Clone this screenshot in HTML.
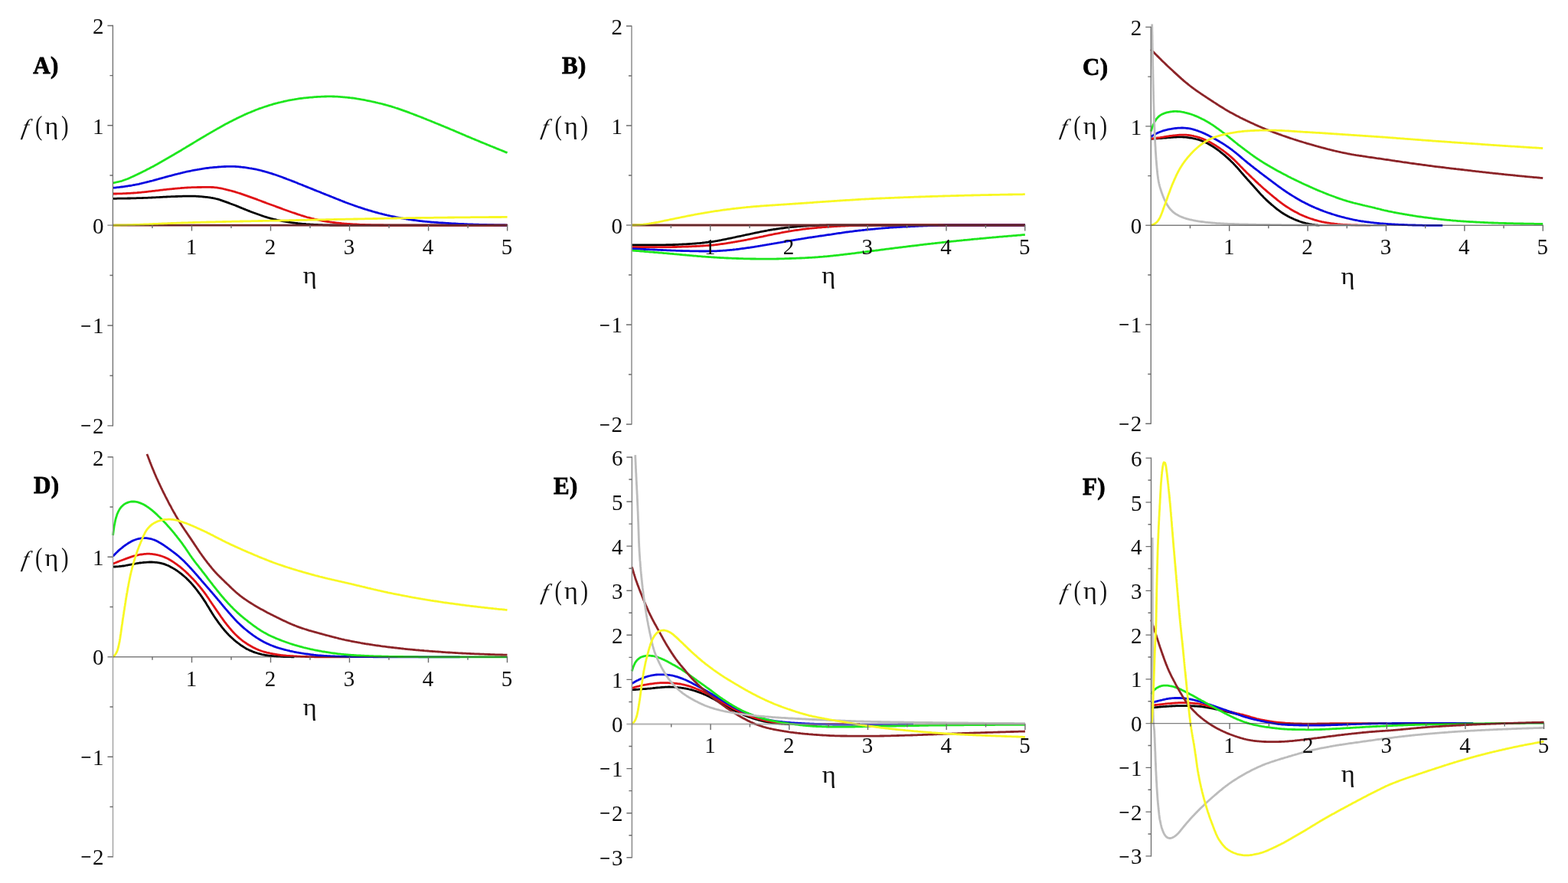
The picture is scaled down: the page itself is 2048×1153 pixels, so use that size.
<!DOCTYPE html>
<html lang="en">
<head>
<meta charset="utf-8">
<title>f(η) plots</title>
<style>
html,body{margin:0;padding:0;background:#fff;}
body{width:2048px;height:1153px;overflow:hidden;}
svg{display:block;font-family:"Liberation Serif","DejaVu Serif",serif;}
.ax{fill:none;stroke-linecap:butt;}
.tick{stroke:#6c6c6c;stroke-width:1.4;}
.cv{fill:none;stroke-width:2.8;stroke-linejoin:round;stroke-linecap:butt;}
.tk{font-size:29px;fill:#0c0c0c;}
.mn{font-size:25px;font-weight:bold;fill:#0c0c0c;}
.lt{font-size:31px;font-weight:bold;fill:#000;stroke:#000;stroke-width:0.8;letter-spacing:0.3px;}
.fl{fill:#111;}
.it{font-size:29.7px;font-style:italic;}
.pr{font-size:36.7px;}
.gk{font-size:32.35px;}
.et{font-size:32.3px;fill:#111;}
</style>
</head>
<body>
<svg xmlns="http://www.w3.org/2000/svg" width="2048" height="1153" viewBox="0 0 2048 1153">
<rect width="2048" height="1153" fill="#ffffff"/>
<g class="panel" id="panel-A">
<path class="cv" stroke="#000000" d="M147.4 259.3 L148.9 259.3 L150.4 259.3 L151.9 259.3 L153.4 259.2 L154.9 259.2 L156.4 259.2 L157.9 259.2 L159.4 259.2 L160.9 259.1 L162.4 259.1 L163.9 259.1 L165.4 259.1 L166.9 259.0 L168.4 259.0 L169.9 259.0 L171.4 258.9 L172.9 258.9 L174.4 258.9 L175.9 258.8 L177.4 258.8 L178.9 258.7 L180.4 258.7 L181.9 258.7 L183.4 258.6 L184.9 258.6 L186.4 258.5 L187.9 258.4 L189.4 258.4 L190.9 258.3 L192.4 258.3 L193.9 258.2 L195.4 258.1 L196.9 258.1 L198.4 258.0 L199.9 257.9 L201.4 257.9 L202.9 257.8 L204.4 257.7 L205.9 257.6 L207.4 257.6 L208.8 257.5 L210.3 257.4 L211.8 257.3 L213.3 257.2 L214.8 257.2 L216.3 257.1 L217.8 257.0 L219.3 256.9 L220.8 256.9 L222.3 256.8 L223.8 256.7 L225.3 256.7 L226.8 256.6 L228.3 256.6 L229.8 256.5 L231.3 256.5 L232.8 256.4 L234.3 256.4 L235.8 256.3 L237.3 256.3 L238.8 256.2 L240.3 256.2 L241.8 256.2 L243.3 256.1 L244.8 256.1 L246.3 256.1 L247.8 256.1 L249.3 256.1 L250.8 256.1 L252.3 256.1 L253.8 256.2 L255.3 256.2 L256.8 256.3 L258.3 256.4 L259.8 256.5 L261.3 256.6 L262.8 256.7 L264.3 256.8 L265.8 257.0 L267.3 257.1 L268.7 257.3 L270.2 257.4 L271.7 257.6 L273.2 257.8 L274.7 258.0 L276.2 258.3 L277.6 258.5 L279.1 258.8 L280.6 259.1 L282.0 259.5 L283.5 259.8 L284.9 260.2 L286.4 260.7 L287.8 261.1 L289.2 261.6 L290.6 262.1 L292.0 262.6 L293.5 263.1 L294.9 263.6 L296.3 264.1 L297.7 264.6 L299.1 265.1 L300.5 265.7 L301.9 266.2 L303.3 266.7 L304.7 267.3 L306.1 267.8 L307.5 268.3 L308.9 268.9 L310.3 269.4 L311.7 270.0 L313.1 270.6 L314.4 271.1 L315.8 271.7 L317.2 272.3 L318.6 272.9 L320.0 273.4 L321.4 274.0 L322.8 274.5 L324.2 275.1 L325.6 275.6 L327.0 276.2 L328.4 276.7 L329.8 277.2 L331.2 277.8 L332.6 278.3 L334.0 278.8 L335.4 279.3 L336.8 279.8 L338.2 280.3 L339.6 280.8 L341.0 281.3 L342.5 281.8 L343.9 282.3 L345.3 282.8 L346.7 283.2 L348.2 283.7 L349.6 284.1 L351.0 284.5 L352.5 284.9 L353.9 285.3 L355.4 285.7 L356.8 286.0 L358.3 286.4 L359.8 286.7 L361.2 287.1 L362.7 287.4 L364.2 287.7 L365.6 288.0 L367.1 288.3 L368.6 288.6 L370.0 288.9 L371.5 289.2 L373.0 289.4 L374.5 289.7 L375.9 289.9 L377.4 290.1 L378.9 290.4 L380.4 290.6 L381.9 290.8 L383.4 291.0 L384.8 291.1 L386.3 291.3 L387.8 291.5 L389.3 291.7 L390.8 291.8 L392.3 292.0 L393.8 292.1 L395.3 292.3 L396.8 292.4 L398.3 292.5 L399.8 292.7 L401.3 292.8 L402.8 292.9 L404.2 293.0 L405.7 293.1 L407.2 293.2 L408.7 293.2 L410.2 293.3 L411.7 293.4 L413.2 293.4 L414.7 293.5 L416.2 293.6 L417.7 293.6 L419.2 293.7 L420.7 293.7 L422.2 293.8 L423.7 293.8 L425.2 293.9 L426.7 293.9 L428.2 293.9 L429.7 293.9 L431.2 294.0 L432.7 294.0 L434.2 294.0 L435.7 294.0 L437.2 294.0 L438.7 294.0 L440.2 294.0 L441.7 294.0 L443.2 294.1 L444.7 294.1 L446.2 294.1 L447.7 294.1 L449.2 294.1 L450.7 294.1 L452.2 294.1 L453.7 294.1 L455.2 294.1 L456.7 294.1 L458.2 294.1 L459.7 294.1 L461.7 294.1 L463.7 294.1 L465.7 294.1 L467.7 294.1 L469.7 294.1 L471.7 294.1 L473.7 294.1 L475.7 294.1 L477.7 294.1 L479.7 294.1 L481.7 294.1 L483.7 294.1 L485.7 294.1 L487.7 294.1 L489.7 294.1 L491.7 294.1 L493.7 294.1 L495.7 294.1 L497.7 294.1 L499.7 294.1 L501.7 294.1 L503.7 294.1 L505.7 294.1 L507.7 294.1 L509.7 294.1 L511.7 294.1 L513.7 294.1 L515.7 294.1 L517.7 294.1 L519.7 294.1 L521.7 294.1 L523.7 294.1 L525.7 294.1 L527.7 294.1 L529.7 294.1 L531.7 294.1 L533.7 294.1 L535.7 294.1 L537.7 294.1 L539.7 294.1 L541.7 294.1 L543.7 294.1 L545.7 294.1 L547.7 294.1 L549.7 294.1 L551.7 294.1 L553.7 294.1 L555.7 294.1 L557.7 294.1 L559.7 294.1 L561.7 294.1 L563.7 294.1 L565.7 294.1 L567.7 294.1 L569.7 294.1 L571.7 294.1 L573.7 294.1 L575.7 294.1 L577.7 294.1 L579.7 294.1 L581.7 294.1 L583.7 294.1 L585.7 294.1 L587.7 294.1 L589.7 294.1 L591.7 294.1 L593.7 294.1 L595.7 294.1 L597.7 294.1 L599.7 294.1 L601.7 294.1 L603.7 294.1 L605.7 294.1 L607.7 294.1 L609.7 294.1 L611.7 294.1 L613.7 294.1 L615.7 294.1 L617.7 294.1 L619.7 294.1 L621.7 294.1 L623.7 294.1 L625.7 294.1 L627.7 294.1 L629.7 294.1 L631.7 294.1 L633.7 294.1 L635.7 294.1 L637.7 294.1 L639.7 294.1 L641.7 294.1 L643.7 294.1 L645.7 294.1 L647.7 294.1 L649.7 294.1 L651.7 294.1 L653.7 294.1 L655.7 294.1 L657.7 294.1 L659.7 294.1 L661.7 294.1 L662.6 294.1"/>
<path class="cv" stroke="#e01216" d="M147.4 253.0 L148.9 253.0 L150.4 253.0 L151.9 253.0 L153.4 252.9 L154.9 252.9 L156.4 252.9 L157.9 252.8 L159.4 252.8 L160.9 252.7 L162.4 252.6 L163.9 252.6 L165.4 252.5 L166.9 252.4 L168.4 252.4 L169.9 252.3 L171.4 252.2 L172.9 252.1 L174.4 252.0 L175.9 251.9 L177.4 251.8 L178.9 251.7 L180.3 251.5 L181.8 251.4 L183.3 251.3 L184.8 251.1 L186.3 250.9 L187.8 250.8 L189.3 250.6 L190.8 250.5 L192.3 250.3 L193.8 250.1 L195.3 249.9 L196.7 249.8 L198.2 249.6 L199.7 249.4 L201.2 249.3 L202.7 249.1 L204.2 248.9 L205.7 248.8 L207.2 248.6 L208.7 248.4 L210.2 248.2 L211.6 248.1 L213.1 247.9 L214.6 247.7 L216.1 247.6 L217.6 247.4 L219.1 247.2 L220.6 247.1 L222.1 246.9 L223.6 246.8 L225.1 246.6 L226.6 246.5 L228.1 246.4 L229.5 246.2 L231.0 246.1 L232.5 245.9 L234.0 245.8 L235.5 245.7 L237.0 245.5 L238.5 245.4 L240.0 245.3 L241.5 245.2 L243.0 245.1 L244.5 245.0 L246.0 244.9 L247.5 244.9 L249.0 244.8 L250.5 244.7 L252.0 244.7 L253.5 244.6 L255.0 244.6 L256.5 244.6 L258.0 244.5 L259.5 244.5 L261.0 244.5 L262.5 244.5 L264.0 244.4 L265.5 244.4 L267.0 244.4 L268.5 244.4 L270.0 244.4 L272.0 244.4 L273.5 244.4 L275.0 244.4 L276.5 244.5 L278.0 244.5 L279.5 244.6 L280.9 244.8 L282.4 244.9 L283.9 245.1 L285.4 245.4 L286.9 245.6 L288.3 245.9 L289.8 246.2 L291.3 246.5 L292.7 246.9 L294.2 247.2 L295.6 247.6 L297.1 247.9 L298.6 248.3 L300.0 248.7 L301.5 249.0 L302.9 249.4 L304.4 249.8 L305.8 250.2 L307.2 250.6 L308.7 251.1 L310.1 251.5 L311.5 252.0 L313.0 252.4 L314.4 252.9 L315.8 253.4 L317.2 253.9 L318.6 254.4 L320.0 254.9 L321.5 255.4 L322.9 255.9 L324.3 256.4 L325.7 256.9 L327.1 257.4 L328.5 257.9 L329.9 258.4 L331.3 258.9 L332.8 259.4 L334.2 259.9 L335.6 260.4 L337.0 261.0 L338.4 261.5 L339.8 262.0 L341.2 262.5 L342.6 263.1 L344.0 263.6 L345.4 264.1 L346.8 264.6 L348.2 265.2 L349.6 265.7 L351.0 266.2 L352.4 266.7 L353.8 267.2 L355.3 267.8 L356.7 268.3 L358.1 268.8 L359.5 269.3 L360.9 269.9 L362.3 270.4 L363.7 270.9 L365.1 271.4 L366.5 271.9 L367.9 272.4 L369.3 273.0 L370.7 273.5 L372.1 274.0 L373.6 274.5 L375.0 275.0 L376.4 275.5 L377.8 276.0 L379.2 276.5 L380.6 277.0 L382.0 277.5 L383.5 277.9 L384.9 278.4 L386.3 278.9 L387.7 279.4 L389.1 279.9 L390.6 280.3 L392.0 280.8 L393.4 281.3 L394.8 281.7 L396.3 282.2 L397.7 282.6 L399.1 283.0 L400.6 283.5 L402.0 283.9 L403.5 284.2 L404.9 284.6 L406.4 285.0 L407.8 285.4 L409.3 285.7 L410.8 286.1 L412.2 286.4 L413.7 286.7 L415.1 287.0 L416.6 287.4 L418.1 287.7 L419.5 288.0 L421.0 288.3 L422.5 288.5 L424.0 288.8 L425.4 289.0 L426.9 289.3 L428.4 289.5 L429.9 289.7 L431.4 290.0 L432.9 290.2 L434.3 290.4 L435.8 290.5 L437.3 290.7 L438.8 290.9 L440.3 291.1 L441.8 291.2 L443.3 291.4 L444.8 291.5 L446.3 291.7 L447.8 291.8 L449.3 292.0 L450.7 292.1 L452.2 292.2 L453.7 292.3 L455.2 292.4 L456.7 292.5 L458.2 292.6 L459.7 292.7 L461.2 292.8 L462.7 292.9 L464.2 293.0 L465.7 293.0 L467.2 293.1 L468.7 293.2 L470.2 293.3 L471.7 293.3 L473.2 293.4 L474.7 293.5 L476.2 293.5 L477.7 293.6 L479.2 293.6 L480.7 293.7 L482.2 293.7 L483.7 293.7 L485.2 293.8 L486.7 293.8 L488.2 293.8 L489.7 293.9 L491.2 293.9 L492.7 293.9 L494.2 293.9 L495.7 294.0 L497.2 294.0 L498.7 294.0 L500.2 294.0 L501.7 294.1 L503.2 294.1 L504.7 294.1 L506.2 294.1 L507.7 294.1 L509.2 294.1 L510.7 294.1 L512.2 294.1 L513.7 294.1 L515.2 294.1 L517.2 294.1 L519.2 294.1 L521.2 294.1 L523.2 294.1 L525.2 294.1 L527.2 294.1 L529.2 294.1 L531.2 294.1 L533.2 294.1 L535.2 294.1 L537.2 294.1 L539.2 294.1 L541.2 294.1 L543.2 294.1 L545.2 294.1 L547.2 294.1 L549.2 294.1 L551.2 294.1 L553.2 294.1 L555.2 294.1 L557.2 294.1 L559.2 294.1 L561.2 294.1 L563.2 294.1 L565.2 294.1 L567.2 294.1 L569.2 294.1 L571.2 294.1 L573.2 294.1 L575.2 294.1 L577.2 294.1 L579.2 294.1 L581.2 294.1 L583.2 294.1 L585.2 294.1 L587.2 294.1 L589.2 294.1 L591.2 294.1 L593.2 294.1 L595.2 294.1 L597.2 294.1 L599.2 294.1 L601.2 294.1 L603.2 294.1 L605.2 294.1 L607.2 294.1 L609.2 294.1 L611.2 294.1 L613.2 294.1 L615.2 294.1 L617.2 294.1 L619.2 294.1 L621.2 294.1 L623.2 294.1 L625.2 294.1 L627.2 294.1 L629.2 294.1 L631.2 294.1 L633.2 294.1 L635.2 294.1 L637.2 294.1 L639.2 294.1 L641.2 294.1 L643.2 294.1 L645.2 294.1 L647.2 294.1 L649.2 294.1 L651.2 294.1 L653.2 294.1 L655.2 294.1 L657.2 294.1 L659.2 294.1 L661.2 294.1 L662.6 294.1"/>
<path class="cv" stroke="#0808e0" d="M147.4 245.4 L148.9 245.2 L150.4 245.1 L151.9 244.9 L153.4 244.7 L154.9 244.6 L156.3 244.4 L157.8 244.2 L159.3 244.0 L160.8 243.8 L162.3 243.6 L163.8 243.4 L165.3 243.2 L166.7 243.0 L168.2 242.7 L169.7 242.5 L171.2 242.3 L172.7 242.0 L174.1 241.7 L175.6 241.5 L177.1 241.2 L178.5 240.9 L180.0 240.6 L181.5 240.3 L182.9 239.9 L184.4 239.6 L185.9 239.2 L187.3 238.9 L188.8 238.5 L190.2 238.2 L191.7 237.8 L193.1 237.4 L194.6 237.1 L196.0 236.7 L197.5 236.3 L198.9 236.0 L200.4 235.6 L201.8 235.2 L203.3 234.8 L204.7 234.4 L206.2 234.0 L207.6 233.6 L209.1 233.2 L210.5 232.8 L212.0 232.4 L213.4 232.0 L214.9 231.6 L216.3 231.2 L217.7 230.8 L219.2 230.4 L220.6 230.0 L222.1 229.6 L223.5 229.3 L225.0 228.9 L226.4 228.5 L227.9 228.1 L229.3 227.7 L230.8 227.4 L232.3 227.0 L233.7 226.6 L235.2 226.3 L236.6 225.9 L238.1 225.6 L239.5 225.2 L241.0 224.9 L242.5 224.5 L243.9 224.2 L245.4 223.9 L246.8 223.6 L248.3 223.3 L249.8 223.0 L251.3 222.7 L252.7 222.4 L254.2 222.1 L255.7 221.8 L257.1 221.6 L258.6 221.3 L260.1 221.1 L261.6 220.8 L263.1 220.6 L264.5 220.3 L266.0 220.1 L267.5 219.9 L269.0 219.7 L270.5 219.5 L272.0 219.3 L273.4 219.1 L274.9 218.9 L276.4 218.8 L277.9 218.6 L279.4 218.5 L280.9 218.4 L282.4 218.3 L283.9 218.1 L285.4 218.0 L286.9 217.9 L288.4 217.8 L289.9 217.7 L291.4 217.6 L292.9 217.5 L294.4 217.5 L295.9 217.4 L297.4 217.4 L298.9 217.3 L300.4 217.3 L301.9 217.3 L303.4 217.3 L304.8 217.4 L306.3 217.4 L307.8 217.5 L309.3 217.6 L310.8 217.7 L312.3 217.9 L313.8 218.0 L315.3 218.2 L316.8 218.3 L318.3 218.5 L319.8 218.7 L321.3 218.9 L322.7 219.1 L324.2 219.3 L325.7 219.6 L327.2 219.8 L328.7 220.0 L330.1 220.3 L331.6 220.6 L333.1 220.9 L334.6 221.2 L336.0 221.5 L337.5 221.8 L338.9 222.2 L340.4 222.5 L341.8 222.9 L343.3 223.3 L344.7 223.7 L346.2 224.1 L347.6 224.5 L349.1 224.9 L350.5 225.3 L351.9 225.8 L353.4 226.2 L354.8 226.6 L356.2 227.1 L357.7 227.6 L359.1 228.0 L360.5 228.5 L361.9 229.0 L363.3 229.5 L364.7 230.0 L366.2 230.5 L367.6 231.0 L369.0 231.5 L370.4 232.1 L371.8 232.6 L373.2 233.1 L374.6 233.7 L376.0 234.2 L377.4 234.7 L378.8 235.3 L380.2 235.8 L381.6 236.4 L383.0 236.9 L384.4 237.4 L385.8 238.0 L387.2 238.5 L388.5 239.1 L389.9 239.7 L391.3 240.2 L392.7 240.8 L394.1 241.3 L395.5 241.9 L396.9 242.5 L398.3 243.0 L399.7 243.6 L401.1 244.1 L402.5 244.7 L403.8 245.3 L405.2 245.8 L406.6 246.4 L408.0 246.9 L409.4 247.5 L410.8 248.1 L412.2 248.6 L413.6 249.2 L415.0 249.7 L416.4 250.3 L417.8 250.8 L419.2 251.4 L420.5 252.0 L421.9 252.5 L423.3 253.1 L424.7 253.6 L426.1 254.2 L427.5 254.7 L428.9 255.3 L430.3 255.9 L431.7 256.4 L433.1 257.0 L434.5 257.5 L435.9 258.1 L437.2 258.6 L438.6 259.2 L440.0 259.8 L441.4 260.3 L442.8 260.9 L444.2 261.4 L445.6 262.0 L447.0 262.5 L448.4 263.1 L449.8 263.6 L451.2 264.2 L452.6 264.7 L454.0 265.2 L455.4 265.8 L456.8 266.3 L458.2 266.8 L459.6 267.3 L461.0 267.8 L462.4 268.3 L463.9 268.8 L465.3 269.3 L466.7 269.8 L468.1 270.3 L469.5 270.7 L471.0 271.2 L472.4 271.7 L473.8 272.1 L475.2 272.6 L476.7 273.1 L478.1 273.5 L479.5 273.9 L481.0 274.4 L482.4 274.8 L483.8 275.2 L485.3 275.6 L486.7 276.1 L488.2 276.5 L489.6 276.9 L491.0 277.3 L492.5 277.7 L493.9 278.1 L495.4 278.5 L496.8 278.8 L498.3 279.2 L499.7 279.6 L501.2 279.9 L502.7 280.3 L504.1 280.6 L505.6 281.0 L507.0 281.3 L508.5 281.7 L510.0 282.0 L511.4 282.3 L512.9 282.6 L514.4 282.9 L515.8 283.2 L517.3 283.5 L518.8 283.8 L520.2 284.1 L521.7 284.4 L523.2 284.7 L524.7 285.0 L526.1 285.2 L527.6 285.5 L529.1 285.7 L530.6 286.0 L532.0 286.2 L533.5 286.5 L535.0 286.7 L536.5 286.9 L538.0 287.1 L539.5 287.3 L540.9 287.5 L542.4 287.7 L543.9 287.9 L545.4 288.1 L546.9 288.3 L548.4 288.5 L549.9 288.6 L551.4 288.8 L552.8 289.0 L554.3 289.1 L555.8 289.3 L557.3 289.4 L558.8 289.6 L560.3 289.7 L561.8 289.8 L563.3 290.0 L564.8 290.1 L566.3 290.2 L567.8 290.3 L569.3 290.4 L570.8 290.5 L572.3 290.6 L573.8 290.8 L575.3 290.9 L576.8 291.0 L578.3 291.0 L579.7 291.1 L581.2 291.2 L582.7 291.3 L584.2 291.4 L585.7 291.5 L587.2 291.6 L588.7 291.7 L590.2 291.8 L591.7 291.9 L593.2 291.9 L594.7 292.0 L596.2 292.1 L597.7 292.2 L599.2 292.3 L600.7 292.3 L602.2 292.4 L603.7 292.5 L605.2 292.5 L606.7 292.6 L608.2 292.7 L609.7 292.7 L611.2 292.8 L612.7 292.8 L614.2 292.9 L615.7 293.0 L617.2 293.0 L618.7 293.1 L620.2 293.1 L621.7 293.2 L623.2 293.2 L624.7 293.2 L626.2 293.3 L627.7 293.3 L629.2 293.4 L630.7 293.4 L632.2 293.5 L633.7 293.5 L635.2 293.5 L636.7 293.6 L638.2 293.6 L639.7 293.6 L641.2 293.7 L642.7 293.7 L644.2 293.7 L645.7 293.8 L647.2 293.8 L648.7 293.8 L650.2 293.9 L651.7 293.9 L653.2 293.9 L654.7 294.0 L656.2 294.0 L657.7 294.0 L659.2 294.0 L660.7 294.1 L662.2 294.1 L662.6 294.1"/>
<path class="cv" stroke="#1ee61e" d="M147.4 238.8 L148.9 238.6 L150.3 238.3 L151.8 238.0 L153.3 237.7 L154.7 237.4 L156.2 237.0 L157.6 236.7 L159.1 236.3 L160.5 235.8 L161.9 235.3 L163.3 234.8 L164.7 234.3 L166.1 233.8 L167.5 233.2 L168.9 232.6 L170.2 232.0 L171.6 231.3 L173.0 230.7 L174.3 230.1 L175.7 229.5 L177.0 228.8 L178.4 228.2 L179.7 227.5 L181.1 226.9 L182.4 226.2 L183.8 225.6 L185.1 224.9 L186.5 224.2 L187.8 223.6 L189.2 222.9 L190.5 222.2 L191.8 221.5 L193.2 220.8 L194.5 220.2 L195.8 219.5 L197.1 218.8 L198.5 218.1 L199.8 217.4 L201.1 216.7 L202.4 215.9 L203.7 215.2 L205.1 214.5 L206.4 213.8 L207.7 213.0 L209.0 212.3 L210.3 211.6 L211.6 210.8 L212.9 210.1 L214.2 209.3 L215.5 208.6 L216.8 207.8 L218.1 207.1 L219.4 206.3 L220.7 205.6 L222.0 204.8 L223.3 204.1 L224.6 203.3 L225.9 202.6 L227.2 201.8 L228.4 201.0 L229.7 200.3 L231.0 199.5 L232.3 198.8 L233.6 198.0 L234.9 197.2 L236.2 196.5 L237.5 195.7 L238.7 194.9 L240.0 194.1 L241.3 193.4 L242.6 192.6 L243.9 191.8 L245.2 191.1 L246.5 190.3 L247.7 189.5 L249.0 188.7 L250.3 188.0 L251.6 187.2 L252.9 186.4 L254.2 185.6 L255.4 184.9 L256.7 184.1 L258.0 183.3 L259.3 182.6 L260.6 181.8 L261.9 181.0 L263.1 180.2 L264.4 179.5 L265.7 178.7 L267.0 177.9 L268.3 177.2 L269.6 176.4 L270.9 175.6 L272.2 174.9 L273.5 174.1 L274.8 173.4 L276.1 172.6 L277.4 171.9 L278.7 171.1 L280.0 170.4 L281.3 169.6 L282.6 168.9 L283.9 168.1 L285.2 167.4 L286.5 166.7 L287.8 165.9 L289.1 165.2 L290.4 164.5 L291.7 163.8 L293.0 163.0 L294.3 162.3 L295.7 161.6 L297.0 160.9 L298.3 160.2 L299.6 159.5 L301.0 158.8 L302.3 158.2 L303.6 157.5 L305.0 156.8 L306.3 156.1 L307.7 155.5 L309.0 154.8 L310.3 154.1 L311.7 153.5 L313.0 152.8 L314.4 152.2 L315.8 151.5 L317.1 150.9 L318.5 150.3 L319.8 149.6 L321.2 149.0 L322.6 148.4 L323.9 147.8 L325.3 147.2 L326.7 146.7 L328.1 146.1 L329.5 145.5 L330.9 145.0 L332.3 144.4 L333.6 143.8 L335.0 143.3 L336.4 142.8 L337.8 142.2 L339.3 141.7 L340.7 141.2 L342.1 140.7 L343.5 140.2 L344.9 139.7 L346.3 139.2 L347.7 138.8 L349.2 138.3 L350.6 137.9 L352.0 137.4 L353.5 137.0 L354.9 136.6 L356.3 136.1 L357.8 135.7 L359.2 135.3 L360.7 134.9 L362.1 134.6 L363.6 134.2 L365.0 133.8 L366.5 133.5 L367.9 133.1 L369.4 132.8 L370.9 132.4 L372.3 132.1 L373.8 131.8 L375.3 131.5 L376.7 131.2 L378.2 130.9 L379.7 130.6 L381.1 130.4 L382.6 130.1 L384.1 129.9 L385.6 129.6 L387.1 129.4 L388.5 129.2 L390.0 128.9 L391.5 128.7 L393.0 128.5 L394.5 128.3 L396.0 128.1 L397.4 127.9 L398.9 127.8 L400.4 127.6 L401.9 127.5 L403.4 127.3 L404.9 127.2 L406.4 127.1 L407.9 127.0 L409.4 126.8 L410.9 126.7 L412.4 126.6 L413.9 126.5 L415.4 126.4 L416.9 126.4 L418.4 126.3 L419.9 126.2 L421.3 126.1 L422.8 126.1 L424.3 126.0 L425.8 126.0 L427.3 125.9 L428.8 125.9 L430.3 125.9 L431.8 125.9 L433.3 125.9 L434.8 126.0 L436.3 126.0 L437.8 126.1 L439.3 126.2 L440.8 126.2 L442.3 126.3 L443.8 126.4 L445.3 126.6 L446.8 126.7 L448.3 126.8 L449.8 126.9 L451.3 127.1 L452.8 127.2 L454.3 127.3 L455.7 127.5 L457.2 127.7 L458.7 127.8 L460.2 128.0 L461.7 128.2 L463.2 128.4 L464.7 128.6 L466.1 128.9 L467.6 129.1 L469.1 129.3 L470.6 129.6 L472.1 129.9 L473.5 130.1 L475.0 130.4 L476.5 130.7 L477.9 131.0 L479.4 131.3 L480.9 131.6 L482.4 131.9 L483.8 132.2 L485.3 132.5 L486.8 132.8 L488.2 133.1 L489.7 133.4 L491.1 133.8 L492.6 134.1 L494.1 134.5 L495.5 134.8 L497.0 135.2 L498.4 135.5 L499.9 135.9 L501.3 136.3 L502.8 136.7 L504.2 137.1 L505.7 137.5 L507.1 137.9 L508.5 138.3 L510.0 138.7 L511.4 139.1 L512.9 139.6 L514.3 140.0 L515.7 140.5 L517.1 141.0 L518.6 141.4 L520.0 141.9 L521.4 142.4 L522.8 142.9 L524.2 143.4 L525.6 143.9 L527.0 144.4 L528.5 144.9 L529.9 145.4 L531.3 145.9 L532.7 146.4 L534.1 146.9 L535.5 147.5 L536.9 148.0 L538.3 148.5 L539.7 149.0 L541.1 149.6 L542.5 150.1 L543.9 150.6 L545.3 151.2 L546.7 151.7 L548.1 152.3 L549.5 152.8 L550.9 153.4 L552.3 153.9 L553.7 154.5 L555.1 155.0 L556.5 155.6 L557.8 156.2 L559.2 156.7 L560.6 157.3 L562.0 157.8 L563.4 158.4 L564.8 159.0 L566.2 159.5 L567.6 160.1 L569.0 160.7 L570.3 161.2 L571.7 161.8 L573.1 162.4 L574.5 162.9 L575.9 163.5 L577.3 164.1 L578.7 164.6 L580.0 165.2 L581.4 165.8 L582.8 166.4 L584.2 166.9 L585.6 167.5 L587.0 168.1 L588.3 168.7 L589.7 169.3 L591.1 169.8 L592.5 170.4 L593.9 171.0 L595.2 171.6 L596.6 172.2 L598.0 172.8 L599.4 173.4 L600.8 174.0 L602.1 174.5 L603.5 175.1 L604.9 175.7 L606.3 176.3 L607.7 176.9 L609.0 177.5 L610.4 178.1 L611.8 178.6 L613.2 179.2 L614.6 179.8 L615.9 180.4 L617.3 181.0 L618.7 181.5 L620.1 182.1 L621.5 182.7 L622.9 183.3 L624.2 183.8 L625.6 184.4 L627.0 185.0 L628.4 185.6 L629.8 186.1 L631.2 186.7 L632.6 187.3 L633.9 187.8 L635.3 188.4 L636.7 189.0 L638.1 189.5 L639.5 190.1 L640.9 190.7 L642.3 191.2 L643.7 191.8 L645.0 192.4 L646.4 192.9 L647.8 193.5 L649.2 194.1 L650.6 194.6 L652.0 195.2 L653.4 195.8 L654.8 196.3 L656.2 196.9 L657.5 197.4 L658.9 198.0 L660.3 198.6 L661.7 199.1 L662.6 199.5"/>
<path class="cv" stroke="#8c2428" stroke-width="2.6" d="M147.4 294.1 L662.6 294.1"/>
<path class="cv" stroke="#f8f824" d="M147.4 294.1 L148.9 294.1 L150.4 294.1 L151.9 294.0 L153.4 294.0 L154.9 294.0 L156.4 294.0 L157.9 293.9 L159.4 293.9 L160.9 293.9 L162.4 293.8 L163.9 293.8 L165.4 293.8 L166.9 293.7 L168.4 293.7 L169.9 293.7 L171.4 293.6 L172.9 293.6 L174.4 293.5 L175.9 293.5 L177.4 293.4 L178.9 293.4 L180.4 293.3 L181.9 293.3 L183.4 293.2 L184.9 293.1 L186.4 293.1 L187.9 293.0 L189.4 292.9 L190.9 292.9 L192.4 292.8 L193.9 292.8 L195.4 292.7 L196.9 292.6 L198.4 292.6 L199.9 292.5 L201.4 292.4 L202.9 292.4 L204.4 292.3 L205.9 292.3 L207.4 292.2 L208.9 292.1 L210.3 292.1 L211.8 292.0 L213.3 292.0 L214.8 291.9 L216.3 291.8 L217.8 291.8 L219.3 291.7 L220.8 291.7 L222.3 291.6 L223.8 291.5 L225.3 291.5 L226.8 291.4 L228.3 291.4 L229.8 291.3 L231.3 291.2 L232.8 291.2 L234.3 291.1 L235.8 291.1 L237.3 291.0 L238.8 291.0 L240.3 290.9 L241.8 290.9 L243.3 290.8 L244.8 290.8 L246.3 290.7 L247.8 290.7 L249.3 290.6 L250.8 290.6 L252.3 290.5 L253.8 290.5 L255.3 290.4 L256.8 290.4 L258.3 290.4 L259.8 290.3 L261.3 290.3 L262.8 290.2 L264.3 290.2 L265.8 290.1 L267.3 290.1 L268.8 290.1 L270.3 290.0 L271.8 290.0 L273.3 290.0 L274.8 289.9 L276.3 289.9 L277.8 289.8 L279.3 289.8 L280.8 289.8 L282.3 289.7 L283.8 289.7 L285.3 289.7 L286.8 289.6 L288.3 289.6 L289.8 289.6 L291.3 289.5 L292.8 289.5 L294.3 289.5 L295.8 289.4 L297.3 289.4 L298.8 289.4 L300.3 289.3 L301.8 289.3 L303.3 289.2 L304.8 289.2 L306.3 289.2 L307.8 289.2 L309.3 289.1 L310.8 289.1 L312.3 289.1 L313.8 289.0 L315.3 289.0 L316.8 289.0 L318.3 288.9 L319.8 288.9 L321.3 288.9 L322.8 288.8 L324.3 288.8 L325.8 288.8 L327.3 288.8 L328.8 288.7 L330.3 288.7 L331.8 288.7 L333.3 288.6 L334.8 288.6 L336.3 288.6 L337.8 288.5 L339.3 288.5 L340.8 288.5 L342.3 288.5 L343.8 288.4 L345.3 288.4 L346.8 288.4 L348.3 288.3 L349.8 288.3 L351.3 288.3 L352.8 288.2 L354.3 288.2 L355.8 288.2 L357.3 288.2 L358.8 288.1 L360.3 288.1 L361.8 288.1 L363.3 288.0 L364.8 288.0 L366.3 288.0 L367.8 287.9 L369.3 287.9 L370.8 287.9 L372.3 287.9 L373.8 287.8 L375.3 287.8 L376.8 287.8 L378.3 287.7 L379.8 287.7 L381.2 287.7 L382.7 287.6 L384.2 287.6 L385.7 287.6 L387.2 287.5 L388.7 287.5 L390.2 287.5 L391.7 287.4 L393.2 287.4 L394.7 287.4 L396.2 287.4 L397.7 287.3 L399.2 287.3 L400.7 287.3 L402.2 287.2 L403.7 287.2 L405.2 287.2 L406.7 287.1 L408.2 287.1 L409.7 287.1 L411.2 287.0 L412.7 287.0 L414.2 287.0 L415.7 287.0 L417.2 286.9 L418.7 286.9 L420.2 286.9 L421.7 286.8 L423.2 286.8 L424.7 286.8 L426.2 286.7 L427.7 286.7 L429.2 286.7 L430.7 286.7 L432.2 286.6 L433.7 286.6 L435.2 286.6 L436.7 286.5 L438.2 286.5 L439.7 286.5 L441.2 286.4 L442.7 286.4 L444.2 286.4 L445.7 286.4 L447.2 286.3 L448.7 286.3 L450.2 286.3 L451.7 286.2 L453.2 286.2 L454.7 286.2 L456.2 286.2 L457.7 286.1 L459.2 286.1 L460.7 286.1 L462.2 286.0 L463.7 286.0 L465.2 286.0 L466.7 286.0 L468.2 285.9 L469.7 285.9 L471.2 285.9 L472.7 285.8 L474.2 285.8 L475.7 285.8 L477.2 285.7 L478.7 285.7 L480.2 285.7 L481.7 285.7 L483.2 285.6 L484.7 285.6 L486.2 285.6 L487.7 285.5 L489.2 285.5 L490.7 285.5 L492.2 285.5 L493.7 285.4 L495.2 285.4 L496.7 285.4 L498.2 285.3 L499.7 285.3 L501.2 285.3 L502.7 285.2 L504.2 285.2 L505.7 285.2 L507.2 285.2 L508.7 285.1 L510.2 285.1 L511.7 285.1 L513.2 285.1 L514.7 285.0 L516.2 285.0 L517.7 285.0 L519.2 284.9 L520.7 284.9 L522.2 284.9 L523.7 284.9 L525.2 284.8 L526.7 284.8 L528.2 284.8 L529.7 284.8 L531.2 284.7 L532.7 284.7 L534.2 284.7 L535.7 284.7 L537.2 284.6 L538.7 284.6 L540.2 284.6 L541.7 284.6 L543.2 284.5 L544.7 284.5 L546.2 284.5 L547.7 284.5 L549.2 284.5 L550.7 284.4 L552.2 284.4 L553.7 284.4 L555.2 284.4 L556.7 284.4 L558.2 284.3 L559.7 284.3 L561.2 284.3 L562.7 284.3 L564.2 284.3 L565.7 284.3 L567.2 284.2 L568.7 284.2 L570.2 284.2 L571.7 284.2 L573.2 284.2 L574.7 284.2 L576.2 284.1 L577.7 284.1 L579.2 284.1 L580.7 284.1 L582.2 284.1 L583.7 284.1 L585.2 284.0 L586.7 284.0 L588.2 284.0 L589.7 284.0 L591.2 284.0 L592.7 284.0 L594.2 283.9 L595.7 283.9 L597.2 283.9 L598.7 283.9 L600.2 283.9 L601.7 283.9 L603.2 283.9 L604.7 283.8 L606.2 283.8 L607.7 283.8 L609.2 283.8 L610.7 283.8 L612.2 283.8 L613.7 283.8 L615.2 283.7 L616.7 283.7 L618.2 283.7 L619.7 283.7 L621.2 283.7 L622.7 283.7 L624.2 283.7 L625.7 283.6 L627.2 283.6 L628.7 283.6 L630.2 283.6 L631.7 283.6 L633.2 283.6 L634.7 283.6 L636.2 283.6 L637.7 283.6 L639.2 283.5 L640.7 283.5 L642.2 283.5 L643.7 283.5 L645.2 283.5 L646.7 283.5 L648.2 283.5 L649.7 283.5 L651.2 283.5 L652.7 283.5 L654.2 283.5 L655.7 283.4 L657.2 283.4 L658.7 283.4 L660.2 283.4 L661.7 283.4 L662.6 283.4"/>
<path class="ax" stroke="#303030" stroke-width="1.4" stroke-opacity="0.62" d="M140.40 294.10 H663.25"/>
<path class="ax" stroke="#6c6c6c" stroke-width="1.3" d="M147.40 32.84 V556.50"/>
<path class="ax tick" d="M147.40 555.90 h-7.0 M147.40 490.45 h-4.0 M147.40 425.00 h-7.0 M147.40 359.55 h-4.0 M147.40 228.94 h-4.0 M147.40 163.77 h-7.0 M147.40 98.61 h-4.0 M147.40 33.44 h-7.0 M198.93 294.10 v4.0 M250.45 294.10 v7.5 M301.98 294.10 v4.0 M353.50 294.10 v7.5 M405.02 294.10 v4.0 M456.55 294.10 v7.5 M508.08 294.10 v4.0 M559.60 294.10 v7.5 M611.12 294.10 v4.0 M662.65 294.10 v7.5"/>
<text class="tk" text-anchor="end" x="135.5" y="566.0">2</text>
<text class="mn" x="105.1" y="564.4">−</text>
<text class="tk" text-anchor="end" x="135.5" y="435.3">1</text>
<text class="mn" x="105.1" y="433.7">−</text>
<text class="tk" text-anchor="end" x="135.5" y="304.6">0</text>
<text class="tk" text-anchor="end" x="135.5" y="174.5">1</text>
<text class="tk" text-anchor="end" x="135.5" y="44.3">2</text>
<text class="tk" text-anchor="middle" x="249.9" y="332.1">1</text>
<text class="tk" text-anchor="middle" x="353.0" y="332.1">2</text>
<text class="tk" text-anchor="middle" x="456.0" y="332.1">3</text>
<text class="tk" text-anchor="middle" x="559.1" y="332.1">4</text>
<text class="tk" text-anchor="middle" x="662.1" y="332.1">5</text>
<text class="lt" x="43.3" y="96">A)</text>
<text class="fl it" transform="translate(27.40 175.80) skewX(-10.4)">f</text>
<text class="fl pr" transform="translate(46.00 175.80) scale(0.765 1)">(</text>
<text class="fl gk" transform="translate(58.50 175.20) scale(1.055 1)">η</text>
<text class="fl pr" transform="translate(80.10 175.80) scale(0.78 1)">)</text>
<text class="et" transform="translate(395.70 370.40) scale(1.07 1)">η</text>
</g>
<g class="panel" id="panel-B">
<path class="cv" stroke="#000000" d="M825.0 320.0 L827.0 320.0 L829.0 320.0 L831.0 320.0 L833.0 320.0 L835.0 320.0 L837.0 320.0 L839.0 320.0 L841.0 320.0 L843.0 320.0 L845.0 320.0 L846.5 320.0 L848.0 320.0 L849.5 320.0 L851.0 320.0 L852.5 320.0 L854.0 320.0 L855.5 320.0 L857.0 320.0 L858.5 319.9 L860.0 319.9 L861.5 319.9 L863.0 319.9 L864.5 319.9 L866.0 319.8 L867.5 319.8 L869.0 319.8 L870.5 319.7 L872.0 319.7 L873.5 319.7 L875.0 319.6 L876.5 319.6 L878.0 319.6 L879.5 319.5 L881.0 319.5 L882.5 319.4 L884.0 319.4 L885.5 319.3 L887.0 319.2 L888.5 319.2 L890.0 319.1 L891.5 319.0 L893.0 318.9 L894.5 318.9 L896.0 318.8 L897.5 318.7 L898.9 318.6 L900.4 318.5 L901.9 318.4 L903.4 318.3 L904.9 318.2 L906.4 318.1 L907.9 318.0 L909.4 317.9 L910.9 317.7 L912.4 317.6 L913.9 317.5 L915.4 317.3 L916.9 317.2 L918.4 317.0 L919.9 316.9 L921.4 316.7 L922.8 316.5 L924.3 316.4 L925.8 316.2 L927.3 316.0 L928.8 315.8 L930.3 315.6 L931.8 315.3 L933.2 315.1 L934.7 314.8 L936.2 314.6 L937.7 314.3 L939.1 314.0 L940.6 313.8 L942.1 313.5 L943.6 313.2 L945.0 312.9 L946.5 312.6 L948.0 312.3 L949.4 312.0 L950.9 311.7 L952.4 311.4 L953.8 311.1 L955.3 310.8 L956.8 310.5 L958.2 310.2 L959.7 309.9 L961.2 309.5 L962.6 309.2 L964.1 308.9 L965.6 308.6 L967.0 308.3 L968.5 308.0 L970.0 307.7 L971.4 307.3 L972.9 307.0 L974.4 306.7 L975.8 306.4 L977.3 306.1 L978.8 305.8 L980.2 305.5 L981.7 305.2 L983.2 304.8 L984.6 304.5 L986.1 304.2 L987.6 303.9 L989.0 303.6 L990.5 303.3 L992.0 303.0 L993.4 302.7 L994.9 302.4 L996.4 302.1 L997.9 301.8 L999.3 301.5 L1000.8 301.3 L1002.3 301.0 L1003.8 300.7 L1005.2 300.5 L1006.7 300.2 L1008.2 300.0 L1009.7 299.7 L1011.1 299.5 L1012.6 299.3 L1014.1 299.0 L1015.6 298.8 L1017.1 298.6 L1018.6 298.4 L1020.0 298.2 L1021.5 298.0 L1023.0 297.8 L1024.5 297.6 L1026.0 297.4 L1027.5 297.2 L1029.0 297.1 L1030.5 296.9 L1032.0 296.7 L1033.4 296.6 L1034.9 296.4 L1036.4 296.3 L1037.9 296.1 L1039.4 296.0 L1040.9 295.9 L1042.4 295.7 L1043.9 295.6 L1045.4 295.5 L1046.9 295.4 L1048.4 295.3 L1049.9 295.2 L1051.4 295.1 L1052.9 295.0 L1054.4 294.9 L1055.9 294.8 L1057.4 294.7 L1058.9 294.7 L1060.4 294.6 L1061.9 294.5 L1063.4 294.5 L1064.9 294.4 L1066.4 294.4 L1067.8 294.3 L1069.3 294.3 L1070.8 294.2 L1072.3 294.2 L1073.8 294.1 L1075.3 294.1 L1076.8 294.1 L1078.3 294.1 L1079.8 294.0 L1081.3 294.0 L1082.8 294.0 L1084.3 294.0 L1085.8 294.0 L1087.3 294.0 L1088.8 294.0 L1090.3 294.0 L1092.3 294.0 L1094.3 294.0 L1096.3 294.0 L1098.3 294.0 L1100.3 294.0 L1102.3 294.0 L1104.3 294.0 L1106.3 294.0 L1108.3 294.0 L1110.3 294.0 L1112.3 294.0 L1114.3 294.0 L1116.3 294.0 L1118.3 294.0 L1120.3 294.0 L1122.3 294.0 L1124.3 294.0 L1126.3 294.0 L1128.3 294.0 L1130.3 294.0 L1132.3 294.0 L1134.3 294.0 L1136.3 294.0 L1138.3 294.0 L1140.3 294.0 L1142.3 294.0 L1144.3 294.0 L1146.3 294.0 L1148.3 294.0 L1150.3 294.0 L1152.3 294.0 L1154.3 294.0 L1156.3 294.0 L1158.3 294.0 L1160.3 294.0 L1162.3 294.0 L1164.3 294.0 L1166.3 294.0 L1168.3 294.0 L1170.3 294.0 L1172.3 294.0 L1174.3 294.0 L1176.3 294.0 L1178.3 294.0 L1180.3 294.0 L1182.3 294.0 L1184.3 294.0 L1186.3 294.0 L1188.3 294.0 L1190.3 294.0 L1192.3 294.0 L1194.3 294.0 L1196.3 294.0 L1198.3 294.0 L1200.3 294.0 L1202.3 294.0 L1204.3 294.0 L1206.3 294.0 L1208.3 294.0 L1210.3 294.0 L1212.3 294.0 L1214.3 294.0 L1216.3 294.0 L1218.3 294.0 L1220.3 294.0 L1222.3 294.0 L1224.3 294.0 L1226.3 294.0 L1228.3 294.0 L1230.3 294.0 L1232.3 294.0 L1234.3 294.0 L1236.3 294.0 L1238.3 294.0 L1240.3 294.0 L1242.3 294.0 L1244.3 294.0 L1246.3 294.0 L1248.3 294.0 L1250.3 294.0 L1252.3 294.0 L1254.3 294.0 L1256.3 294.0 L1258.3 294.0 L1260.3 294.0 L1262.3 294.0 L1264.3 294.0 L1266.3 294.0 L1268.3 294.0 L1270.3 294.0 L1272.3 294.0 L1274.3 294.0 L1276.3 294.0 L1278.3 294.0 L1280.3 294.0 L1282.3 294.0 L1284.3 294.0 L1286.3 294.0 L1288.3 294.0 L1290.3 294.0 L1292.3 294.0 L1294.3 294.0 L1296.3 294.0 L1298.3 294.0 L1300.3 294.0 L1302.3 294.0 L1304.3 294.0 L1306.3 294.0 L1308.3 294.0 L1310.3 294.0 L1312.3 294.0 L1314.3 294.0 L1316.3 294.0 L1318.3 294.0 L1320.3 294.0 L1322.3 294.0 L1324.3 294.0 L1326.3 294.0 L1328.3 294.0 L1330.3 294.0 L1332.3 294.0 L1334.3 294.0 L1336.3 294.0 L1338.3 294.0 L1338.8 294.0"/>
<path class="cv" stroke="#e01216" d="M825.0 322.6 L826.5 322.6 L828.0 322.6 L829.5 322.6 L831.0 322.6 L832.5 322.7 L834.0 322.7 L835.5 322.7 L837.0 322.7 L838.5 322.7 L840.0 322.7 L841.5 322.7 L843.0 322.7 L844.5 322.7 L846.0 322.7 L847.5 322.7 L849.0 322.7 L850.5 322.7 L852.0 322.7 L853.5 322.7 L855.0 322.7 L856.5 322.7 L858.0 322.7 L859.5 322.7 L861.0 322.7 L862.5 322.7 L864.0 322.7 L865.5 322.7 L867.0 322.7 L868.5 322.7 L870.0 322.6 L871.5 322.6 L873.0 322.6 L874.5 322.6 L876.0 322.6 L877.5 322.6 L879.0 322.5 L880.5 322.5 L882.0 322.5 L883.5 322.5 L885.0 322.4 L886.5 322.4 L888.0 322.3 L889.5 322.3 L891.0 322.2 L892.5 322.2 L894.0 322.1 L895.5 322.1 L897.0 322.0 L898.5 322.0 L900.0 321.9 L901.5 321.8 L903.0 321.8 L904.5 321.7 L906.0 321.6 L907.5 321.6 L909.0 321.5 L910.5 321.4 L912.0 321.4 L913.5 321.3 L915.0 321.2 L916.4 321.1 L917.9 321.0 L919.4 320.9 L920.9 320.8 L922.4 320.7 L923.9 320.6 L925.4 320.5 L926.9 320.4 L928.4 320.3 L929.9 320.1 L931.4 320.0 L932.9 319.8 L934.4 319.7 L935.9 319.5 L937.4 319.3 L938.8 319.1 L940.3 318.9 L941.8 318.7 L943.3 318.5 L944.8 318.3 L946.3 318.1 L947.8 317.9 L949.2 317.6 L950.7 317.4 L952.2 317.2 L953.7 317.0 L955.2 316.7 L956.6 316.5 L958.1 316.2 L959.6 316.0 L961.1 315.7 L962.6 315.5 L964.0 315.2 L965.5 314.9 L967.0 314.7 L968.5 314.4 L969.9 314.1 L971.4 313.8 L972.9 313.5 L974.3 313.3 L975.8 313.0 L977.3 312.7 L978.8 312.4 L980.2 312.1 L981.7 311.8 L983.2 311.5 L984.6 311.2 L986.1 310.9 L987.6 310.6 L989.0 310.3 L990.5 310.0 L992.0 309.7 L993.5 309.4 L994.9 309.1 L996.4 308.8 L997.9 308.4 L999.3 308.1 L1000.8 307.8 L1002.3 307.5 L1003.7 307.2 L1005.2 306.9 L1006.7 306.6 L1008.1 306.3 L1009.6 306.0 L1011.1 305.7 L1012.5 305.4 L1014.0 305.1 L1015.5 304.9 L1017.0 304.6 L1018.4 304.3 L1019.9 304.0 L1021.4 303.7 L1022.9 303.4 L1024.3 303.2 L1025.8 302.9 L1027.3 302.6 L1028.8 302.4 L1030.2 302.1 L1031.7 301.9 L1033.2 301.6 L1034.7 301.4 L1036.2 301.2 L1037.6 300.9 L1039.1 300.7 L1040.6 300.5 L1042.1 300.3 L1043.6 300.1 L1045.1 299.8 L1046.5 299.6 L1048.0 299.4 L1049.5 299.2 L1051.0 299.1 L1052.5 298.9 L1054.0 298.7 L1055.5 298.5 L1057.0 298.4 L1058.5 298.2 L1059.9 298.1 L1061.4 297.9 L1062.9 297.8 L1064.4 297.6 L1065.9 297.5 L1067.4 297.3 L1068.9 297.2 L1070.4 297.1 L1071.9 297.0 L1073.4 296.8 L1074.9 296.7 L1076.4 296.6 L1077.9 296.5 L1079.4 296.4 L1080.9 296.3 L1082.4 296.2 L1083.9 296.1 L1085.4 296.0 L1086.8 295.9 L1088.3 295.8 L1089.8 295.7 L1091.3 295.6 L1092.8 295.5 L1094.3 295.4 L1095.8 295.4 L1097.3 295.3 L1098.8 295.2 L1100.3 295.1 L1101.8 295.0 L1103.3 295.0 L1104.8 294.9 L1106.3 294.8 L1107.8 294.8 L1109.3 294.7 L1110.8 294.6 L1112.3 294.6 L1113.8 294.5 L1115.3 294.5 L1116.8 294.4 L1118.3 294.4 L1119.8 294.3 L1121.3 294.3 L1122.8 294.2 L1124.3 294.2 L1125.8 294.1 L1127.3 294.1 L1128.8 294.1 L1130.3 294.1 L1131.8 294.0 L1133.3 294.0 L1134.8 294.0 L1136.3 294.0 L1137.8 294.0 L1139.3 294.0 L1140.8 294.0 L1142.3 294.0 L1144.3 294.0 L1146.3 294.0 L1148.3 294.0 L1150.3 294.0 L1152.3 294.0 L1154.3 294.0 L1156.3 294.0 L1158.3 294.0 L1160.3 294.0 L1162.3 294.0 L1164.3 294.0 L1166.3 294.0 L1168.3 294.0 L1170.3 294.0 L1172.3 294.0 L1174.3 294.0 L1176.3 294.0 L1178.3 294.0 L1180.3 294.0 L1182.3 294.0 L1184.3 294.0 L1186.3 294.0 L1188.3 294.0 L1190.3 294.0 L1192.3 294.0 L1194.3 294.0 L1196.3 294.0 L1198.3 294.0 L1200.3 294.0 L1202.3 294.0 L1204.3 294.0 L1206.3 294.0 L1208.3 294.0 L1210.3 294.0 L1212.3 294.0 L1214.3 294.0 L1216.3 294.0 L1218.3 294.0 L1220.3 294.0 L1222.3 294.0 L1224.3 294.0 L1226.3 294.0 L1228.3 294.0 L1230.3 294.0 L1232.3 294.0 L1234.3 294.0 L1236.3 294.0 L1238.3 294.0 L1240.3 294.0 L1242.3 294.0 L1244.3 294.0 L1246.3 294.0 L1248.3 294.0 L1250.3 294.0 L1252.3 294.0 L1254.3 294.0 L1256.3 294.0 L1258.3 294.0 L1260.3 294.0 L1262.3 294.0 L1264.3 294.0 L1266.3 294.0 L1268.3 294.0 L1270.3 294.0 L1272.3 294.0 L1274.3 294.0 L1276.3 294.0 L1278.3 294.0 L1280.3 294.0 L1282.3 294.0 L1284.3 294.0 L1286.3 294.0 L1288.3 294.0 L1290.3 294.0 L1292.3 294.0 L1294.3 294.0 L1296.3 294.0 L1298.3 294.0 L1300.3 294.0 L1302.3 294.0 L1304.3 294.0 L1306.3 294.0 L1308.3 294.0 L1310.3 294.0 L1312.3 294.0 L1314.3 294.0 L1316.3 294.0 L1318.3 294.0 L1320.3 294.0 L1322.3 294.0 L1324.3 294.0 L1326.3 294.0 L1328.3 294.0 L1330.3 294.0 L1332.3 294.0 L1334.3 294.0 L1336.3 294.0 L1338.3 294.0 L1338.8 294.0"/>
<path class="cv" stroke="#0808e0" d="M825.0 324.8 L826.5 324.9 L828.0 324.9 L829.5 325.0 L831.0 325.0 L832.5 325.1 L834.0 325.2 L835.5 325.2 L837.0 325.3 L838.5 325.3 L840.0 325.4 L841.5 325.5 L843.0 325.5 L844.5 325.6 L846.0 325.7 L847.5 325.7 L849.0 325.8 L850.5 325.8 L852.0 325.9 L853.5 326.0 L854.9 326.0 L856.4 326.1 L857.9 326.2 L859.4 326.3 L860.9 326.3 L862.4 326.4 L863.9 326.5 L865.4 326.5 L866.9 326.6 L868.4 326.7 L869.9 326.7 L871.4 326.8 L872.9 326.9 L874.4 326.9 L875.9 327.0 L877.4 327.1 L878.9 327.1 L880.4 327.2 L881.9 327.2 L883.4 327.3 L884.9 327.3 L886.4 327.4 L887.9 327.4 L889.4 327.5 L890.9 327.5 L892.4 327.6 L893.9 327.6 L895.4 327.6 L896.9 327.7 L898.4 327.7 L899.9 327.7 L901.4 327.8 L902.9 327.8 L904.4 327.8 L905.9 327.9 L907.4 327.9 L908.9 327.9 L910.4 327.9 L911.9 327.9 L913.4 328.0 L914.9 328.0 L916.4 328.0 L917.9 328.0 L919.4 328.0 L920.9 328.0 L922.4 328.0 L923.9 328.0 L925.4 328.0 L926.9 328.0 L928.4 328.0 L929.8 328.0 L931.3 327.9 L932.8 327.9 L934.3 327.8 L935.8 327.8 L937.3 327.7 L938.8 327.6 L940.3 327.5 L941.8 327.4 L943.3 327.3 L944.8 327.2 L946.3 327.1 L947.8 327.0 L949.3 326.8 L950.8 326.7 L952.3 326.6 L953.8 326.4 L955.3 326.3 L956.8 326.2 L958.2 326.0 L959.7 325.8 L961.2 325.7 L962.7 325.5 L964.2 325.3 L965.7 325.1 L967.2 324.9 L968.7 324.7 L970.1 324.5 L971.6 324.3 L973.1 324.1 L974.6 323.9 L976.1 323.7 L977.6 323.5 L979.0 323.3 L980.5 323.0 L982.0 322.8 L983.5 322.6 L985.0 322.4 L986.5 322.1 L987.9 321.9 L989.4 321.7 L990.9 321.4 L992.4 321.2 L993.9 320.9 L995.3 320.7 L996.8 320.4 L998.3 320.2 L999.8 319.9 L1001.2 319.7 L1002.7 319.4 L1004.2 319.2 L1005.7 318.9 L1007.1 318.7 L1008.6 318.4 L1010.1 318.2 L1011.6 317.9 L1013.1 317.6 L1014.5 317.4 L1016.0 317.1 L1017.5 316.8 L1019.0 316.6 L1020.4 316.3 L1021.9 316.1 L1023.4 315.8 L1024.9 315.5 L1026.3 315.3 L1027.8 315.0 L1029.3 314.8 L1030.8 314.5 L1032.2 314.3 L1033.7 314.0 L1035.2 313.8 L1036.7 313.5 L1038.2 313.3 L1039.6 313.0 L1041.1 312.8 L1042.6 312.5 L1044.1 312.3 L1045.5 312.1 L1047.0 311.8 L1048.5 311.6 L1050.0 311.4 L1051.5 311.1 L1053.0 310.9 L1054.4 310.7 L1055.9 310.4 L1057.4 310.2 L1058.9 310.0 L1060.4 309.8 L1061.8 309.5 L1063.3 309.3 L1064.8 309.1 L1066.3 308.9 L1067.8 308.7 L1069.3 308.4 L1070.7 308.2 L1072.2 308.0 L1073.7 307.8 L1075.2 307.6 L1076.7 307.4 L1078.2 307.1 L1079.6 306.9 L1081.1 306.7 L1082.6 306.5 L1084.1 306.3 L1085.6 306.1 L1087.0 305.8 L1088.5 305.6 L1090.0 305.4 L1091.5 305.2 L1093.0 304.9 L1094.5 304.7 L1095.9 304.5 L1097.4 304.3 L1098.9 304.1 L1100.4 303.8 L1101.9 303.6 L1103.4 303.4 L1104.8 303.2 L1106.3 303.0 L1107.8 302.8 L1109.3 302.6 L1110.8 302.4 L1112.3 302.3 L1113.8 302.1 L1115.2 301.9 L1116.7 301.7 L1118.2 301.5 L1119.7 301.4 L1121.2 301.2 L1122.7 301.0 L1124.2 300.8 L1125.7 300.7 L1127.2 300.5 L1128.6 300.3 L1130.1 300.2 L1131.6 300.0 L1133.1 299.9 L1134.6 299.7 L1136.1 299.6 L1137.6 299.4 L1139.1 299.3 L1140.6 299.1 L1142.1 299.0 L1143.6 298.8 L1145.1 298.7 L1146.5 298.6 L1148.0 298.4 L1149.5 298.3 L1151.0 298.2 L1152.5 298.0 L1154.0 297.9 L1155.5 297.8 L1157.0 297.7 L1158.5 297.6 L1160.0 297.5 L1161.5 297.3 L1163.0 297.2 L1164.5 297.1 L1166.0 297.0 L1167.5 296.9 L1169.0 296.8 L1170.5 296.8 L1172.0 296.7 L1173.4 296.6 L1174.9 296.5 L1176.4 296.4 L1177.9 296.3 L1179.4 296.2 L1180.9 296.2 L1182.4 296.1 L1183.9 296.0 L1185.4 295.9 L1186.9 295.8 L1188.4 295.8 L1189.9 295.7 L1191.4 295.6 L1192.9 295.5 L1194.4 295.5 L1195.9 295.4 L1197.4 295.3 L1198.9 295.3 L1200.4 295.2 L1201.9 295.1 L1203.4 295.1 L1204.9 295.0 L1206.4 294.9 L1207.9 294.9 L1209.4 294.8 L1210.9 294.8 L1212.4 294.7 L1213.9 294.6 L1215.4 294.6 L1216.9 294.5 L1218.4 294.5 L1219.9 294.4 L1221.4 294.4 L1222.9 294.3 L1224.3 294.3 L1225.8 294.2 L1227.3 294.2 L1228.8 294.1 L1230.3 294.1 L1231.8 294.1 L1233.3 294.0 L1234.8 294.0 L1236.3 294.0 L1237.8 294.0 L1239.3 294.0 L1240.8 294.0 L1242.3 294.0 L1244.3 294.0 L1246.3 294.0 L1248.3 294.0 L1250.3 294.0 L1252.3 294.0 L1254.3 294.0 L1256.3 294.0 L1258.3 294.0 L1260.3 294.0 L1262.3 294.0 L1264.3 294.0 L1266.3 294.0 L1268.3 294.0 L1270.3 294.0 L1272.3 294.0 L1274.3 294.0 L1276.3 294.0 L1278.3 294.0 L1280.3 294.0 L1282.3 294.0 L1284.3 294.0 L1286.3 294.0 L1288.3 294.0 L1290.3 294.0 L1292.3 294.0 L1294.3 294.0 L1296.3 294.0 L1298.3 294.0 L1300.3 294.0 L1302.3 294.0 L1304.3 294.0 L1306.3 294.0 L1308.3 294.0 L1310.3 294.0 L1312.3 294.0 L1314.3 294.0 L1316.3 294.0 L1318.3 294.0 L1320.3 294.0 L1322.3 294.0 L1324.3 294.0 L1326.3 294.0 L1328.3 294.0 L1330.3 294.0 L1332.3 294.0 L1334.3 294.0 L1336.3 294.0 L1338.3 294.0 L1338.8 294.0"/>
<path class="cv" stroke="#1ee61e" d="M825.0 327.0 L826.5 327.1 L828.0 327.3 L829.5 327.4 L831.0 327.5 L832.5 327.6 L834.0 327.7 L835.5 327.9 L837.0 328.0 L838.5 328.1 L839.9 328.2 L841.4 328.3 L842.9 328.5 L844.4 328.6 L845.9 328.7 L847.4 328.8 L848.9 329.0 L850.4 329.1 L851.9 329.2 L853.4 329.3 L854.9 329.5 L856.4 329.6 L857.9 329.7 L859.4 329.8 L860.9 330.0 L862.4 330.1 L863.9 330.2 L865.4 330.3 L866.8 330.5 L868.3 330.6 L869.8 330.7 L871.3 330.9 L872.8 331.0 L874.3 331.1 L875.8 331.3 L877.3 331.4 L878.8 331.5 L880.3 331.7 L881.8 331.8 L883.3 331.9 L884.8 332.1 L886.3 332.2 L887.8 332.4 L889.2 332.5 L890.7 332.6 L892.2 332.8 L893.7 332.9 L895.2 333.0 L896.7 333.2 L898.2 333.3 L899.7 333.4 L901.2 333.6 L902.7 333.7 L904.2 333.8 L905.7 334.0 L907.2 334.1 L908.7 334.2 L910.2 334.3 L911.7 334.5 L913.1 334.6 L914.6 334.7 L916.1 334.8 L917.6 335.0 L919.1 335.1 L920.6 335.2 L922.1 335.3 L923.6 335.4 L925.1 335.5 L926.6 335.6 L928.1 335.7 L929.6 335.8 L931.1 335.9 L932.6 336.0 L934.1 336.1 L935.6 336.2 L937.1 336.3 L938.6 336.4 L940.1 336.5 L941.6 336.6 L943.1 336.7 L944.6 336.7 L946.1 336.8 L947.6 336.9 L949.1 337.0 L950.6 337.0 L952.1 337.1 L953.6 337.2 L955.0 337.2 L956.5 337.3 L958.0 337.3 L959.5 337.4 L961.0 337.4 L962.5 337.5 L964.0 337.5 L965.5 337.6 L967.0 337.6 L968.5 337.7 L970.0 337.7 L971.5 337.8 L973.0 337.8 L974.5 337.8 L976.0 337.9 L977.5 337.9 L979.0 337.9 L980.5 338.0 L982.0 338.0 L983.5 338.0 L985.0 338.0 L986.5 338.0 L988.0 338.1 L989.5 338.1 L991.0 338.1 L992.5 338.1 L994.0 338.1 L995.5 338.1 L997.0 338.2 L998.5 338.2 L1000.0 338.2 L1001.5 338.2 L1003.0 338.2 L1004.5 338.2 L1006.0 338.2 L1007.5 338.2 L1009.0 338.1 L1010.5 338.1 L1012.0 338.1 L1013.5 338.1 L1015.0 338.0 L1016.5 338.0 L1018.0 337.9 L1019.5 337.9 L1021.0 337.9 L1022.5 337.8 L1024.0 337.8 L1025.5 337.7 L1027.0 337.7 L1028.5 337.6 L1030.0 337.6 L1031.5 337.5 L1033.0 337.5 L1034.5 337.4 L1036.0 337.4 L1037.5 337.3 L1039.0 337.3 L1040.5 337.2 L1042.0 337.1 L1043.5 337.1 L1045.0 337.0 L1046.5 337.0 L1048.0 336.9 L1049.5 336.8 L1051.0 336.8 L1052.5 336.7 L1054.0 336.6 L1055.5 336.5 L1057.0 336.4 L1058.5 336.4 L1060.0 336.3 L1061.5 336.2 L1063.0 336.1 L1064.5 336.0 L1065.9 335.9 L1067.4 335.8 L1068.9 335.6 L1070.4 335.5 L1071.9 335.4 L1073.4 335.3 L1074.9 335.2 L1076.4 335.0 L1077.9 334.9 L1079.4 334.8 L1080.9 334.6 L1082.4 334.5 L1083.9 334.4 L1085.4 334.2 L1086.9 334.1 L1088.4 333.9 L1089.8 333.7 L1091.3 333.6 L1092.8 333.4 L1094.3 333.3 L1095.8 333.1 L1097.3 332.9 L1098.8 332.7 L1100.3 332.6 L1101.8 332.4 L1103.3 332.2 L1104.7 332.0 L1106.2 331.9 L1107.7 331.7 L1109.2 331.5 L1110.7 331.3 L1112.2 331.1 L1113.7 330.9 L1115.2 330.8 L1116.7 330.6 L1118.1 330.4 L1119.6 330.2 L1121.1 330.0 L1122.6 329.8 L1124.1 329.6 L1125.6 329.4 L1127.1 329.2 L1128.6 329.1 L1130.0 328.9 L1131.5 328.7 L1133.0 328.5 L1134.5 328.3 L1136.0 328.1 L1137.5 327.9 L1139.0 327.7 L1140.4 327.5 L1141.9 327.3 L1143.4 327.2 L1144.9 327.0 L1146.4 326.8 L1147.9 326.6 L1149.4 326.4 L1150.9 326.2 L1152.3 326.0 L1153.8 325.8 L1155.3 325.6 L1156.8 325.4 L1158.3 325.2 L1159.8 325.1 L1161.3 324.9 L1162.8 324.7 L1164.2 324.5 L1165.7 324.3 L1167.2 324.1 L1168.7 323.9 L1170.2 323.7 L1171.7 323.6 L1173.2 323.4 L1174.7 323.2 L1176.2 323.0 L1177.6 322.8 L1179.1 322.6 L1180.6 322.4 L1182.1 322.3 L1183.6 322.1 L1185.1 321.9 L1186.6 321.7 L1188.1 321.5 L1189.5 321.4 L1191.0 321.2 L1192.5 321.0 L1194.0 320.8 L1195.5 320.6 L1197.0 320.5 L1198.5 320.3 L1200.0 320.1 L1201.5 319.9 L1202.9 319.7 L1204.4 319.6 L1205.9 319.4 L1207.4 319.2 L1208.9 319.0 L1210.4 318.9 L1211.9 318.7 L1213.4 318.5 L1214.9 318.3 L1216.4 318.2 L1217.8 318.0 L1219.3 317.8 L1220.8 317.7 L1222.3 317.5 L1223.8 317.3 L1225.3 317.1 L1226.8 317.0 L1228.3 316.8 L1229.8 316.7 L1231.3 316.5 L1232.7 316.3 L1234.2 316.2 L1235.7 316.0 L1237.2 315.8 L1238.7 315.7 L1240.2 315.5 L1241.7 315.4 L1243.2 315.2 L1244.7 315.1 L1246.2 314.9 L1247.7 314.8 L1249.1 314.6 L1250.6 314.4 L1252.1 314.3 L1253.6 314.1 L1255.1 314.0 L1256.6 313.8 L1258.1 313.7 L1259.6 313.5 L1261.1 313.4 L1262.6 313.3 L1264.1 313.1 L1265.6 313.0 L1267.1 312.8 L1268.5 312.7 L1270.0 312.5 L1271.5 312.4 L1273.0 312.2 L1274.5 312.1 L1276.0 312.0 L1277.5 311.8 L1279.0 311.7 L1280.5 311.5 L1282.0 311.4 L1283.5 311.3 L1285.0 311.1 L1286.5 311.0 L1288.0 310.8 L1289.4 310.7 L1290.9 310.6 L1292.4 310.4 L1293.9 310.3 L1295.4 310.2 L1296.9 310.0 L1298.4 309.9 L1299.9 309.8 L1301.4 309.6 L1302.9 309.5 L1304.4 309.4 L1305.9 309.2 L1307.4 309.1 L1308.9 309.0 L1310.4 308.8 L1311.9 308.7 L1313.3 308.6 L1314.8 308.5 L1316.3 308.3 L1317.8 308.2 L1319.3 308.1 L1320.8 308.0 L1322.3 307.8 L1323.8 307.7 L1325.3 307.6 L1326.8 307.5 L1328.3 307.3 L1329.8 307.2 L1331.3 307.1 L1332.8 307.0 L1334.3 306.8 L1335.8 306.7 L1337.3 306.6 L1338.8 306.5"/>
<path class="cv" stroke="#8c2428" stroke-width="2.6" d="M825.0 294.0 L1338.8 294.0"/>
<path class="cv" stroke="#f8f824" d="M825.0 294.0 L826.5 294.0 L828.0 293.9 L829.5 293.9 L831.0 293.8 L832.5 293.7 L834.0 293.6 L835.5 293.6 L837.0 293.4 L838.5 293.3 L840.0 293.2 L841.4 293.0 L842.9 292.8 L844.4 292.6 L845.9 292.4 L847.4 292.2 L848.9 291.9 L850.3 291.7 L851.8 291.4 L853.3 291.2 L854.8 290.9 L856.2 290.6 L857.7 290.3 L859.2 290.1 L860.7 289.8 L862.1 289.5 L863.6 289.2 L865.1 288.8 L866.5 288.5 L868.0 288.2 L869.5 287.9 L870.9 287.6 L872.4 287.3 L873.9 287.0 L875.3 286.7 L876.8 286.4 L878.3 286.1 L879.7 285.8 L881.2 285.5 L882.7 285.2 L884.1 284.9 L885.6 284.6 L887.1 284.3 L888.5 284.0 L890.0 283.7 L891.5 283.4 L892.9 283.1 L894.4 282.8 L895.9 282.5 L897.4 282.2 L898.8 281.9 L900.3 281.6 L901.8 281.3 L903.2 281.0 L904.7 280.8 L906.2 280.5 L907.7 280.2 L909.1 279.9 L910.6 279.7 L912.1 279.4 L913.6 279.1 L915.0 278.9 L916.5 278.6 L918.0 278.4 L919.5 278.1 L920.9 277.8 L922.4 277.6 L923.9 277.4 L925.4 277.1 L926.9 276.9 L928.3 276.6 L929.8 276.4 L931.3 276.2 L932.8 275.9 L934.3 275.7 L935.8 275.5 L937.2 275.3 L938.7 275.1 L940.2 274.9 L941.7 274.6 L943.2 274.4 L944.7 274.2 L946.1 274.0 L947.6 273.8 L949.1 273.6 L950.6 273.4 L952.1 273.3 L953.6 273.1 L955.1 272.9 L956.6 272.7 L958.0 272.5 L959.5 272.3 L961.0 272.2 L962.5 272.0 L964.0 271.8 L965.5 271.6 L967.0 271.5 L968.5 271.3 L970.0 271.1 L971.4 271.0 L972.9 270.8 L974.4 270.7 L975.9 270.5 L977.4 270.4 L978.9 270.3 L980.4 270.1 L981.9 270.0 L983.4 269.9 L984.9 269.7 L986.4 269.6 L987.9 269.5 L989.4 269.4 L990.9 269.3 L992.4 269.1 L993.8 269.0 L995.3 268.9 L996.8 268.8 L998.3 268.7 L999.8 268.6 L1001.3 268.5 L1002.8 268.4 L1004.3 268.3 L1005.8 268.2 L1007.3 268.1 L1008.8 268.0 L1010.3 267.9 L1011.8 267.8 L1013.3 267.7 L1014.8 267.6 L1016.3 267.5 L1017.8 267.4 L1019.3 267.3 L1020.8 267.2 L1022.3 267.1 L1023.8 267.0 L1025.3 266.9 L1026.8 266.8 L1028.3 266.7 L1029.7 266.6 L1031.2 266.5 L1032.7 266.4 L1034.2 266.3 L1035.7 266.2 L1037.2 266.1 L1038.7 266.0 L1040.2 265.9 L1041.7 265.8 L1043.2 265.7 L1044.7 265.6 L1046.2 265.5 L1047.7 265.4 L1049.2 265.3 L1050.7 265.2 L1052.2 265.1 L1053.7 265.0 L1055.2 264.9 L1056.7 264.8 L1058.2 264.7 L1059.7 264.6 L1061.2 264.5 L1062.6 264.3 L1064.1 264.2 L1065.6 264.1 L1067.1 264.0 L1068.6 263.9 L1070.1 263.8 L1071.6 263.7 L1073.1 263.6 L1074.6 263.5 L1076.1 263.4 L1077.6 263.3 L1079.1 263.2 L1080.6 263.1 L1082.1 263.0 L1083.6 262.9 L1085.1 262.8 L1086.6 262.7 L1088.1 262.6 L1089.6 262.5 L1091.1 262.4 L1092.6 262.3 L1094.1 262.2 L1095.6 262.1 L1097.1 262.0 L1098.5 261.9 L1100.0 261.8 L1101.5 261.7 L1103.0 261.6 L1104.5 261.5 L1106.0 261.4 L1107.5 261.3 L1109.0 261.3 L1110.5 261.2 L1112.0 261.1 L1113.5 261.0 L1115.0 260.9 L1116.5 260.8 L1118.0 260.7 L1119.5 260.6 L1121.0 260.5 L1122.5 260.4 L1124.0 260.3 L1125.5 260.2 L1127.0 260.2 L1128.5 260.1 L1130.0 260.0 L1131.5 259.9 L1133.0 259.8 L1134.5 259.8 L1136.0 259.7 L1137.5 259.6 L1139.0 259.5 L1140.5 259.5 L1141.9 259.4 L1143.4 259.3 L1144.9 259.2 L1146.4 259.2 L1147.9 259.1 L1149.4 259.0 L1150.9 259.0 L1152.4 258.9 L1153.9 258.8 L1155.4 258.8 L1156.9 258.7 L1158.4 258.6 L1159.9 258.6 L1161.4 258.5 L1162.9 258.5 L1164.4 258.4 L1165.9 258.3 L1167.4 258.3 L1168.9 258.2 L1170.4 258.1 L1171.9 258.1 L1173.4 258.0 L1174.9 258.0 L1176.4 257.9 L1177.9 257.9 L1179.4 257.8 L1180.9 257.7 L1182.4 257.7 L1183.9 257.6 L1185.4 257.6 L1186.9 257.5 L1188.4 257.5 L1189.9 257.4 L1191.4 257.4 L1192.9 257.3 L1194.4 257.2 L1195.9 257.2 L1197.4 257.1 L1198.9 257.1 L1200.4 257.0 L1201.9 257.0 L1203.4 256.9 L1204.9 256.9 L1206.4 256.8 L1207.9 256.8 L1209.4 256.7 L1210.9 256.7 L1212.4 256.6 L1213.9 256.6 L1215.4 256.5 L1216.9 256.5 L1218.3 256.4 L1219.8 256.4 L1221.3 256.3 L1222.8 256.3 L1224.3 256.3 L1225.8 256.2 L1227.3 256.2 L1228.8 256.1 L1230.3 256.1 L1231.8 256.0 L1233.3 256.0 L1234.8 255.9 L1236.3 255.9 L1237.8 255.9 L1239.3 255.8 L1240.8 255.8 L1242.3 255.7 L1243.8 255.7 L1245.3 255.6 L1246.8 255.6 L1248.3 255.6 L1249.8 255.5 L1251.3 255.5 L1252.8 255.4 L1254.3 255.4 L1255.8 255.4 L1257.3 255.3 L1258.8 255.3 L1260.3 255.2 L1261.8 255.2 L1263.3 255.2 L1264.8 255.1 L1266.3 255.1 L1267.8 255.1 L1269.3 255.0 L1270.8 255.0 L1272.3 254.9 L1273.8 254.9 L1275.3 254.9 L1276.8 254.8 L1278.3 254.8 L1279.8 254.8 L1281.3 254.7 L1282.8 254.7 L1284.3 254.7 L1285.8 254.6 L1287.3 254.6 L1288.8 254.6 L1290.3 254.6 L1291.8 254.5 L1293.3 254.5 L1294.8 254.5 L1296.3 254.4 L1297.8 254.4 L1299.3 254.4 L1300.8 254.3 L1302.3 254.3 L1303.8 254.3 L1305.3 254.3 L1306.8 254.2 L1308.3 254.2 L1309.8 254.2 L1311.3 254.1 L1312.8 254.1 L1314.3 254.1 L1315.8 254.1 L1317.3 254.0 L1318.8 254.0 L1320.3 254.0 L1321.8 254.0 L1323.3 253.9 L1324.8 253.9 L1326.3 253.9 L1327.8 253.9 L1329.3 253.8 L1330.8 253.8 L1332.3 253.8 L1333.8 253.8 L1335.3 253.8 L1336.8 253.7 L1338.3 253.7 L1338.8 253.7"/>
<path class="ax" stroke="#303030" stroke-width="1.4" stroke-opacity="0.62" d="M818.00 294.00 H1339.35"/>
<path class="ax" stroke="#9a9a9a" stroke-width="1.7" d="M825.00 33.40 V554.60"/>
<path class="ax tick" d="M825.00 554.00 h-7.0 M825.00 489.00 h-4.0 M825.00 424.00 h-7.0 M825.00 359.00 h-4.0 M825.00 229.00 h-4.0 M825.00 164.00 h-7.0 M825.00 99.00 h-4.0 M825.00 34.00 h-7.0 M876.38 294.00 v4.0 M927.75 294.00 v7.5 M979.12 294.00 v4.0 M1030.50 294.00 v7.5 M1081.88 294.00 v4.0 M1133.25 294.00 v7.5 M1184.62 294.00 v4.0 M1236.00 294.00 v7.5 M1287.38 294.00 v4.0 M1338.75 294.00 v7.5"/>
<text class="tk" text-anchor="end" x="813.1" y="564.1">2</text>
<text class="mn" x="782.7" y="562.5">−</text>
<text class="tk" text-anchor="end" x="813.1" y="434.3">1</text>
<text class="mn" x="782.7" y="432.7">−</text>
<text class="tk" text-anchor="end" x="813.1" y="304.5">0</text>
<text class="tk" text-anchor="end" x="813.1" y="174.7">1</text>
<text class="tk" text-anchor="end" x="813.1" y="44.9">2</text>
<text class="tk" text-anchor="middle" x="927.2" y="332.0">1</text>
<text class="tk" text-anchor="middle" x="1030.0" y="332.0">2</text>
<text class="tk" text-anchor="middle" x="1132.8" y="332.0">3</text>
<text class="tk" text-anchor="middle" x="1235.5" y="332.0">4</text>
<text class="tk" text-anchor="middle" x="1338.2" y="332.0">5</text>
<text class="lt" x="734" y="96">B)</text>
<text class="fl it" transform="translate(705.90 175.80) skewX(-10.4)">f</text>
<text class="fl pr" transform="translate(724.50 175.80) scale(0.765 1)">(</text>
<text class="fl gk" transform="translate(737.00 175.20) scale(1.055 1)">η</text>
<text class="fl pr" transform="translate(758.60 175.80) scale(0.78 1)">)</text>
<text class="et" transform="translate(1073.30 370.30) scale(1.07 1)">η</text>
</g>
<g class="panel" id="panel-C">
<path class="cv" stroke="#000000" d="M1503.2 181.4 L1504.7 181.3 L1506.2 181.2 L1507.7 181.1 L1509.2 181.0 L1510.7 180.9 L1512.2 180.8 L1513.7 180.7 L1515.2 180.6 L1516.7 180.5 L1518.2 180.4 L1519.7 180.2 L1521.2 180.1 L1522.7 180.0 L1524.2 179.8 L1525.7 179.7 L1527.2 179.6 L1528.7 179.5 L1530.2 179.4 L1531.6 179.3 L1533.1 179.2 L1534.6 179.1 L1536.1 179.0 L1537.6 178.9 L1539.1 178.9 L1540.6 178.9 L1542.6 178.9 L1544.1 178.9 L1545.6 179.0 L1547.1 179.1 L1548.6 179.2 L1550.1 179.4 L1551.6 179.6 L1553.0 179.8 L1554.5 180.0 L1556.0 180.2 L1557.5 180.5 L1558.9 180.8 L1560.4 181.1 L1561.9 181.5 L1563.3 181.8 L1564.7 182.2 L1566.2 182.7 L1567.6 183.1 L1569.0 183.6 L1570.4 184.2 L1571.8 184.7 L1573.1 185.3 L1574.5 186.0 L1575.8 186.6 L1577.2 187.3 L1578.5 188.0 L1579.8 188.7 L1581.1 189.5 L1582.4 190.3 L1583.7 191.0 L1584.9 191.8 L1586.2 192.7 L1587.4 193.5 L1588.6 194.4 L1589.9 195.2 L1591.1 196.1 L1592.3 197.0 L1593.5 197.9 L1594.6 198.9 L1595.8 199.8 L1597.0 200.7 L1598.1 201.7 L1599.3 202.7 L1600.4 203.6 L1601.5 204.6 L1602.7 205.6 L1603.8 206.6 L1604.9 207.6 L1606.0 208.6 L1607.1 209.7 L1608.1 210.7 L1609.2 211.8 L1610.3 212.8 L1611.3 213.9 L1612.3 215.0 L1613.4 216.1 L1614.4 217.2 L1615.4 218.3 L1616.4 219.4 L1617.4 220.5 L1618.4 221.7 L1619.3 222.8 L1620.3 223.9 L1621.3 225.1 L1622.3 226.2 L1623.3 227.3 L1624.3 228.5 L1625.2 229.6 L1626.2 230.7 L1627.2 231.8 L1628.2 233.0 L1629.2 234.1 L1630.2 235.2 L1631.2 236.3 L1632.2 237.4 L1633.2 238.5 L1634.2 239.7 L1635.2 240.8 L1636.2 241.9 L1637.2 243.0 L1638.2 244.1 L1639.2 245.3 L1640.2 246.4 L1641.2 247.5 L1642.2 248.6 L1643.2 249.7 L1644.2 250.8 L1645.2 252.0 L1646.2 253.1 L1647.2 254.2 L1648.3 255.2 L1649.3 256.3 L1650.3 257.4 L1651.4 258.5 L1652.5 259.5 L1653.5 260.6 L1654.6 261.6 L1655.7 262.6 L1656.8 263.6 L1657.9 264.6 L1659.1 265.6 L1660.2 266.6 L1661.3 267.6 L1662.5 268.5 L1663.6 269.5 L1664.8 270.5 L1665.9 271.4 L1667.1 272.3 L1668.3 273.3 L1669.5 274.2 L1670.7 275.1 L1671.9 275.9 L1673.1 276.8 L1674.3 277.7 L1675.6 278.5 L1676.9 279.3 L1678.1 280.1 L1679.4 280.8 L1680.7 281.6 L1682.0 282.3 L1683.4 283.0 L1684.7 283.7 L1686.0 284.3 L1687.4 284.9 L1688.8 285.6 L1690.1 286.2 L1691.5 286.8 L1692.9 287.4 L1694.3 287.9 L1695.7 288.4 L1697.1 289.0 L1698.5 289.5 L1699.9 289.9 L1701.3 290.4 L1702.8 290.8 L1704.2 291.2 L1705.7 291.6 L1707.1 291.9 L1708.6 292.2 L1710.1 292.5 L1711.5 292.8 L1713.0 293.0 L1714.5 293.3 L1716.0 293.5 L1717.5 293.7 L1718.9 293.8 L1720.4 294.0 L1721.9 294.2 L1723.4 294.3"/>
<path class="cv" stroke="#e01216" d="M1503.2 181.2 L1504.7 181.0 L1506.2 180.8 L1507.7 180.6 L1509.2 180.4 L1510.7 180.2 L1512.2 180.0 L1513.6 179.8 L1515.1 179.6 L1516.6 179.3 L1518.1 179.1 L1519.6 178.9 L1521.0 178.6 L1522.5 178.4 L1524.0 178.2 L1525.5 178.0 L1527.0 177.7 L1528.5 177.5 L1529.9 177.3 L1531.4 177.1 L1532.9 176.9 L1534.4 176.8 L1535.9 176.6 L1537.4 176.5 L1538.9 176.3 L1540.4 176.2 L1541.9 176.1 L1543.3 176.1 L1544.8 176.1 L1546.3 176.1 L1547.8 176.1 L1549.3 176.2 L1550.8 176.4 L1552.3 176.5 L1553.8 176.7 L1555.3 176.9 L1556.7 177.2 L1558.2 177.4 L1559.7 177.8 L1561.1 178.1 L1562.6 178.5 L1564.0 178.9 L1565.4 179.3 L1566.9 179.7 L1568.3 180.2 L1569.7 180.7 L1571.1 181.3 L1572.4 181.9 L1573.8 182.5 L1575.2 183.1 L1576.5 183.7 L1577.9 184.4 L1579.2 185.1 L1580.5 185.8 L1581.8 186.5 L1583.1 187.3 L1584.4 188.0 L1585.7 188.8 L1587.0 189.6 L1588.3 190.3 L1589.5 191.2 L1590.8 192.0 L1592.0 192.8 L1593.3 193.6 L1594.5 194.5 L1595.7 195.4 L1596.9 196.2 L1598.1 197.1 L1599.3 198.0 L1600.5 198.9 L1601.7 199.8 L1602.9 200.8 L1604.0 201.7 L1605.2 202.7 L1606.3 203.6 L1607.5 204.6 L1608.6 205.6 L1609.7 206.6 L1610.8 207.6 L1611.9 208.6 L1613.0 209.7 L1614.0 210.7 L1615.1 211.8 L1616.2 212.9 L1617.2 213.9 L1618.3 215.0 L1619.3 216.1 L1620.3 217.2 L1621.4 218.2 L1622.4 219.3 L1623.5 220.4 L1624.5 221.5 L1625.5 222.5 L1626.6 223.6 L1627.7 224.7 L1628.7 225.7 L1629.8 226.8 L1630.9 227.8 L1631.9 228.9 L1633.0 229.9 L1634.1 230.9 L1635.2 232.0 L1636.3 233.0 L1637.4 234.0 L1638.5 235.1 L1639.5 236.1 L1640.6 237.1 L1641.7 238.1 L1642.8 239.1 L1643.9 240.2 L1645.0 241.2 L1646.2 242.2 L1647.3 243.2 L1648.4 244.2 L1649.5 245.2 L1650.6 246.2 L1651.7 247.2 L1652.9 248.1 L1654.0 249.1 L1655.1 250.1 L1656.3 251.1 L1657.4 252.0 L1658.6 253.0 L1659.7 254.0 L1660.9 254.9 L1662.0 255.9 L1663.2 256.8 L1664.3 257.8 L1665.5 258.7 L1666.7 259.7 L1667.8 260.6 L1669.0 261.6 L1670.2 262.5 L1671.4 263.4 L1672.6 264.3 L1673.7 265.2 L1675.0 266.1 L1676.2 267.0 L1677.4 267.8 L1678.6 268.7 L1679.9 269.5 L1681.1 270.3 L1682.4 271.1 L1683.7 271.9 L1684.9 272.7 L1686.2 273.5 L1687.5 274.2 L1688.8 275.0 L1690.1 275.7 L1691.4 276.4 L1692.7 277.1 L1694.1 277.8 L1695.4 278.5 L1696.7 279.2 L1698.1 279.9 L1699.4 280.5 L1700.8 281.1 L1702.2 281.7 L1703.5 282.3 L1704.9 282.9 L1706.3 283.4 L1707.7 284.0 L1709.1 284.5 L1710.5 285.0 L1712.0 285.5 L1713.4 285.9 L1714.8 286.4 L1716.2 286.9 L1717.7 287.3 L1719.1 287.7 L1720.5 288.1 L1722.0 288.5 L1723.4 288.9 L1724.9 289.2 L1726.3 289.6 L1727.8 289.9 L1729.3 290.2 L1730.7 290.5 L1732.2 290.7 L1733.7 291.0 L1735.2 291.2 L1736.7 291.4 L1738.1 291.6 L1739.6 291.8 L1741.1 292.0 L1742.6 292.2 L1744.1 292.4 L1745.6 292.5 L1747.1 292.7 L1748.6 292.8 L1750.0 292.9 L1751.5 293.1 L1753.0 293.2 L1754.5 293.3 L1756.0 293.4 L1757.5 293.4 L1759.0 293.5 L1760.5 293.6 L1762.0 293.7 L1763.5 293.7 L1765.0 293.8 L1766.5 293.8 L1768.0 293.9 L1769.5 293.9 L1771.0 294.0 L1772.5 294.0 L1774.0 294.1 L1775.5 294.1 L1777.0 294.1 L1778.5 294.2 L1780.0 294.2 L1781.5 294.2 L1783.0 294.2 L1784.5 294.3 L1786.0 294.3 L1787.5 294.3 L1789.0 294.3 L1790.0 294.3"/>
<path class="cv" stroke="#0808e0" d="M1503.2 178.4 L1504.5 177.7 L1505.8 176.9 L1507.1 176.1 L1508.4 175.4 L1509.7 174.7 L1511.0 174.0 L1512.4 173.4 L1513.8 172.8 L1515.1 172.2 L1516.5 171.7 L1517.9 171.2 L1519.4 170.7 L1520.8 170.3 L1522.3 169.9 L1523.7 169.6 L1525.2 169.2 L1526.6 168.9 L1528.1 168.6 L1529.6 168.4 L1531.1 168.1 L1532.5 167.9 L1534.0 167.7 L1535.5 167.5 L1537.0 167.4 L1538.5 167.2 L1540.0 167.1 L1541.5 167.1 L1543.0 167.0 L1545.0 167.0 L1546.5 167.1 L1547.9 167.2 L1549.4 167.3 L1550.9 167.5 L1552.4 167.7 L1553.9 167.9 L1555.3 168.2 L1556.8 168.5 L1558.2 168.9 L1559.7 169.3 L1561.1 169.7 L1562.5 170.2 L1564.0 170.7 L1565.4 171.2 L1566.8 171.7 L1568.2 172.2 L1569.6 172.8 L1570.9 173.4 L1572.3 174.0 L1573.7 174.6 L1575.0 175.3 L1576.4 175.9 L1577.7 176.6 L1579.0 177.3 L1580.4 178.0 L1581.7 178.7 L1583.0 179.4 L1584.3 180.1 L1585.7 180.8 L1587.0 181.5 L1588.3 182.3 L1589.6 183.0 L1590.9 183.8 L1592.2 184.5 L1593.5 185.3 L1594.7 186.1 L1596.0 186.8 L1597.3 187.6 L1598.6 188.4 L1599.8 189.2 L1601.1 190.1 L1602.3 190.9 L1603.6 191.7 L1604.8 192.6 L1606.0 193.4 L1607.2 194.3 L1608.5 195.2 L1609.6 196.1 L1610.8 197.0 L1612.0 198.0 L1613.2 198.9 L1614.4 199.8 L1615.5 200.8 L1616.7 201.7 L1617.8 202.7 L1619.0 203.7 L1620.1 204.6 L1621.3 205.6 L1622.4 206.6 L1623.5 207.5 L1624.7 208.5 L1625.8 209.5 L1627.0 210.4 L1628.2 211.4 L1629.3 212.3 L1630.5 213.3 L1631.7 214.2 L1632.8 215.1 L1634.0 216.1 L1635.2 217.0 L1636.4 217.9 L1637.5 218.9 L1638.7 219.8 L1639.9 220.7 L1641.1 221.6 L1642.3 222.5 L1643.5 223.4 L1644.7 224.4 L1645.8 225.3 L1647.0 226.2 L1648.2 227.1 L1649.4 228.0 L1650.6 228.9 L1651.8 229.8 L1653.0 230.7 L1654.2 231.6 L1655.4 232.5 L1656.6 233.4 L1657.8 234.3 L1659.0 235.2 L1660.2 236.1 L1661.4 237.0 L1662.6 237.9 L1663.8 238.8 L1665.0 239.7 L1666.2 240.6 L1667.4 241.5 L1668.6 242.4 L1669.8 243.3 L1671.0 244.2 L1672.3 245.0 L1673.5 245.9 L1674.7 246.8 L1675.9 247.6 L1677.2 248.5 L1678.4 249.3 L1679.6 250.2 L1680.9 251.0 L1682.1 251.8 L1683.4 252.7 L1684.7 253.5 L1685.9 254.3 L1687.2 255.1 L1688.5 255.9 L1689.7 256.6 L1691.0 257.4 L1692.3 258.2 L1693.6 259.0 L1694.9 259.7 L1696.2 260.5 L1697.5 261.2 L1698.8 262.0 L1700.1 262.7 L1701.4 263.4 L1702.8 264.1 L1704.1 264.8 L1705.4 265.5 L1706.8 266.1 L1708.1 266.8 L1709.4 267.5 L1710.8 268.1 L1712.2 268.7 L1713.5 269.4 L1714.9 270.0 L1716.3 270.6 L1717.6 271.2 L1719.0 271.8 L1720.4 272.4 L1721.8 272.9 L1723.2 273.5 L1724.6 274.1 L1726.0 274.6 L1727.4 275.1 L1728.8 275.7 L1730.2 276.2 L1731.6 276.7 L1733.0 277.2 L1734.4 277.7 L1735.8 278.2 L1737.3 278.6 L1738.7 279.1 L1740.1 279.6 L1741.5 280.0 L1743.0 280.5 L1744.4 280.9 L1745.8 281.3 L1747.3 281.8 L1748.7 282.2 L1750.2 282.6 L1751.6 283.0 L1753.1 283.4 L1754.5 283.7 L1756.0 284.1 L1757.4 284.5 L1758.9 284.8 L1760.3 285.2 L1761.8 285.5 L1763.2 285.9 L1764.7 286.2 L1766.2 286.5 L1767.6 286.9 L1769.1 287.2 L1770.6 287.5 L1772.0 287.7 L1773.5 288.0 L1775.0 288.3 L1776.5 288.5 L1778.0 288.8 L1779.4 289.0 L1780.9 289.2 L1782.4 289.5 L1783.9 289.7 L1785.4 289.9 L1786.9 290.0 L1788.3 290.2 L1789.8 290.4 L1791.3 290.6 L1792.8 290.7 L1794.3 290.9 L1795.8 291.1 L1797.3 291.2 L1798.8 291.4 L1800.3 291.5 L1801.8 291.6 L1803.3 291.8 L1804.8 291.9 L1806.3 292.0 L1807.7 292.1 L1809.2 292.2 L1810.7 292.4 L1812.2 292.5 L1813.7 292.6 L1815.2 292.6 L1816.7 292.7 L1818.2 292.8 L1819.7 292.9 L1821.2 293.0 L1822.7 293.1 L1824.2 293.1 L1825.7 293.2 L1827.2 293.3 L1828.7 293.4 L1830.2 293.4 L1831.7 293.5 L1833.2 293.5 L1834.7 293.6 L1836.2 293.7 L1837.7 293.7 L1839.2 293.8 L1840.7 293.8 L1842.2 293.9 L1843.7 293.9 L1845.2 294.0 L1846.7 294.0 L1848.2 294.0 L1849.7 294.1 L1851.2 294.1 L1852.7 294.2 L1854.2 294.2 L1855.7 294.2 L1857.2 294.2 L1858.7 294.3 L1860.2 294.3 L1861.7 294.3 L1863.2 294.3 L1864.7 294.3 L1866.2 294.3 L1867.7 294.3 L1869.2 294.3 L1870.7 294.3 L1872.7 294.3 L1874.7 294.3 L1876.7 294.3 L1878.7 294.3 L1880.7 294.3 L1882.7 294.3 L1884.2 294.3"/>
<path class="cv" stroke="#1ee61e" d="M1503.2 171.6 L1503.7 170.2 L1504.2 168.7 L1504.6 167.3 L1505.1 165.9 L1505.7 164.5 L1506.2 163.1 L1506.8 161.8 L1507.5 160.4 L1508.1 159.1 L1508.9 157.8 L1509.7 156.5 L1510.5 155.3 L1511.4 154.2 L1512.4 153.1 L1513.5 152.1 L1514.6 151.2 L1515.8 150.4 L1517.0 149.6 L1518.3 149.0 L1519.7 148.4 L1521.0 147.8 L1522.4 147.4 L1523.9 146.9 L1525.3 146.6 L1526.8 146.3 L1528.2 146.0 L1529.7 145.8 L1531.2 145.6 L1532.7 145.5 L1534.2 145.4 L1536.1 145.4 L1537.6 145.5 L1539.1 145.6 L1540.6 145.7 L1542.1 145.9 L1543.6 146.2 L1545.0 146.4 L1546.5 146.7 L1548.0 147.1 L1549.4 147.4 L1550.9 147.8 L1552.3 148.2 L1553.7 148.6 L1555.2 149.0 L1556.6 149.5 L1558.0 150.0 L1559.4 150.5 L1560.8 151.1 L1562.2 151.6 L1563.6 152.2 L1564.9 152.8 L1566.3 153.5 L1567.6 154.1 L1569.0 154.7 L1570.3 155.4 L1571.7 156.1 L1573.0 156.8 L1574.3 157.5 L1575.6 158.2 L1576.9 158.9 L1578.2 159.7 L1579.5 160.5 L1580.8 161.3 L1582.0 162.1 L1583.3 162.9 L1584.5 163.7 L1585.8 164.6 L1587.0 165.4 L1588.2 166.3 L1589.4 167.2 L1590.7 168.0 L1591.9 168.9 L1593.1 169.8 L1594.3 170.7 L1595.5 171.6 L1596.7 172.5 L1597.9 173.4 L1599.1 174.3 L1600.3 175.2 L1601.5 176.1 L1602.6 177.0 L1603.8 178.0 L1605.0 178.9 L1606.2 179.9 L1607.3 180.8 L1608.5 181.7 L1609.6 182.7 L1610.8 183.6 L1612.0 184.6 L1613.1 185.5 L1614.3 186.5 L1615.5 187.4 L1616.6 188.3 L1617.8 189.3 L1619.0 190.2 L1620.2 191.1 L1621.4 192.0 L1622.6 192.9 L1623.8 193.8 L1625.0 194.7 L1626.1 195.6 L1627.3 196.5 L1628.6 197.4 L1629.8 198.3 L1631.0 199.2 L1632.2 200.1 L1633.4 201.0 L1634.6 201.9 L1635.8 202.7 L1637.0 203.6 L1638.3 204.5 L1639.5 205.3 L1640.7 206.2 L1642.0 207.0 L1643.2 207.8 L1644.5 208.7 L1645.7 209.5 L1647.0 210.3 L1648.3 211.1 L1649.5 211.9 L1650.8 212.7 L1652.1 213.5 L1653.4 214.2 L1654.7 215.0 L1655.9 215.8 L1657.2 216.5 L1658.5 217.3 L1659.8 218.1 L1661.1 218.8 L1662.4 219.5 L1663.7 220.3 L1665.0 221.0 L1666.3 221.7 L1667.6 222.5 L1669.0 223.2 L1670.3 223.9 L1671.6 224.6 L1672.9 225.3 L1674.2 226.0 L1675.6 226.7 L1676.9 227.4 L1678.2 228.1 L1679.6 228.8 L1680.9 229.5 L1682.2 230.2 L1683.6 230.9 L1684.9 231.5 L1686.2 232.2 L1687.6 232.9 L1688.9 233.5 L1690.3 234.2 L1691.6 234.9 L1693.0 235.5 L1694.3 236.2 L1695.7 236.8 L1697.0 237.5 L1698.4 238.1 L1699.7 238.7 L1701.1 239.4 L1702.4 240.0 L1703.8 240.7 L1705.2 241.3 L1706.5 241.9 L1707.9 242.5 L1709.3 243.1 L1710.6 243.8 L1712.0 244.4 L1713.4 245.0 L1714.7 245.6 L1716.1 246.2 L1717.5 246.8 L1718.8 247.4 L1720.2 248.0 L1721.6 248.6 L1723.0 249.1 L1724.4 249.7 L1725.8 250.3 L1727.2 250.8 L1728.5 251.4 L1729.9 252.0 L1731.3 252.5 L1732.7 253.1 L1734.1 253.6 L1735.5 254.2 L1736.9 254.7 L1738.3 255.2 L1739.7 255.8 L1741.1 256.3 L1742.5 256.8 L1743.9 257.3 L1745.3 257.9 L1746.7 258.4 L1748.2 258.9 L1749.6 259.4 L1751.0 259.8 L1752.4 260.3 L1753.8 260.8 L1755.3 261.2 L1756.7 261.7 L1758.1 262.1 L1759.6 262.6 L1761.0 263.0 L1762.4 263.4 L1763.9 263.8 L1765.3 264.2 L1766.8 264.6 L1768.2 265.0 L1769.7 265.3 L1771.1 265.7 L1772.6 266.0 L1774.0 266.4 L1775.5 266.7 L1777.0 267.1 L1778.4 267.4 L1779.9 267.8 L1781.3 268.1 L1782.8 268.5 L1784.3 268.8 L1785.7 269.1 L1787.2 269.5 L1788.6 269.8 L1790.1 270.2 L1791.6 270.5 L1793.0 270.9 L1794.5 271.2 L1795.9 271.6 L1797.4 272.0 L1798.8 272.3 L1800.3 272.7 L1801.7 273.0 L1803.2 273.4 L1804.7 273.8 L1806.1 274.1 L1807.6 274.5 L1809.0 274.8 L1810.5 275.1 L1812.0 275.4 L1813.4 275.8 L1814.9 276.1 L1816.4 276.4 L1817.8 276.7 L1819.3 277.0 L1820.8 277.3 L1822.2 277.5 L1823.7 277.8 L1825.2 278.1 L1826.7 278.4 L1828.1 278.7 L1829.6 278.9 L1831.1 279.2 L1832.5 279.5 L1834.0 279.7 L1835.5 280.0 L1837.0 280.2 L1838.5 280.5 L1839.9 280.7 L1841.4 281.0 L1842.9 281.2 L1844.4 281.4 L1845.9 281.7 L1847.3 281.9 L1848.8 282.1 L1850.3 282.4 L1851.8 282.6 L1853.3 282.8 L1854.8 283.0 L1856.2 283.2 L1857.7 283.4 L1859.2 283.6 L1860.7 283.8 L1862.2 284.0 L1863.7 284.2 L1865.2 284.4 L1866.6 284.6 L1868.1 284.7 L1869.6 284.9 L1871.1 285.1 L1872.6 285.3 L1874.1 285.5 L1875.6 285.6 L1877.1 285.8 L1878.6 286.0 L1880.0 286.1 L1881.5 286.3 L1883.0 286.5 L1884.5 286.6 L1886.0 286.8 L1887.5 287.0 L1889.0 287.1 L1890.5 287.3 L1892.0 287.4 L1893.5 287.5 L1895.0 287.7 L1896.4 287.8 L1897.9 288.0 L1899.4 288.1 L1900.9 288.2 L1902.4 288.3 L1903.9 288.5 L1905.4 288.6 L1906.9 288.7 L1908.4 288.8 L1909.9 288.9 L1911.4 289.0 L1912.9 289.1 L1914.4 289.2 L1915.9 289.3 L1917.4 289.4 L1918.9 289.5 L1920.4 289.6 L1921.9 289.7 L1923.4 289.7 L1924.9 289.8 L1926.3 289.9 L1927.8 290.0 L1929.3 290.1 L1930.8 290.1 L1932.3 290.2 L1933.8 290.3 L1935.3 290.4 L1936.8 290.4 L1938.3 290.5 L1939.8 290.6 L1941.3 290.6 L1942.8 290.7 L1944.3 290.8 L1945.8 290.8 L1947.3 290.9 L1948.8 291.0 L1950.3 291.0 L1951.8 291.1 L1953.3 291.1 L1954.8 291.2 L1956.3 291.2 L1957.8 291.3 L1959.3 291.3 L1960.8 291.4 L1962.3 291.4 L1963.8 291.4 L1965.3 291.5 L1966.8 291.5 L1968.3 291.6 L1969.8 291.6 L1971.3 291.6 L1972.8 291.7 L1974.3 291.7 L1975.8 291.7 L1977.3 291.8 L1978.8 291.8 L1980.3 291.8 L1981.8 291.9 L1983.3 291.9 L1984.8 291.9 L1986.3 292.0 L1987.8 292.0 L1989.3 292.0 L1990.8 292.1 L1992.3 292.1 L1993.8 292.1 L1995.3 292.1 L1996.8 292.2 L1998.3 292.2 L1999.8 292.2 L2001.3 292.2 L2002.8 292.2 L2004.3 292.3 L2005.8 292.3 L2007.3 292.3 L2008.8 292.3 L2010.3 292.3 L2011.8 292.3 L2013.3 292.3 L2014.8 292.4 L2015.2 292.4"/>
<path class="cv" stroke="#8c2428" stroke-width="2.6" d="M1503.2 64.5 L1504.3 65.6 L1505.3 66.7 L1506.4 67.7 L1507.4 68.8 L1508.5 69.9 L1509.5 71.0 L1510.6 72.0 L1511.6 73.1 L1512.7 74.1 L1513.8 75.2 L1514.8 76.3 L1515.9 77.3 L1517.0 78.4 L1518.0 79.4 L1519.1 80.5 L1520.2 81.5 L1521.3 82.5 L1522.3 83.6 L1523.4 84.6 L1524.5 85.7 L1525.6 86.7 L1526.7 87.7 L1527.8 88.7 L1528.9 89.8 L1530.0 90.8 L1531.1 91.8 L1532.2 92.8 L1533.3 93.9 L1534.4 94.9 L1535.5 95.9 L1536.6 96.9 L1537.7 97.9 L1538.8 98.9 L1539.9 99.9 L1541.0 100.9 L1542.1 101.9 L1543.2 102.9 L1544.4 103.9 L1545.5 104.9 L1546.6 105.9 L1547.8 106.8 L1548.9 107.8 L1550.1 108.7 L1551.3 109.7 L1552.4 110.6 L1553.6 111.5 L1554.8 112.5 L1556.0 113.4 L1557.2 114.3 L1558.4 115.2 L1559.6 116.1 L1560.8 116.9 L1562.0 117.8 L1563.2 118.7 L1564.5 119.5 L1565.7 120.4 L1566.9 121.2 L1568.2 122.1 L1569.4 122.9 L1570.7 123.7 L1571.9 124.6 L1573.2 125.4 L1574.4 126.2 L1575.7 127.0 L1576.9 127.9 L1578.2 128.7 L1579.4 129.5 L1580.7 130.3 L1581.9 131.1 L1583.2 132.0 L1584.5 132.8 L1585.7 133.6 L1587.0 134.4 L1588.2 135.2 L1589.5 136.0 L1590.7 136.8 L1592.0 137.7 L1593.3 138.5 L1594.5 139.3 L1595.8 140.0 L1597.1 140.8 L1598.4 141.6 L1599.6 142.4 L1600.9 143.2 L1602.2 143.9 L1603.5 144.7 L1604.8 145.4 L1606.1 146.2 L1607.4 146.9 L1608.7 147.6 L1610.1 148.3 L1611.4 149.1 L1612.7 149.8 L1614.0 150.5 L1615.3 151.2 L1616.7 151.8 L1618.0 152.5 L1619.3 153.2 L1620.7 153.9 L1622.0 154.5 L1623.4 155.2 L1624.7 155.9 L1626.1 156.5 L1627.4 157.2 L1628.8 157.8 L1630.1 158.5 L1631.5 159.1 L1632.8 159.7 L1634.2 160.4 L1635.6 161.0 L1636.9 161.6 L1638.3 162.3 L1639.6 162.9 L1641.0 163.5 L1642.4 164.1 L1643.8 164.7 L1645.1 165.3 L1646.5 165.9 L1647.9 166.5 L1649.3 167.1 L1650.6 167.6 L1652.0 168.2 L1653.4 168.8 L1654.8 169.3 L1656.2 169.9 L1657.6 170.4 L1659.0 171.0 L1660.4 171.5 L1661.8 172.0 L1663.2 172.6 L1664.6 173.1 L1666.0 173.6 L1667.4 174.1 L1668.8 174.6 L1670.2 175.1 L1671.6 175.7 L1673.1 176.2 L1674.5 176.7 L1675.9 177.2 L1677.3 177.7 L1678.7 178.1 L1680.1 178.6 L1681.5 179.1 L1683.0 179.6 L1684.4 180.1 L1685.8 180.6 L1687.2 181.0 L1688.6 181.5 L1690.1 182.0 L1691.5 182.4 L1692.9 182.9 L1694.4 183.3 L1695.8 183.8 L1697.2 184.2 L1698.6 184.7 L1700.1 185.1 L1701.5 185.5 L1702.9 186.0 L1704.4 186.4 L1705.8 186.8 L1707.3 187.3 L1708.7 187.7 L1710.1 188.1 L1711.6 188.5 L1713.0 188.9 L1714.5 189.3 L1715.9 189.7 L1717.3 190.2 L1718.8 190.6 L1720.2 191.0 L1721.7 191.4 L1723.1 191.8 L1724.6 192.2 L1726.0 192.6 L1727.5 192.9 L1728.9 193.3 L1730.4 193.7 L1731.8 194.1 L1733.2 194.5 L1734.7 194.9 L1736.2 195.2 L1737.6 195.6 L1739.1 195.9 L1740.5 196.3 L1742.0 196.7 L1743.4 197.0 L1744.9 197.3 L1746.3 197.7 L1747.8 198.0 L1749.3 198.3 L1750.7 198.7 L1752.2 199.0 L1753.7 199.3 L1755.1 199.6 L1756.6 199.9 L1758.1 200.2 L1759.5 200.5 L1761.0 200.8 L1762.5 201.0 L1764.0 201.3 L1765.4 201.6 L1766.9 201.8 L1768.4 202.1 L1769.9 202.3 L1771.3 202.6 L1772.8 202.8 L1774.3 203.0 L1775.8 203.3 L1777.3 203.5 L1778.7 203.7 L1780.2 204.0 L1781.7 204.2 L1783.2 204.4 L1784.7 204.6 L1786.2 204.9 L1787.6 205.1 L1789.1 205.3 L1790.6 205.5 L1792.1 205.7 L1793.6 205.9 L1795.1 206.1 L1796.5 206.3 L1798.0 206.6 L1799.5 206.8 L1801.0 207.0 L1802.5 207.2 L1804.0 207.4 L1805.4 207.6 L1806.9 207.8 L1808.4 208.1 L1809.9 208.3 L1811.4 208.5 L1812.9 208.7 L1814.3 208.9 L1815.8 209.1 L1817.3 209.4 L1818.8 209.6 L1820.3 209.8 L1821.8 210.0 L1823.2 210.3 L1824.7 210.5 L1826.2 210.7 L1827.7 210.9 L1829.2 211.1 L1830.6 211.3 L1832.1 211.6 L1833.6 211.8 L1835.1 212.0 L1836.6 212.2 L1838.1 212.4 L1839.5 212.6 L1841.0 212.9 L1842.5 213.1 L1844.0 213.3 L1845.5 213.5 L1847.0 213.7 L1848.4 213.9 L1849.9 214.1 L1851.4 214.3 L1852.9 214.5 L1854.4 214.7 L1855.9 214.9 L1857.4 215.1 L1858.8 215.3 L1860.3 215.5 L1861.8 215.7 L1863.3 215.9 L1864.8 216.1 L1866.3 216.3 L1867.8 216.5 L1869.2 216.7 L1870.7 216.9 L1872.2 217.1 L1873.7 217.3 L1875.2 217.5 L1876.7 217.6 L1878.2 217.8 L1879.7 218.0 L1881.1 218.2 L1882.6 218.4 L1884.1 218.5 L1885.6 218.7 L1887.1 218.9 L1888.6 219.1 L1890.1 219.3 L1891.6 219.4 L1893.0 219.6 L1894.5 219.8 L1896.0 220.0 L1897.5 220.1 L1899.0 220.3 L1900.5 220.5 L1902.0 220.7 L1903.5 220.8 L1905.0 221.0 L1906.4 221.2 L1907.9 221.4 L1909.4 221.5 L1910.9 221.7 L1912.4 221.9 L1913.9 222.1 L1915.4 222.2 L1916.9 222.4 L1918.4 222.6 L1919.8 222.7 L1921.3 222.9 L1922.8 223.1 L1924.3 223.3 L1925.8 223.4 L1927.3 223.6 L1928.8 223.8 L1930.3 223.9 L1931.8 224.1 L1933.2 224.3 L1934.7 224.4 L1936.2 224.6 L1937.7 224.8 L1939.2 224.9 L1940.7 225.1 L1942.2 225.3 L1943.7 225.4 L1945.2 225.6 L1946.6 225.8 L1948.1 225.9 L1949.6 226.1 L1951.1 226.3 L1952.6 226.4 L1954.1 226.6 L1955.6 226.7 L1957.1 226.9 L1958.6 227.1 L1960.1 227.2 L1961.5 227.4 L1963.0 227.5 L1964.5 227.7 L1966.0 227.8 L1967.5 228.0 L1969.0 228.1 L1970.5 228.3 L1972.0 228.4 L1973.5 228.6 L1975.0 228.7 L1976.5 228.9 L1977.9 229.0 L1979.4 229.2 L1980.9 229.3 L1982.4 229.5 L1983.9 229.6 L1985.4 229.8 L1986.9 229.9 L1988.4 230.1 L1989.9 230.2 L1991.4 230.3 L1992.9 230.5 L1994.4 230.6 L1995.8 230.8 L1997.3 230.9 L1998.8 231.1 L2000.3 231.2 L2001.8 231.3 L2003.3 231.5 L2004.8 231.6 L2006.3 231.7 L2007.8 231.9 L2009.3 232.0 L2010.8 232.1 L2012.3 232.3 L2013.8 232.4 L2015.2 232.6"/>
<path class="cv" stroke="#bcbcbc" stroke-width="2.05" d="M1504.7 31.5 L1504.7 33.0 L1504.7 34.5 L1504.8 36.0 L1504.8 37.5 L1504.8 39.0 L1504.8 40.5 L1504.9 42.0 L1504.9 43.5 L1504.9 45.0 L1505.0 46.5 L1505.0 48.0 L1505.0 49.5 L1505.0 51.0 L1505.1 52.5 L1505.1 54.0 L1505.1 55.5 L1505.2 57.0 L1505.2 58.5 L1505.2 60.0 L1505.2 61.5 L1505.3 63.0 L1505.3 64.5 L1505.3 66.0 L1505.4 67.5 L1505.4 69.0 L1505.4 70.5 L1505.5 72.0 L1505.5 73.5 L1505.5 75.0 L1505.5 76.5 L1505.6 78.0 L1505.6 79.5 L1505.6 81.0 L1505.7 82.5 L1505.7 84.0 L1505.7 85.5 L1505.8 87.0 L1505.8 88.5 L1505.8 90.0 L1505.9 91.5 L1505.9 93.0 L1505.9 94.5 L1505.9 96.0 L1506.0 97.5 L1506.0 99.0 L1506.0 100.5 L1506.1 102.0 L1506.1 103.5 L1506.1 105.0 L1506.2 106.5 L1506.2 108.0 L1506.2 109.5 L1506.3 111.0 L1506.3 112.5 L1506.3 114.0 L1506.4 115.5 L1506.4 117.0 L1506.4 118.5 L1506.5 120.0 L1506.5 121.5 L1506.5 123.0 L1506.6 124.5 L1506.6 126.0 L1506.6 127.5 L1506.7 129.0 L1506.7 130.5 L1506.7 132.0 L1506.8 133.5 L1506.8 135.0 L1506.9 136.5 L1506.9 138.0 L1507.0 139.5 L1507.0 141.0 L1507.0 142.5 L1507.1 144.0 L1507.1 145.5 L1507.2 147.0 L1507.2 148.5 L1507.3 150.0 L1507.3 151.4 L1507.4 152.9 L1507.4 154.4 L1507.5 155.9 L1507.5 157.4 L1507.6 158.9 L1507.6 160.4 L1507.7 161.9 L1507.8 163.4 L1507.8 164.9 L1507.9 166.4 L1507.9 167.9 L1508.0 169.4 L1508.0 170.9 L1508.1 172.4 L1508.2 173.9 L1508.2 175.4 L1508.3 176.9 L1508.4 178.4 L1508.4 179.9 L1508.5 181.4 L1508.6 182.9 L1508.7 184.4 L1508.7 185.9 L1508.8 187.4 L1508.9 188.9 L1509.0 190.4 L1509.1 191.9 L1509.2 193.4 L1509.2 194.9 L1509.3 196.4 L1509.4 197.9 L1509.5 199.4 L1509.6 200.9 L1509.7 202.4 L1509.8 203.9 L1509.9 205.4 L1510.0 206.9 L1510.1 208.4 L1510.3 209.9 L1510.4 211.3 L1510.5 212.8 L1510.6 214.3 L1510.7 215.8 L1510.9 217.3 L1511.0 218.8 L1511.1 220.3 L1511.3 221.8 L1511.4 223.3 L1511.6 224.8 L1511.7 226.3 L1511.9 227.8 L1512.1 229.3 L1512.3 230.7 L1512.5 232.2 L1512.7 233.7 L1513.0 235.2 L1513.2 236.7 L1513.5 238.1 L1513.8 239.6 L1514.2 241.1 L1514.5 242.5 L1514.9 244.0 L1515.3 245.4 L1515.8 246.8 L1516.2 248.3 L1516.7 249.7 L1517.1 251.1 L1517.7 252.5 L1518.2 253.9 L1518.7 255.3 L1519.3 256.7 L1519.8 258.1 L1520.4 259.5 L1521.0 260.8 L1521.7 262.2 L1522.3 263.5 L1523.0 264.8 L1523.8 266.1 L1524.5 267.4 L1525.3 268.7 L1526.2 269.9 L1527.0 271.2 L1527.9 272.3 L1528.9 273.5 L1529.9 274.6 L1530.9 275.6 L1532.0 276.6 L1533.2 277.6 L1534.3 278.5 L1535.6 279.3 L1536.8 280.1 L1538.1 280.8 L1539.4 281.5 L1540.8 282.2 L1542.1 282.8 L1543.5 283.4 L1544.9 283.9 L1546.3 284.5 L1547.7 284.9 L1549.1 285.4 L1550.6 285.8 L1552.0 286.2 L1553.5 286.6 L1554.9 286.9 L1556.4 287.2 L1557.8 287.5 L1559.3 287.8 L1560.8 288.1 L1562.3 288.4 L1563.7 288.6 L1565.2 288.9 L1566.7 289.1 L1568.2 289.3 L1569.7 289.5 L1571.2 289.7 L1572.6 289.9 L1574.1 290.1 L1575.6 290.3 L1577.1 290.4 L1578.6 290.6 L1580.1 290.7 L1581.6 290.9 L1583.1 291.0 L1584.6 291.1 L1586.1 291.2 L1587.6 291.3 L1589.1 291.5 L1590.6 291.6 L1592.1 291.7 L1593.5 291.7 L1595.0 291.8 L1596.5 291.9 L1598.0 292.0 L1599.5 292.1 L1601.0 292.1 L1602.5 292.2 L1604.0 292.3 L1605.5 292.3 L1607.0 292.4 L1608.5 292.4 L1610.0 292.5 L1611.5 292.5 L1613.0 292.6 L1614.5 292.6 L1616.0 292.7 L1617.5 292.7 L1619.0 292.8 L1620.5 292.8 L1622.0 292.9 L1623.5 292.9 L1625.0 292.9 L1626.5 293.0 L1628.0 293.0 L1629.5 293.0 L1631.0 293.1 L1632.5 293.1 L1634.0 293.1 L1635.5 293.2 L1637.0 293.2 L1638.5 293.2 L1640.0 293.2 L1641.5 293.3 L1643.0 293.3 L1644.5 293.3 L1646.0 293.4 L1647.5 293.4 L1649.0 293.4 L1650.5 293.4 L1652.0 293.5 L1653.5 293.5 L1655.0 293.5 L1656.5 293.5 L1658.0 293.5 L1659.5 293.6 L1661.0 293.6 L1662.5 293.6 L1664.0 293.6 L1665.5 293.6 L1667.0 293.7 L1668.5 293.7 L1670.0 293.7 L1671.5 293.7 L1673.0 293.7 L1674.5 293.8 L1676.0 293.8 L1677.5 293.8 L1679.0 293.8 L1680.5 293.8 L1682.0 293.8 L1683.5 293.9 L1685.0 293.9 L1686.5 293.9 L1688.0 293.9 L1689.5 293.9 L1691.0 293.9 L1692.5 293.9 L1694.0 293.9 L1695.5 294.0 L1697.0 294.0 L1698.5 294.0 L1700.0 294.0 L1701.5 294.0 L1703.0 294.0 L1704.5 294.0 L1706.0 294.0 L1707.5 294.0 L1709.0 294.0 L1710.5 294.1 L1712.0 294.1 L1713.5 294.1 L1715.0 294.1 L1716.5 294.1 L1718.0 294.1 L1719.5 294.1 L1721.0 294.1 L1722.5 294.1 L1724.0 294.1 L1725.5 294.1 L1727.0 294.1 L1728.5 294.1 L1730.0 294.1 L1731.5 294.1 L1733.0 294.1 L1734.5 294.1 L1736.0 294.2 L1737.5 294.2 L1739.0 294.2 L1740.5 294.2 L1742.0 294.2 L1743.5 294.2 L1745.0 294.2 L1746.5 294.2 L1748.0 294.2 L1749.5 294.2 L1751.0 294.2 L1752.5 294.2 L1754.0 294.2 L1755.5 294.2 L1757.0 294.2 L1758.5 294.2 L1760.0 294.2 L1761.5 294.2 L1763.0 294.2 L1764.5 294.2 L1766.0 294.2 L1767.5 294.2 L1769.0 294.2 L1770.5 294.3 L1772.0 294.3 L1773.5 294.3 L1775.0 294.3 L1776.5 294.3 L1778.0 294.3 L1779.5 294.3 L1781.0 294.3 L1782.5 294.3 L1784.0 294.3 L1785.5 294.3 L1787.0 294.3 L1788.5 294.3 L1790.0 294.3 L1791.5 294.3 L1793.0 294.3 L1794.5 294.3 L1796.0 294.3 L1797.5 294.3 L1799.0 294.3 L1800.5 294.3 L1802.0 294.3 L1803.5 294.3 L1805.0 294.3 L1806.5 294.3 L1808.5 294.3 L1810.5 294.3"/>
<path class="cv" stroke="#f8f824" d="M1503.2 294.3 L1504.6 293.8 L1505.9 293.3 L1507.2 292.7 L1508.5 292.0 L1509.6 291.2 L1510.7 290.2 L1511.7 289.2 L1512.6 288.1 L1513.4 286.9 L1514.2 285.6 L1514.9 284.3 L1515.5 283.0 L1516.1 281.6 L1516.7 280.3 L1517.2 278.9 L1517.8 277.5 L1518.3 276.1 L1518.8 274.7 L1519.3 273.3 L1519.8 271.8 L1520.3 270.4 L1520.8 269.0 L1521.3 267.6 L1521.9 266.2 L1522.4 264.8 L1522.9 263.4 L1523.4 262.0 L1523.9 260.6 L1524.4 259.2 L1524.9 257.7 L1525.4 256.3 L1525.9 254.9 L1526.4 253.5 L1526.9 252.1 L1527.5 250.7 L1528.0 249.3 L1528.5 247.9 L1529.0 246.5 L1529.5 245.1 L1530.1 243.7 L1530.6 242.3 L1531.2 240.9 L1531.8 239.5 L1532.4 238.1 L1533.0 236.7 L1533.5 235.4 L1534.2 234.0 L1534.8 232.6 L1535.4 231.3 L1536.0 229.9 L1536.7 228.5 L1537.3 227.2 L1538.0 225.9 L1538.7 224.5 L1539.4 223.2 L1540.1 221.9 L1540.8 220.6 L1541.6 219.3 L1542.4 218.0 L1543.2 216.7 L1544.0 215.5 L1544.8 214.2 L1545.7 213.0 L1546.5 211.8 L1547.4 210.6 L1548.3 209.4 L1549.3 208.2 L1550.2 207.0 L1551.1 205.9 L1552.1 204.7 L1553.1 203.6 L1554.1 202.5 L1555.1 201.3 L1556.1 200.2 L1557.1 199.2 L1558.2 198.1 L1559.2 197.0 L1560.3 196.0 L1561.4 195.0 L1562.5 194.0 L1563.6 193.0 L1564.8 192.0 L1565.9 191.0 L1567.1 190.1 L1568.3 189.2 L1569.5 188.3 L1570.7 187.4 L1571.9 186.6 L1573.2 185.8 L1574.4 184.9 L1575.7 184.2 L1577.0 183.4 L1578.3 182.7 L1579.7 182.0 L1581.0 181.4 L1582.4 180.8 L1583.7 180.2 L1585.1 179.6 L1586.5 179.1 L1588.0 178.6 L1589.4 178.2 L1590.8 177.7 L1592.2 177.3 L1593.7 176.9 L1595.1 176.5 L1596.6 176.1 L1598.0 175.7 L1599.5 175.4 L1600.9 175.1 L1602.4 174.7 L1603.9 174.4 L1605.4 174.2 L1606.8 173.9 L1608.3 173.6 L1609.8 173.4 L1611.3 173.1 L1612.7 172.9 L1614.2 172.6 L1615.7 172.4 L1617.2 172.2 L1618.7 172.0 L1620.2 171.8 L1621.7 171.7 L1623.1 171.5 L1624.6 171.3 L1626.1 171.2 L1627.6 171.1 L1629.1 171.0 L1630.6 170.9 L1632.1 170.8 L1633.6 170.7 L1635.1 170.6 L1636.6 170.6 L1638.1 170.5 L1639.6 170.4 L1641.1 170.4 L1642.6 170.3 L1644.1 170.3 L1645.6 170.2 L1647.1 170.2 L1648.6 170.2 L1650.1 170.1 L1651.6 170.1 L1653.1 170.1 L1654.6 170.1 L1656.1 170.1 L1657.6 170.1 L1659.1 170.1 L1660.6 170.1 L1662.1 170.1 L1663.6 170.1 L1665.1 170.2 L1666.6 170.2 L1668.1 170.3 L1669.6 170.3 L1671.1 170.4 L1672.6 170.4 L1674.1 170.5 L1675.6 170.6 L1677.1 170.7 L1678.6 170.8 L1680.1 170.8 L1681.6 170.9 L1683.1 171.0 L1684.6 171.1 L1686.1 171.2 L1687.6 171.3 L1689.1 171.4 L1690.5 171.5 L1692.0 171.6 L1693.5 171.7 L1695.0 171.8 L1696.5 171.9 L1698.0 172.0 L1699.5 172.1 L1701.0 172.2 L1702.5 172.3 L1704.0 172.4 L1705.5 172.5 L1707.0 172.5 L1708.5 172.6 L1710.0 172.7 L1711.5 172.8 L1713.0 172.9 L1714.5 173.0 L1716.0 173.1 L1717.5 173.2 L1719.0 173.3 L1720.5 173.4 L1722.0 173.4 L1723.5 173.5 L1725.0 173.6 L1726.5 173.7 L1728.0 173.8 L1729.5 173.9 L1731.0 174.0 L1732.5 174.1 L1734.0 174.2 L1735.5 174.3 L1737.0 174.4 L1738.4 174.5 L1739.9 174.6 L1741.4 174.7 L1742.9 174.8 L1744.4 174.9 L1745.9 175.0 L1747.4 175.1 L1748.9 175.2 L1750.4 175.3 L1751.9 175.4 L1753.4 175.5 L1754.9 175.6 L1756.4 175.7 L1757.9 175.8 L1759.4 175.9 L1760.9 176.0 L1762.4 176.1 L1763.9 176.2 L1765.4 176.3 L1766.9 176.4 L1768.4 176.5 L1769.9 176.6 L1771.4 176.7 L1772.9 176.8 L1774.4 176.9 L1775.9 177.0 L1777.4 177.1 L1778.9 177.2 L1780.4 177.3 L1781.8 177.4 L1783.3 177.5 L1784.8 177.6 L1786.3 177.7 L1787.8 177.8 L1789.3 177.9 L1790.8 178.0 L1792.3 178.1 L1793.8 178.2 L1795.3 178.3 L1796.8 178.4 L1798.3 178.5 L1799.8 178.6 L1801.3 178.7 L1802.8 178.8 L1804.3 178.9 L1805.8 179.0 L1807.3 179.1 L1808.8 179.2 L1810.3 179.3 L1811.8 179.4 L1813.3 179.6 L1814.8 179.7 L1816.3 179.8 L1817.8 179.9 L1819.2 180.0 L1820.7 180.1 L1822.2 180.2 L1823.7 180.3 L1825.2 180.5 L1826.7 180.6 L1828.2 180.7 L1829.7 180.8 L1831.2 180.9 L1832.7 181.0 L1834.2 181.1 L1835.7 181.3 L1837.2 181.4 L1838.7 181.5 L1840.2 181.6 L1841.7 181.7 L1843.2 181.8 L1844.7 181.9 L1846.2 182.1 L1847.7 182.2 L1849.2 182.3 L1850.7 182.4 L1852.1 182.5 L1853.6 182.6 L1855.1 182.7 L1856.6 182.9 L1858.1 183.0 L1859.6 183.1 L1861.1 183.2 L1862.6 183.3 L1864.1 183.4 L1865.6 183.5 L1867.1 183.6 L1868.6 183.7 L1870.1 183.8 L1871.6 184.0 L1873.1 184.1 L1874.6 184.2 L1876.1 184.3 L1877.6 184.4 L1879.1 184.5 L1880.6 184.6 L1882.1 184.7 L1883.6 184.8 L1885.1 184.9 L1886.6 185.0 L1888.0 185.1 L1889.5 185.2 L1891.0 185.3 L1892.5 185.4 L1894.0 185.5 L1895.5 185.6 L1897.0 185.8 L1898.5 185.9 L1900.0 186.0 L1901.5 186.1 L1903.0 186.2 L1904.5 186.3 L1906.0 186.4 L1907.5 186.5 L1909.0 186.6 L1910.5 186.7 L1912.0 186.8 L1913.5 186.9 L1915.0 187.0 L1916.5 187.1 L1918.0 187.2 L1919.5 187.3 L1921.0 187.4 L1922.5 187.5 L1924.0 187.6 L1925.5 187.7 L1926.9 187.8 L1928.4 187.9 L1929.9 188.0 L1931.4 188.1 L1932.9 188.2 L1934.4 188.4 L1935.9 188.5 L1937.4 188.6 L1938.9 188.7 L1940.4 188.8 L1941.9 188.9 L1943.4 189.0 L1944.9 189.1 L1946.4 189.2 L1947.9 189.3 L1949.4 189.4 L1950.9 189.5 L1952.4 189.6 L1953.9 189.7 L1955.4 189.8 L1956.9 189.9 L1958.4 190.0 L1959.9 190.1 L1961.4 190.2 L1962.9 190.3 L1964.4 190.4 L1965.9 190.5 L1967.4 190.6 L1968.8 190.7 L1970.3 190.8 L1971.8 190.9 L1973.3 191.0 L1974.8 191.1 L1976.3 191.1 L1977.8 191.2 L1979.3 191.3 L1980.8 191.4 L1982.3 191.5 L1983.8 191.6 L1985.3 191.7 L1986.8 191.8 L1988.3 191.9 L1989.8 192.0 L1991.3 192.1 L1992.8 192.2 L1994.3 192.3 L1995.8 192.4 L1997.3 192.5 L1998.8 192.6 L2000.3 192.7 L2001.8 192.8 L2003.3 192.9 L2004.8 192.9 L2006.3 193.0 L2007.8 193.1 L2009.3 193.2 L2010.8 193.3 L2012.3 193.4 L2013.8 193.5 L2015.2 193.6"/>
<path class="ax" stroke="#303030" stroke-width="1.4" stroke-opacity="0.62" d="M1496.25 294.30 H2015.85"/>
<path class="ax" stroke="#6c6c6c" stroke-width="1.3" d="M1503.25 34.80 V553.80"/>
<path class="ax tick" d="M1503.25 553.20 h-7.0 M1503.25 488.48 h-4.0 M1503.25 423.75 h-7.0 M1503.25 359.02 h-4.0 M1503.25 229.58 h-4.0 M1503.25 164.85 h-7.0 M1503.25 100.13 h-4.0 M1503.25 35.40 h-7.0 M1554.45 294.30 v4.0 M1605.65 294.30 v7.5 M1656.85 294.30 v4.0 M1708.05 294.30 v7.5 M1759.25 294.30 v4.0 M1810.45 294.30 v7.5 M1861.65 294.30 v4.0 M1912.85 294.30 v7.5 M1964.05 294.30 v4.0 M2015.25 294.30 v7.5"/>
<text class="tk" text-anchor="end" x="1491.3" y="563.3">2</text>
<text class="mn" x="1460.9" y="561.7">−</text>
<text class="tk" text-anchor="end" x="1491.3" y="434.0">1</text>
<text class="mn" x="1460.9" y="432.4">−</text>
<text class="tk" text-anchor="end" x="1491.3" y="304.8">0</text>
<text class="tk" text-anchor="end" x="1491.3" y="175.6">1</text>
<text class="tk" text-anchor="end" x="1491.3" y="46.3">2</text>
<text class="tk" text-anchor="middle" x="1605.2" y="332.3">1</text>
<text class="tk" text-anchor="middle" x="1707.5" y="332.3">2</text>
<text class="tk" text-anchor="middle" x="1810.0" y="332.3">3</text>
<text class="tk" text-anchor="middle" x="1912.3" y="332.3">4</text>
<text class="tk" text-anchor="middle" x="2014.8" y="332.3">5</text>
<text class="lt" x="1414" y="97.7">C)</text>
<text class="fl it" transform="translate(1383.70 175.80) skewX(-10.4)">f</text>
<text class="fl pr" transform="translate(1402.30 175.80) scale(0.765 1)">(</text>
<text class="fl gk" transform="translate(1414.80 175.20) scale(1.055 1)">η</text>
<text class="fl pr" transform="translate(1436.40 175.80) scale(0.78 1)">)</text>
<text class="et" transform="translate(1751.55 370.60) scale(1.07 1)">η</text>
</g>
<g class="panel" id="panel-D">
<path class="cv" stroke="#000000" d="M147.5 740.1 L149.0 740.0 L150.5 740.0 L152.0 739.9 L153.5 739.8 L155.0 739.7 L156.5 739.5 L158.0 739.4 L159.4 739.2 L160.9 739.0 L162.4 738.8 L163.9 738.5 L165.4 738.2 L166.8 738.0 L168.3 737.7 L169.8 737.4 L171.2 737.1 L172.7 736.8 L174.2 736.5 L175.6 736.3 L177.1 736.0 L178.6 735.7 L180.1 735.5 L181.6 735.2 L183.0 735.0 L184.5 734.8 L186.0 734.7 L187.5 734.5 L189.0 734.4 L190.5 734.3 L192.0 734.2 L193.5 734.1 L195.0 734.0 L196.5 734.0 L198.5 734.0 L200.0 734.1 L201.4 734.1 L202.9 734.3 L204.4 734.4 L205.9 734.6 L207.4 734.8 L208.8 735.1 L210.3 735.4 L211.7 735.8 L213.2 736.2 L214.6 736.6 L216.0 737.1 L217.4 737.7 L218.8 738.2 L220.1 738.8 L221.5 739.5 L222.8 740.2 L224.1 740.9 L225.4 741.6 L226.7 742.4 L228.0 743.1 L229.3 743.9 L230.5 744.8 L231.8 745.6 L233.0 746.5 L234.2 747.4 L235.4 748.3 L236.6 749.2 L237.7 750.1 L238.9 751.1 L240.0 752.0 L241.1 753.0 L242.3 754.0 L243.4 755.1 L244.4 756.1 L245.5 757.1 L246.6 758.2 L247.6 759.3 L248.6 760.3 L249.7 761.4 L250.7 762.6 L251.7 763.7 L252.6 764.8 L253.6 766.0 L254.5 767.1 L255.5 768.3 L256.4 769.5 L257.3 770.7 L258.2 771.9 L259.1 773.1 L260.0 774.3 L260.9 775.5 L261.8 776.7 L262.6 777.9 L263.5 779.1 L264.3 780.4 L265.2 781.6 L266.0 782.9 L266.8 784.1 L267.7 785.4 L268.5 786.6 L269.3 787.9 L270.0 789.2 L270.8 790.5 L271.6 791.7 L272.4 793.0 L273.2 794.3 L273.9 795.6 L274.7 796.9 L275.5 798.1 L276.3 799.4 L277.1 800.7 L277.9 802.0 L278.7 803.2 L279.5 804.5 L280.3 805.7 L281.2 807.0 L282.0 808.2 L282.9 809.4 L283.8 810.6 L284.6 811.9 L285.5 813.1 L286.4 814.3 L287.3 815.5 L288.2 816.7 L289.1 817.9 L290.0 819.1 L290.9 820.2 L291.9 821.4 L292.8 822.5 L293.8 823.7 L294.8 824.8 L295.8 825.9 L296.8 827.0 L297.9 828.1 L298.9 829.2 L300.0 830.2 L301.0 831.3 L302.1 832.3 L303.2 833.3 L304.3 834.3 L305.4 835.3 L306.6 836.3 L307.7 837.3 L308.9 838.2 L310.1 839.1 L311.3 840.0 L312.5 840.9 L313.7 841.8 L314.9 842.7 L316.2 843.5 L317.4 844.3 L318.7 845.1 L319.9 845.9 L321.2 846.7 L322.5 847.4 L323.9 848.1 L325.2 848.7 L326.6 849.4 L327.9 849.9 L329.3 850.5 L330.7 851.1 L332.1 851.6 L333.5 852.1 L335.0 852.5 L336.4 853.0 L337.8 853.4 L339.3 853.8 L340.7 854.2 L342.1 854.6 L343.6 854.9 L345.1 855.2 L346.5 855.5 L348.0 855.7 L349.5 855.9 L351.0 856.1 L352.5 856.3 L354.0 856.4 L355.5 856.6 L357.0 856.7 L358.4 856.8 L359.9 856.9 L361.4 857.0 L362.9 857.1 L364.4 857.2 L365.9 857.2 L367.4 857.3 L368.9 857.4 L370.4 857.5 L371.9 857.5 L373.4 857.6 L374.9 857.6 L376.4 857.7 L377.9 857.7 L379.4 857.7 L380.9 857.8 L382.4 857.8 L383.9 857.8 L384.4 857.8"/>
<path class="cv" stroke="#e01216" d="M147.5 736.2 L148.9 735.6 L150.3 735.0 L151.7 734.5 L153.1 733.9 L154.5 733.4 L155.8 732.8 L157.2 732.3 L158.6 731.8 L160.0 731.2 L161.4 730.7 L162.9 730.2 L164.3 729.6 L165.7 729.1 L167.1 728.6 L168.5 728.1 L169.9 727.6 L171.3 727.1 L172.7 726.7 L174.2 726.2 L175.6 725.8 L177.0 725.5 L178.5 725.1 L180.0 724.8 L181.4 724.5 L182.9 724.2 L184.4 724.0 L185.9 723.8 L187.3 723.6 L188.8 723.4 L190.3 723.3 L191.8 723.2 L193.3 723.2 L195.3 723.2 L196.8 723.3 L198.2 723.4 L199.7 723.6 L201.2 723.8 L202.7 724.0 L204.1 724.3 L205.6 724.6 L207.0 725.0 L208.5 725.4 L209.9 725.8 L211.3 726.3 L212.7 726.8 L214.1 727.3 L215.5 727.9 L216.9 728.5 L218.2 729.1 L219.6 729.8 L220.9 730.5 L222.2 731.3 L223.5 732.0 L224.7 732.8 L226.0 733.6 L227.2 734.4 L228.5 735.3 L229.7 736.2 L230.9 737.0 L232.1 737.9 L233.3 738.8 L234.5 739.7 L235.7 740.7 L236.8 741.6 L238.0 742.6 L239.1 743.5 L240.2 744.5 L241.4 745.5 L242.5 746.5 L243.6 747.6 L244.7 748.6 L245.7 749.6 L246.8 750.7 L247.9 751.7 L248.9 752.8 L250.0 753.9 L251.0 754.9 L252.1 756.0 L253.1 757.1 L254.1 758.2 L255.1 759.3 L256.1 760.4 L257.1 761.6 L258.1 762.7 L259.0 763.8 L260.0 765.0 L261.0 766.1 L261.9 767.3 L262.9 768.5 L263.8 769.6 L264.7 770.8 L265.6 772.0 L266.5 773.2 L267.4 774.4 L268.3 775.6 L269.2 776.8 L270.0 778.1 L270.9 779.3 L271.7 780.5 L272.6 781.8 L273.4 783.0 L274.2 784.3 L275.1 785.5 L275.9 786.7 L276.7 788.0 L277.6 789.2 L278.4 790.5 L279.3 791.7 L280.1 792.9 L281.0 794.2 L281.8 795.4 L282.7 796.7 L283.5 797.9 L284.4 799.1 L285.2 800.4 L286.1 801.6 L286.9 802.8 L287.8 804.1 L288.6 805.3 L289.5 806.5 L290.4 807.7 L291.2 808.9 L292.1 810.2 L293.0 811.4 L293.9 812.6 L294.8 813.7 L295.7 814.9 L296.7 816.1 L297.6 817.3 L298.6 818.4 L299.5 819.6 L300.5 820.7 L301.5 821.9 L302.4 823.0 L303.4 824.1 L304.4 825.2 L305.4 826.3 L306.5 827.4 L307.5 828.5 L308.6 829.5 L309.7 830.6 L310.8 831.6 L311.9 832.6 L313.0 833.6 L314.2 834.5 L315.3 835.5 L316.5 836.4 L317.7 837.3 L318.9 838.1 L320.1 839.0 L321.4 839.8 L322.6 840.7 L323.9 841.5 L325.2 842.3 L326.5 843.0 L327.8 843.8 L329.1 844.5 L330.4 845.2 L331.7 845.9 L333.1 846.5 L334.4 847.2 L335.8 847.8 L337.1 848.4 L338.5 849.0 L339.9 849.5 L341.3 850.0 L342.8 850.5 L344.2 850.9 L345.6 851.3 L347.1 851.7 L348.5 852.1 L350.0 852.4 L351.4 852.7 L352.9 853.1 L354.4 853.4 L355.8 853.7 L357.3 854.0 L358.8 854.2 L360.2 854.5 L361.7 854.7 L363.2 855.0 L364.7 855.2 L366.2 855.4 L367.7 855.6 L369.1 855.7 L370.6 855.9 L372.1 856.0 L373.6 856.1 L375.1 856.3 L376.6 856.4 L378.1 856.5 L379.6 856.6 L381.1 856.6 L382.6 856.7 L384.1 856.8 L385.6 856.9 L387.1 857.0 L388.6 857.1 L390.1 857.1 L391.6 857.2 L393.1 857.3 L394.6 857.3 L396.1 857.4 L397.6 857.4 L399.1 857.5 L400.6 857.5 L402.1 857.6 L403.6 857.6 L405.0 857.7 L406.5 857.7 L408.0 857.7 L409.5 857.7 L411.0 857.8 L412.5 857.8 L414.0 857.8 L415.5 857.8 L417.0 857.8 L418.5 857.8 L420.0 857.8 L422.0 857.8 L424.0 857.8 L426.0 857.8 L428.0 857.8 L430.0 857.8 L432.0 857.8 L434.0 857.8 L436.0 857.8 L438.0 857.8 L440.0 857.8 L442.0 857.8 L444.0 857.8 L446.0 857.8 L448.0 857.8 L450.0 857.8 L452.0 857.8 L454.0 857.8 L456.0 857.8 L456.5 857.8"/>
<path class="cv" stroke="#0808e0" d="M147.5 726.3 L148.6 725.2 L149.6 724.1 L150.7 723.1 L151.7 722.0 L152.8 721.0 L153.9 719.9 L155.0 718.9 L156.1 717.9 L157.2 717.0 L158.4 716.0 L159.6 715.1 L160.7 714.1 L161.9 713.2 L163.1 712.3 L164.4 711.5 L165.6 710.6 L166.8 709.8 L168.1 709.0 L169.4 708.2 L170.7 707.5 L172.0 706.8 L173.3 706.1 L174.7 705.5 L176.1 705.0 L177.5 704.5 L178.9 704.0 L180.3 703.7 L181.8 703.3 L183.2 703.1 L184.7 702.9 L186.2 702.7 L187.7 702.7 L189.6 702.7 L191.1 702.7 L192.6 702.9 L194.1 703.1 L195.5 703.3 L197.0 703.6 L198.4 704.0 L199.8 704.5 L201.2 704.9 L202.6 705.5 L204.0 706.1 L205.3 706.7 L206.6 707.4 L207.9 708.2 L209.2 708.9 L210.5 709.7 L211.8 710.5 L213.0 711.3 L214.3 712.1 L215.5 713.0 L216.7 713.8 L218.0 714.7 L219.2 715.6 L220.4 716.5 L221.6 717.3 L222.8 718.2 L224.0 719.1 L225.2 720.0 L226.4 720.9 L227.6 721.8 L228.8 722.7 L230.0 723.6 L231.2 724.6 L232.3 725.5 L233.5 726.5 L234.6 727.5 L235.7 728.4 L236.8 729.5 L237.9 730.5 L239.0 731.5 L240.1 732.6 L241.1 733.6 L242.2 734.7 L243.2 735.8 L244.3 736.8 L245.3 737.9 L246.4 739.0 L247.4 740.1 L248.4 741.2 L249.4 742.3 L250.4 743.4 L251.4 744.5 L252.4 745.6 L253.4 746.7 L254.4 747.9 L255.4 749.0 L256.4 750.1 L257.4 751.3 L258.4 752.4 L259.3 753.5 L260.3 754.7 L261.3 755.8 L262.3 756.9 L263.2 758.1 L264.2 759.2 L265.2 760.3 L266.2 761.5 L267.2 762.6 L268.1 763.7 L269.1 764.9 L270.1 766.0 L271.1 767.1 L272.1 768.3 L273.1 769.4 L274.1 770.5 L275.0 771.7 L276.0 772.8 L277.0 773.9 L278.0 775.1 L279.0 776.2 L279.9 777.3 L280.9 778.5 L281.9 779.6 L282.8 780.8 L283.8 781.9 L284.7 783.1 L285.7 784.2 L286.7 785.4 L287.6 786.5 L288.6 787.7 L289.5 788.8 L290.5 790.0 L291.4 791.2 L292.4 792.3 L293.4 793.5 L294.3 794.6 L295.3 795.7 L296.3 796.9 L297.3 798.0 L298.2 799.1 L299.2 800.3 L300.2 801.4 L301.2 802.5 L302.2 803.7 L303.2 804.8 L304.2 805.9 L305.2 807.0 L306.2 808.1 L307.2 809.2 L308.2 810.3 L309.3 811.4 L310.3 812.4 L311.4 813.5 L312.5 814.5 L313.6 815.6 L314.7 816.6 L315.8 817.6 L316.9 818.6 L318.0 819.6 L319.1 820.6 L320.3 821.5 L321.4 822.5 L322.6 823.4 L323.8 824.4 L325.0 825.3 L326.1 826.2 L327.3 827.1 L328.5 828.0 L329.8 828.9 L331.0 829.8 L332.2 830.6 L333.4 831.5 L334.7 832.3 L335.9 833.1 L337.2 833.9 L338.5 834.7 L339.8 835.5 L341.1 836.2 L342.4 837.0 L343.7 837.7 L345.0 838.4 L346.3 839.1 L347.7 839.7 L349.0 840.4 L350.4 841.0 L351.7 841.6 L353.1 842.2 L354.5 842.8 L355.9 843.3 L357.3 843.9 L358.7 844.4 L360.1 844.9 L361.5 845.3 L363.0 845.8 L364.4 846.2 L365.8 846.7 L367.3 847.1 L368.7 847.5 L370.2 847.9 L371.6 848.3 L373.0 848.7 L374.5 849.0 L376.0 849.4 L377.4 849.7 L378.9 850.1 L380.3 850.4 L381.8 850.7 L383.3 851.0 L384.7 851.3 L386.2 851.6 L387.7 851.9 L389.2 852.1 L390.6 852.4 L392.1 852.6 L393.6 852.9 L395.1 853.1 L396.6 853.4 L398.0 853.6 L399.5 853.8 L401.0 854.0 L402.5 854.2 L404.0 854.4 L405.5 854.6 L406.9 854.8 L408.4 855.0 L409.9 855.2 L411.4 855.3 L412.9 855.5 L414.4 855.6 L415.9 855.8 L417.4 855.9 L418.9 856.0 L420.4 856.1 L421.9 856.2 L423.4 856.3 L424.8 856.4 L426.3 856.5 L427.8 856.6 L429.3 856.7 L430.8 856.7 L432.3 856.8 L433.8 856.9 L435.3 856.9 L436.8 857.0 L438.3 857.1 L439.8 857.1 L441.3 857.2 L442.8 857.2 L444.3 857.3 L445.8 857.3 L447.3 857.4 L448.8 857.4 L450.3 857.4 L451.8 857.5 L453.3 857.5 L454.8 857.5 L456.3 857.5 L457.8 857.5 L459.3 857.6 L460.8 857.6 L462.3 857.6 L463.8 857.6 L465.3 857.6 L466.8 857.6 L468.3 857.6 L469.8 857.6 L471.3 857.7 L472.8 857.7 L474.3 857.7 L475.8 857.7 L477.3 857.7 L478.8 857.7 L480.3 857.7 L481.8 857.7 L483.3 857.7 L484.8 857.7 L486.3 857.7 L487.8 857.8 L489.3 857.8 L490.8 857.8 L492.3 857.8 L493.8 857.8 L495.3 857.8 L496.8 857.8 L498.3 857.8 L499.8 857.8 L501.3 857.8 L502.8 857.8 L504.3 857.8 L505.8 857.8 L507.8 857.8 L509.8 857.8 L511.8 857.8 L513.8 857.8 L515.8 857.8 L517.8 857.8 L519.8 857.8 L521.8 857.8 L523.8 857.8 L525.8 857.8 L527.8 857.8 L529.8 857.8 L531.7 857.8 L533.7 857.8 L535.7 857.8 L537.7 857.8 L539.7 857.8 L541.7 857.8 L543.7 857.8 L545.7 857.8 L547.7 857.8 L549.7 857.8 L551.7 857.8 L553.7 857.8 L555.7 857.8 L557.7 857.8 L559.7 857.8 L561.7 857.8 L563.7 857.8 L565.7 857.8 L567.7 857.8 L569.7 857.8 L571.7 857.8 L573.7 857.8 L575.7 857.8 L577.7 857.8 L579.7 857.8 L581.7 857.8 L583.7 857.8 L585.7 857.8 L587.7 857.8 L589.7 857.8 L591.7 857.8 L593.7 857.8 L595.7 857.8 L597.7 857.8 L599.7 857.8 L600.7 857.8"/>
<path class="cv" stroke="#1ee61e" d="M147.5 699.0 L147.7 697.6 L147.9 696.1 L148.1 694.6 L148.3 693.1 L148.5 691.6 L148.7 690.1 L148.9 688.7 L149.1 687.2 L149.4 685.7 L149.7 684.2 L150.0 682.8 L150.3 681.3 L150.6 679.8 L150.9 678.4 L151.3 676.9 L151.7 675.5 L152.2 674.1 L152.6 672.6 L153.1 671.2 L153.7 669.9 L154.3 668.5 L155.0 667.2 L155.7 665.9 L156.4 664.6 L157.3 663.4 L158.1 662.2 L159.1 661.2 L160.2 660.2 L161.3 659.2 L162.5 658.4 L163.7 657.6 L165.0 657.0 L166.4 656.4 L167.7 655.9 L169.1 655.5 L170.6 655.2 L172.0 655.0 L173.4 654.9 L175.4 655.0 L176.8 655.1 L178.3 655.4 L179.7 655.7 L181.1 656.1 L182.5 656.6 L183.9 657.1 L185.3 657.7 L186.6 658.3 L188.0 659.0 L189.3 659.7 L190.6 660.5 L191.8 661.3 L193.0 662.1 L194.3 663.0 L195.5 663.9 L196.7 664.8 L197.8 665.7 L199.0 666.7 L200.1 667.6 L201.3 668.6 L202.4 669.6 L203.5 670.6 L204.6 671.6 L205.7 672.7 L206.7 673.7 L207.8 674.8 L208.9 675.8 L209.9 676.9 L211.0 677.9 L212.1 679.0 L213.1 680.1 L214.1 681.2 L215.2 682.2 L216.2 683.3 L217.2 684.4 L218.2 685.5 L219.2 686.7 L220.2 687.8 L221.2 688.9 L222.2 690.0 L223.2 691.2 L224.1 692.3 L225.1 693.4 L226.1 694.6 L227.0 695.7 L228.0 696.9 L228.9 698.1 L229.9 699.2 L230.8 700.4 L231.7 701.6 L232.7 702.8 L233.6 704.0 L234.5 705.1 L235.4 706.3 L236.3 707.5 L237.2 708.7 L238.1 709.9 L239.0 711.2 L239.8 712.4 L240.7 713.6 L241.6 714.8 L242.4 716.1 L243.2 717.3 L244.1 718.6 L244.9 719.8 L245.7 721.0 L246.6 722.3 L247.4 723.5 L248.2 724.8 L249.1 726.0 L250.0 727.2 L250.8 728.5 L251.7 729.7 L252.6 730.9 L253.5 732.1 L254.4 733.3 L255.3 734.5 L256.2 735.7 L257.1 736.8 L258.1 738.0 L259.0 739.2 L259.9 740.4 L260.8 741.6 L261.8 742.7 L262.7 743.9 L263.6 745.1 L264.5 746.3 L265.4 747.5 L266.4 748.7 L267.3 749.9 L268.2 751.0 L269.1 752.2 L270.0 753.4 L270.9 754.6 L271.8 755.8 L272.7 757.0 L273.6 758.2 L274.6 759.4 L275.5 760.6 L276.4 761.7 L277.3 762.9 L278.2 764.1 L279.2 765.3 L280.1 766.5 L281.0 767.6 L282.0 768.8 L282.9 770.0 L283.8 771.2 L284.8 772.3 L285.7 773.5 L286.7 774.6 L287.6 775.8 L288.6 777.0 L289.5 778.1 L290.5 779.3 L291.5 780.4 L292.4 781.5 L293.4 782.7 L294.4 783.8 L295.4 784.9 L296.4 786.0 L297.4 787.1 L298.4 788.2 L299.5 789.3 L300.5 790.4 L301.5 791.5 L302.6 792.6 L303.6 793.6 L304.7 794.7 L305.8 795.7 L306.8 796.8 L307.9 797.8 L309.0 798.8 L310.1 799.9 L311.2 800.9 L312.4 801.9 L313.5 802.9 L314.6 803.8 L315.8 804.8 L316.9 805.8 L318.1 806.7 L319.2 807.7 L320.4 808.6 L321.6 809.5 L322.8 810.4 L323.9 811.4 L325.1 812.3 L326.3 813.2 L327.5 814.1 L328.7 815.0 L329.9 815.9 L331.1 816.8 L332.3 817.7 L333.6 818.5 L334.8 819.4 L336.0 820.3 L337.2 821.1 L338.5 821.9 L339.7 822.8 L341.0 823.6 L342.3 824.4 L343.6 825.1 L344.9 825.9 L346.2 826.6 L347.5 827.3 L348.8 828.0 L350.1 828.7 L351.5 829.4 L352.8 830.0 L354.2 830.7 L355.5 831.3 L356.9 831.9 L358.3 832.5 L359.6 833.1 L361.0 833.7 L362.4 834.3 L363.8 834.8 L365.2 835.4 L366.6 835.9 L368.0 836.5 L369.4 837.0 L370.8 837.5 L372.2 838.0 L373.6 838.5 L375.0 839.0 L376.5 839.5 L377.9 840.0 L379.3 840.5 L380.7 840.9 L382.1 841.4 L383.6 841.8 L385.0 842.3 L386.5 842.7 L387.9 843.1 L389.3 843.5 L390.8 843.9 L392.2 844.3 L393.7 844.7 L395.1 845.1 L396.6 845.5 L398.0 845.8 L399.5 846.2 L400.9 846.5 L402.4 846.9 L403.9 847.2 L405.3 847.6 L406.8 847.9 L408.2 848.2 L409.7 848.5 L411.2 848.8 L412.6 849.1 L414.1 849.4 L415.6 849.7 L417.1 850.0 L418.5 850.2 L420.0 850.5 L421.5 850.8 L423.0 851.0 L424.4 851.2 L425.9 851.5 L427.4 851.7 L428.9 851.9 L430.4 852.1 L431.9 852.4 L433.3 852.6 L434.8 852.8 L436.3 853.0 L437.8 853.2 L439.3 853.4 L440.8 853.6 L442.3 853.8 L443.7 853.9 L445.2 854.1 L446.7 854.3 L448.2 854.4 L449.7 854.6 L451.2 854.7 L452.7 854.9 L454.2 855.0 L455.7 855.1 L457.2 855.2 L458.7 855.3 L460.2 855.4 L461.7 855.5 L463.2 855.6 L464.6 855.7 L466.1 855.8 L467.6 855.9 L469.1 856.0 L470.6 856.0 L472.1 856.1 L473.6 856.2 L475.1 856.2 L476.6 856.3 L478.1 856.4 L479.6 856.4 L481.1 856.5 L482.6 856.6 L484.1 856.6 L485.6 856.7 L487.1 856.7 L488.6 856.8 L490.1 856.8 L491.6 856.9 L493.1 856.9 L494.6 857.0 L496.1 857.0 L497.6 857.0 L499.1 857.1 L500.6 857.1 L502.1 857.2 L503.6 857.2 L505.1 857.2 L506.6 857.2 L508.1 857.3 L509.6 857.3 L511.1 857.3 L512.6 857.3 L514.1 857.4 L515.6 857.4 L517.1 857.4 L518.6 857.4 L520.1 857.5 L521.6 857.5 L523.1 857.5 L524.6 857.5 L526.1 857.5 L527.6 857.6 L529.1 857.6 L530.6 857.6 L532.1 857.6 L533.6 857.6 L535.1 857.7 L536.6 857.7 L538.1 857.7 L539.6 857.7 L541.1 857.7 L542.6 857.7 L544.1 857.7 L545.6 857.7 L547.1 857.8 L548.6 857.8 L550.1 857.8 L551.6 857.8 L553.1 857.8 L554.6 857.8 L556.1 857.8 L557.6 857.8 L559.1 857.8 L560.6 857.8 L562.1 857.8 L564.1 857.8 L566.1 857.8 L568.1 857.8 L570.1 857.8 L572.1 857.8 L574.1 857.8 L576.1 857.8 L578.0 857.8 L580.0 857.8 L582.0 857.8 L584.0 857.8 L586.0 857.8 L588.0 857.8 L590.0 857.8 L592.0 857.8 L594.0 857.8 L596.0 857.8 L598.0 857.8 L600.0 857.8 L602.0 857.8 L604.0 857.8 L606.0 857.8 L608.0 857.8 L610.0 857.8 L612.0 857.8 L614.0 857.8 L616.0 857.8 L618.0 857.8 L620.0 857.8 L622.0 857.8 L624.0 857.8 L626.0 857.8 L628.0 857.8 L630.0 857.8 L632.0 857.8 L634.0 857.8 L636.0 857.8 L638.0 857.8 L640.0 857.8 L642.0 857.8 L644.0 857.8 L646.0 857.8 L648.0 857.8 L650.0 857.8 L652.0 857.8 L654.0 857.8 L656.0 857.8 L658.0 857.8 L660.0 857.8 L662.0 857.8 L662.5 857.8"/>
<path class="cv" stroke="#8c2428" stroke-width="2.6" d="M192.0 592.9 L192.5 594.3 L193.1 595.7 L193.6 597.1 L194.1 598.5 L194.7 599.9 L195.2 601.3 L195.7 602.7 L196.3 604.1 L196.8 605.5 L197.4 606.9 L197.9 608.3 L198.5 609.7 L199.0 611.1 L199.6 612.4 L200.2 613.8 L200.8 615.2 L201.3 616.6 L201.9 618.0 L202.5 619.3 L203.1 620.7 L203.7 622.1 L204.3 623.5 L204.9 624.8 L205.6 626.2 L206.2 627.6 L206.8 628.9 L207.4 630.3 L208.1 631.7 L208.7 633.0 L209.3 634.4 L210.0 635.7 L210.6 637.1 L211.3 638.4 L211.9 639.8 L212.6 641.1 L213.2 642.5 L213.9 643.8 L214.6 645.1 L215.3 646.5 L215.9 647.8 L216.6 649.2 L217.3 650.5 L218.0 651.8 L218.7 653.2 L219.4 654.5 L220.0 655.8 L220.7 657.1 L221.4 658.5 L222.1 659.8 L222.9 661.1 L223.6 662.4 L224.3 663.8 L225.0 665.1 L225.7 666.4 L226.4 667.7 L227.2 669.0 L227.9 670.3 L228.7 671.6 L229.4 672.9 L230.2 674.2 L230.9 675.5 L231.7 676.8 L232.4 678.1 L233.2 679.4 L234.0 680.6 L234.8 681.9 L235.6 683.2 L236.4 684.4 L237.2 685.7 L238.0 687.0 L238.8 688.2 L239.7 689.5 L240.5 690.7 L241.3 692.0 L242.2 693.2 L243.0 694.4 L243.9 695.7 L244.7 696.9 L245.6 698.2 L246.4 699.4 L247.2 700.6 L248.1 701.9 L248.9 703.1 L249.8 704.4 L250.6 705.6 L251.4 706.9 L252.3 708.1 L253.1 709.4 L253.9 710.6 L254.7 711.8 L255.6 713.1 L256.4 714.3 L257.2 715.6 L258.1 716.8 L258.9 718.1 L259.7 719.3 L260.6 720.6 L261.4 721.8 L262.3 723.0 L263.2 724.2 L264.0 725.5 L264.9 726.7 L265.8 727.9 L266.7 729.1 L267.6 730.3 L268.5 731.5 L269.4 732.7 L270.3 733.9 L271.2 735.1 L272.2 736.2 L273.1 737.4 L274.0 738.6 L275.0 739.7 L275.9 740.9 L276.9 742.1 L277.8 743.2 L278.8 744.3 L279.8 745.5 L280.8 746.6 L281.8 747.7 L282.8 748.8 L283.9 749.9 L284.9 750.9 L286.0 752.0 L287.0 753.1 L288.1 754.1 L289.2 755.2 L290.2 756.2 L291.3 757.3 L292.4 758.3 L293.5 759.4 L294.5 760.4 L295.6 761.4 L296.7 762.5 L297.8 763.5 L298.9 764.6 L299.9 765.6 L301.0 766.6 L302.1 767.7 L303.2 768.7 L304.3 769.7 L305.4 770.8 L306.5 771.8 L307.6 772.8 L308.7 773.8 L309.9 774.7 L311.0 775.7 L312.2 776.6 L313.3 777.6 L314.5 778.5 L315.7 779.4 L316.9 780.3 L318.1 781.2 L319.4 782.0 L320.6 782.9 L321.8 783.7 L323.1 784.6 L324.3 785.4 L325.6 786.2 L326.8 787.0 L328.1 787.8 L329.4 788.6 L330.7 789.4 L331.9 790.2 L333.2 790.9 L334.5 791.7 L335.8 792.4 L337.1 793.2 L338.4 793.9 L339.7 794.7 L341.0 795.4 L342.3 796.1 L343.7 796.8 L345.0 797.6 L346.3 798.3 L347.6 799.0 L348.9 799.7 L350.3 800.4 L351.6 801.1 L352.9 801.7 L354.3 802.4 L355.6 803.1 L357.0 803.8 L358.3 804.4 L359.6 805.1 L361.0 805.8 L362.3 806.4 L363.7 807.1 L365.0 807.8 L366.4 808.4 L367.7 809.1 L369.1 809.7 L370.4 810.4 L371.8 811.0 L373.1 811.6 L374.5 812.3 L375.9 812.9 L377.2 813.5 L378.6 814.1 L380.0 814.7 L381.3 815.3 L382.7 815.9 L384.1 816.4 L385.5 817.0 L386.9 817.5 L388.3 818.1 L389.7 818.6 L391.1 819.1 L392.5 819.6 L394.0 820.1 L395.4 820.6 L396.8 821.0 L398.2 821.5 L399.7 821.9 L401.1 822.4 L402.5 822.8 L404.0 823.3 L405.4 823.7 L406.8 824.1 L408.3 824.5 L409.7 824.9 L411.2 825.3 L412.6 825.7 L414.0 826.1 L415.5 826.5 L416.9 826.9 L418.4 827.3 L419.8 827.7 L421.3 828.1 L422.7 828.5 L424.2 828.9 L425.6 829.3 L427.1 829.7 L428.5 830.0 L430.0 830.4 L431.4 830.8 L432.9 831.2 L434.3 831.6 L435.8 831.9 L437.2 832.3 L438.7 832.7 L440.1 833.0 L441.6 833.4 L443.0 833.8 L444.5 834.1 L446.0 834.5 L447.4 834.8 L448.9 835.1 L450.3 835.5 L451.8 835.8 L453.3 836.1 L454.7 836.4 L456.2 836.7 L457.7 837.0 L459.1 837.3 L460.6 837.6 L462.1 837.9 L463.5 838.2 L465.0 838.4 L466.5 838.7 L468.0 839.0 L469.4 839.2 L470.9 839.5 L472.4 839.8 L473.9 840.0 L475.4 840.3 L476.8 840.5 L478.3 840.8 L479.8 841.0 L481.3 841.2 L482.8 841.5 L484.2 841.7 L485.7 841.9 L487.2 842.2 L488.7 842.4 L490.2 842.6 L491.6 842.8 L493.1 843.0 L494.6 843.2 L496.1 843.4 L497.6 843.7 L499.1 843.9 L500.6 844.1 L502.0 844.2 L503.5 844.4 L505.0 844.6 L506.5 844.8 L508.0 845.0 L509.5 845.2 L511.0 845.4 L512.5 845.5 L513.9 845.7 L515.4 845.9 L516.9 846.0 L518.4 846.2 L519.9 846.4 L521.4 846.5 L522.9 846.7 L524.4 846.9 L525.9 847.0 L527.4 847.2 L528.8 847.3 L530.3 847.5 L531.8 847.6 L533.3 847.8 L534.8 847.9 L536.3 848.1 L537.8 848.2 L539.3 848.4 L540.8 848.5 L542.3 848.6 L543.8 848.8 L545.3 848.9 L546.8 849.0 L548.2 849.2 L549.7 849.3 L551.2 849.4 L552.7 849.5 L554.2 849.7 L555.7 849.8 L557.2 849.9 L558.7 850.0 L560.2 850.1 L561.7 850.3 L563.2 850.4 L564.7 850.5 L566.2 850.6 L567.7 850.7 L569.2 850.8 L570.7 850.9 L572.2 851.0 L573.7 851.1 L575.2 851.2 L576.6 851.4 L578.1 851.5 L579.6 851.6 L581.1 851.7 L582.6 851.8 L584.1 851.9 L585.6 852.0 L587.1 852.0 L588.6 852.1 L590.1 852.2 L591.6 852.3 L593.1 852.4 L594.6 852.5 L596.1 852.6 L597.6 852.7 L599.1 852.8 L600.6 852.8 L602.1 852.9 L603.6 853.0 L605.1 853.1 L606.6 853.1 L608.1 853.2 L609.6 853.3 L611.1 853.4 L612.6 853.4 L614.1 853.5 L615.6 853.6 L617.1 853.6 L618.6 853.7 L620.1 853.8 L621.5 853.8 L623.0 853.9 L624.5 853.9 L626.0 854.0 L627.5 854.1 L629.0 854.1 L630.5 854.2 L632.0 854.2 L633.5 854.3 L635.0 854.4 L636.5 854.4 L638.0 854.5 L639.5 854.5 L641.0 854.6 L642.5 854.6 L644.0 854.7 L645.5 854.7 L647.0 854.8 L648.5 854.8 L650.0 854.9 L651.5 854.9 L653.0 854.9 L654.5 855.0 L656.0 855.0 L657.5 855.1 L659.0 855.1 L660.5 855.1 L662.0 855.2 L662.5 855.2"/>
<path class="cv" stroke="#f8f824" d="M147.5 857.8 L148.5 856.9 L149.5 855.9 L150.4 854.8 L151.2 853.7 L151.9 852.5 L152.6 851.2 L153.1 849.9 L153.6 848.5 L154.0 847.1 L154.4 845.7 L154.8 844.2 L155.1 842.8 L155.4 841.3 L155.7 839.8 L156.0 838.4 L156.3 836.9 L156.5 835.4 L156.8 833.9 L157.0 832.5 L157.2 831.0 L157.4 829.5 L157.7 828.0 L157.9 826.5 L158.1 825.0 L158.3 823.6 L158.5 822.1 L158.7 820.6 L158.9 819.1 L159.1 817.6 L159.3 816.1 L159.6 814.7 L159.8 813.2 L160.0 811.7 L160.2 810.2 L160.4 808.7 L160.6 807.2 L160.9 805.8 L161.1 804.3 L161.3 802.8 L161.6 801.3 L161.8 799.8 L162.0 798.3 L162.2 796.9 L162.5 795.4 L162.7 793.9 L162.9 792.4 L163.2 790.9 L163.4 789.5 L163.6 788.0 L163.9 786.5 L164.1 785.0 L164.3 783.5 L164.6 782.1 L164.8 780.6 L165.1 779.1 L165.3 777.6 L165.6 776.1 L165.8 774.7 L166.1 773.2 L166.3 771.7 L166.6 770.2 L166.8 768.8 L167.1 767.3 L167.4 765.8 L167.7 764.3 L167.9 762.9 L168.2 761.4 L168.5 759.9 L168.8 758.5 L169.1 757.0 L169.4 755.5 L169.7 754.0 L170.0 752.6 L170.3 751.1 L170.7 749.7 L171.0 748.2 L171.3 746.7 L171.7 745.3 L172.1 743.8 L172.4 742.4 L172.8 740.9 L173.2 739.5 L173.6 738.0 L174.0 736.6 L174.4 735.1 L174.8 733.7 L175.2 732.3 L175.7 730.8 L176.1 729.4 L176.6 728.0 L177.0 726.5 L177.5 725.1 L178.0 723.7 L178.4 722.3 L178.9 720.9 L179.4 719.4 L179.9 718.0 L180.5 716.6 L181.0 715.2 L181.5 713.8 L182.1 712.4 L182.7 711.1 L183.2 709.7 L183.8 708.3 L184.4 706.9 L185.0 705.5 L185.5 704.1 L186.1 702.8 L186.7 701.4 L187.3 700.0 L187.9 698.6 L188.6 697.3 L189.2 696.0 L189.9 694.7 L190.7 693.4 L191.5 692.1 L192.4 690.9 L193.3 689.8 L194.3 688.7 L195.3 687.6 L196.4 686.6 L197.5 685.6 L198.6 684.7 L199.9 683.9 L201.1 683.1 L202.4 682.4 L203.7 681.7 L205.1 681.1 L206.5 680.5 L207.9 680.1 L209.3 679.6 L210.7 679.3 L212.2 679.0 L213.6 678.7 L215.1 678.5 L216.6 678.4 L218.1 678.3 L219.6 678.2 L221.1 678.2 L222.6 678.2 L224.0 678.3 L225.5 678.4 L227.0 678.6 L228.5 678.9 L229.9 679.2 L231.4 679.5 L232.8 679.9 L234.2 680.3 L235.7 680.8 L237.1 681.2 L238.5 681.7 L239.9 682.2 L241.3 682.7 L242.8 683.2 L244.2 683.7 L245.6 684.3 L246.9 684.8 L248.3 685.4 L249.7 686.0 L251.1 686.5 L252.5 687.1 L253.8 687.7 L255.2 688.3 L256.6 689.0 L257.9 689.6 L259.3 690.2 L260.7 690.8 L262.0 691.4 L263.4 692.1 L264.8 692.7 L266.1 693.3 L267.5 694.0 L268.8 694.6 L270.2 695.3 L271.5 696.0 L272.9 696.6 L274.2 697.3 L275.5 698.0 L276.9 698.6 L278.2 699.3 L279.5 700.0 L280.9 700.7 L282.2 701.4 L283.5 702.1 L284.9 702.8 L286.2 703.5 L287.5 704.1 L288.9 704.8 L290.2 705.5 L291.5 706.2 L292.9 706.8 L294.2 707.5 L295.6 708.2 L296.9 708.8 L298.3 709.4 L299.6 710.1 L301.0 710.7 L302.3 711.4 L303.7 712.0 L305.1 712.6 L306.4 713.2 L307.8 713.9 L309.2 714.5 L310.5 715.1 L311.9 715.7 L313.3 716.3 L314.6 716.9 L316.0 717.6 L317.4 718.2 L318.7 718.8 L320.1 719.4 L321.5 720.0 L322.9 720.6 L324.2 721.2 L325.6 721.7 L327.0 722.3 L328.4 722.9 L329.8 723.5 L331.1 724.1 L332.5 724.7 L333.9 725.3 L335.3 725.8 L336.7 726.4 L338.0 727.0 L339.4 727.6 L340.8 728.1 L342.2 728.7 L343.6 729.3 L345.0 729.8 L346.4 730.4 L347.8 730.9 L349.2 731.5 L350.6 732.0 L352.0 732.6 L353.4 733.1 L354.8 733.6 L356.2 734.2 L357.6 734.7 L359.0 735.2 L360.4 735.7 L361.8 736.2 L363.2 736.7 L364.6 737.2 L366.1 737.7 L367.5 738.2 L368.9 738.6 L370.3 739.1 L371.7 739.6 L373.2 740.1 L374.6 740.5 L376.0 741.0 L377.4 741.4 L378.9 741.9 L380.3 742.3 L381.7 742.8 L383.2 743.2 L384.6 743.7 L386.0 744.1 L387.5 744.5 L388.9 745.0 L390.3 745.4 L391.8 745.8 L393.2 746.2 L394.7 746.7 L396.1 747.1 L397.5 747.5 L399.0 747.9 L400.4 748.3 L401.9 748.7 L403.3 749.1 L404.8 749.5 L406.2 749.9 L407.6 750.3 L409.1 750.7 L410.5 751.1 L412.0 751.5 L413.4 751.8 L414.9 752.2 L416.3 752.6 L417.8 753.0 L419.2 753.3 L420.7 753.7 L422.2 754.1 L423.6 754.4 L425.1 754.8 L426.5 755.1 L428.0 755.5 L429.4 755.8 L430.9 756.2 L432.4 756.5 L433.8 756.9 L435.3 757.2 L436.7 757.5 L438.2 757.9 L439.7 758.2 L441.1 758.5 L442.6 758.9 L444.0 759.2 L445.5 759.5 L447.0 759.9 L448.4 760.2 L449.9 760.5 L451.3 760.9 L452.8 761.2 L454.3 761.5 L455.7 761.9 L457.2 762.2 L458.7 762.5 L460.1 762.9 L461.6 763.2 L463.0 763.6 L464.5 763.9 L466.0 764.3 L467.4 764.6 L468.9 764.9 L470.3 765.3 L471.8 765.6 L473.2 766.0 L474.7 766.3 L476.2 766.7 L477.6 767.1 L479.1 767.4 L480.5 767.8 L482.0 768.1 L483.4 768.4 L484.9 768.8 L486.4 769.1 L487.8 769.5 L489.3 769.8 L490.7 770.2 L492.2 770.5 L493.7 770.9 L495.1 771.2 L496.6 771.5 L498.0 771.8 L499.5 772.2 L501.0 772.5 L502.4 772.8 L503.9 773.1 L505.4 773.4 L506.8 773.8 L508.3 774.1 L509.8 774.4 L511.2 774.7 L512.7 775.0 L514.2 775.3 L515.6 775.6 L517.1 775.9 L518.6 776.2 L520.1 776.4 L521.5 776.7 L523.0 777.0 L524.5 777.3 L525.9 777.6 L527.4 777.9 L528.9 778.2 L530.4 778.4 L531.8 778.7 L533.3 779.0 L534.8 779.3 L536.3 779.5 L537.7 779.8 L539.2 780.1 L540.7 780.3 L542.2 780.6 L543.6 780.9 L545.1 781.1 L546.6 781.4 L548.1 781.6 L549.5 781.9 L551.0 782.1 L552.5 782.4 L554.0 782.6 L555.5 782.9 L556.9 783.1 L558.4 783.4 L559.9 783.6 L561.4 783.8 L562.8 784.1 L564.3 784.3 L565.8 784.5 L567.3 784.8 L568.8 785.0 L570.3 785.2 L571.7 785.4 L573.2 785.7 L574.7 785.9 L576.2 786.1 L577.7 786.3 L579.2 786.6 L580.6 786.8 L582.1 787.0 L583.6 787.2 L585.1 787.4 L586.6 787.6 L588.1 787.8 L589.5 788.0 L591.0 788.2 L592.5 788.4 L594.0 788.6 L595.5 788.8 L597.0 789.0 L598.5 789.2 L599.9 789.4 L601.4 789.6 L602.9 789.8 L604.4 790.0 L605.9 790.2 L607.4 790.4 L608.9 790.6 L610.3 790.8 L611.8 790.9 L613.3 791.1 L614.8 791.3 L616.3 791.5 L617.8 791.7 L619.3 791.9 L620.8 792.0 L622.3 792.2 L623.7 792.4 L625.2 792.6 L626.7 792.7 L628.2 792.9 L629.7 793.1 L631.2 793.2 L632.7 793.4 L634.2 793.6 L635.7 793.7 L637.1 793.9 L638.6 794.1 L640.1 794.2 L641.6 794.4 L643.1 794.5 L644.6 794.7 L646.1 794.8 L647.6 795.0 L649.1 795.2 L650.6 795.3 L652.1 795.5 L653.5 795.6 L655.0 795.7 L656.5 795.9 L658.0 796.0 L659.5 796.2 L661.0 796.3 L662.5 796.5"/>
<path class="ax" stroke="#303030" stroke-width="1.4" stroke-opacity="0.62" d="M140.50 857.80 H663.10"/>
<path class="ax" stroke="#9a9a9a" stroke-width="1.3" d="M147.50 596.20 V1119.40"/>
<path class="ax tick" d="M147.50 1118.80 h-7.0 M147.50 1053.55 h-4.0 M147.50 988.30 h-7.0 M147.50 923.05 h-4.0 M147.50 792.55 h-4.0 M147.50 727.30 h-7.0 M147.50 662.05 h-4.0 M147.50 596.80 h-7.0 M199.00 857.80 v4.0 M250.50 857.80 v7.5 M302.00 857.80 v4.0 M353.50 857.80 v7.5 M405.00 857.80 v4.0 M456.50 857.80 v7.5 M508.00 857.80 v4.0 M559.50 857.80 v7.5 M611.00 857.80 v4.0 M662.50 857.80 v7.5"/>
<text class="tk" text-anchor="end" x="135.6" y="1128.9">2</text>
<text class="mn" x="105.2" y="1127.3">−</text>
<text class="tk" text-anchor="end" x="135.6" y="998.6">1</text>
<text class="mn" x="105.2" y="997.0">−</text>
<text class="tk" text-anchor="end" x="135.6" y="868.3">0</text>
<text class="tk" text-anchor="end" x="135.6" y="738.0">1</text>
<text class="tk" text-anchor="end" x="135.6" y="607.7">2</text>
<text class="tk" text-anchor="middle" x="250.0" y="895.8">1</text>
<text class="tk" text-anchor="middle" x="353.0" y="895.8">2</text>
<text class="tk" text-anchor="middle" x="456.0" y="895.8">3</text>
<text class="tk" text-anchor="middle" x="559.0" y="895.8">4</text>
<text class="tk" text-anchor="middle" x="662.0" y="895.8">5</text>
<text class="lt" x="44" y="644.3">D)</text>
<text class="fl it" transform="translate(27.40 739.50) skewX(-10.4)">f</text>
<text class="fl pr" transform="translate(46.00 739.50) scale(0.765 1)">(</text>
<text class="fl gk" transform="translate(58.50 738.90) scale(1.055 1)">η</text>
<text class="fl pr" transform="translate(80.10 739.50) scale(0.78 1)">)</text>
<text class="et" transform="translate(395.80 934.10) scale(1.07 1)">η</text>
</g>
<g class="panel" id="panel-E">
<path class="cv" stroke="#000000" d="M825.4 900.8 L826.9 900.7 L828.4 900.6 L829.9 900.5 L831.4 900.4 L832.9 900.3 L834.4 900.2 L835.9 900.1 L837.4 899.9 L838.8 899.8 L840.3 899.7 L841.8 899.6 L843.3 899.5 L844.8 899.4 L846.3 899.2 L847.8 899.1 L849.3 899.0 L850.8 898.8 L852.3 898.7 L853.8 898.5 L855.3 898.4 L856.7 898.2 L858.2 898.0 L859.7 897.9 L861.2 897.8 L862.7 897.6 L864.2 897.5 L865.7 897.4 L867.2 897.3 L868.7 897.2 L870.2 897.1 L871.7 897.1 L873.2 897.0 L874.7 897.0 L876.2 897.1 L877.7 897.1 L879.1 897.2 L880.6 897.2 L882.1 897.3 L883.6 897.5 L885.1 897.6 L886.6 897.8 L888.1 897.9 L889.6 898.1 L891.1 898.3 L892.5 898.5 L894.0 898.8 L895.5 899.0 L897.0 899.3 L898.4 899.6 L899.9 900.0 L901.3 900.3 L902.8 900.7 L904.2 901.1 L905.7 901.5 L907.1 902.0 L908.5 902.4 L909.9 902.9 L911.3 903.4 L912.8 903.9 L914.2 904.4 L915.6 904.9 L917.0 905.5 L918.3 906.0 L919.7 906.6 L921.1 907.2 L922.5 907.8 L923.8 908.5 L925.2 909.1 L926.5 909.8 L927.8 910.5 L929.2 911.2 L930.5 911.9 L931.8 912.6 L933.1 913.3 L934.4 914.0 L935.7 914.8 L937.0 915.5 L938.3 916.2 L939.6 917.0 L940.9 917.7 L942.2 918.4 L943.5 919.2 L944.9 919.9 L946.2 920.6 L947.5 921.4 L948.8 922.1 L950.1 922.8 L951.4 923.5 L952.7 924.2 L954.1 924.9 L955.4 925.7 L956.7 926.4 L958.0 927.1 L959.3 927.8 L960.7 928.5 L962.0 929.1 L963.3 929.8 L964.7 930.5 L966.0 931.1 L967.4 931.8 L968.7 932.4 L970.1 933.0 L971.5 933.6 L972.9 934.2 L974.2 934.7 L975.6 935.3 L977.0 935.8 L978.5 936.3 L979.9 936.8 L981.3 937.3 L982.7 937.8 L984.1 938.2 L985.6 938.7 L987.0 939.1 L988.4 939.5 L989.9 939.9 L991.3 940.3 L992.8 940.7 L994.2 941.1 L995.7 941.5 L997.1 941.8 L998.6 942.1 L1000.0 942.4 L1001.5 942.7 L1003.0 943.0 L1004.5 943.2 L1005.9 943.4 L1007.4 943.7 L1008.9 943.9 L1010.4 944.0 L1011.9 944.2 L1013.4 944.4 L1014.9 944.5 L1016.3 944.7 L1017.8 944.8 L1019.3 944.9 L1020.8 945.0 L1022.3 945.1 L1023.8 945.2 L1025.3 945.3 L1026.8 945.3 L1028.3 945.4 L1029.8 945.5 L1030.8 945.5"/>
<path class="cv" stroke="#e01216" d="M825.4 898.5 L826.8 898.1 L828.3 897.6 L829.7 897.2 L831.2 896.8 L832.6 896.4 L834.1 896.1 L835.5 895.7 L837.0 895.4 L838.4 895.0 L839.9 894.7 L841.4 894.4 L842.8 894.1 L844.3 893.9 L845.8 893.6 L847.3 893.4 L848.7 893.2 L850.2 893.0 L851.7 892.8 L853.2 892.6 L854.7 892.4 L856.2 892.2 L857.6 892.1 L859.1 891.9 L860.6 891.8 L862.1 891.7 L863.6 891.7 L865.1 891.6 L866.6 891.6 L868.1 891.6 L869.6 891.6 L871.1 891.6 L872.6 891.7 L874.1 891.8 L875.6 891.8 L877.1 891.9 L878.6 892.0 L880.1 892.1 L881.6 892.3 L883.0 892.4 L884.5 892.6 L886.0 892.8 L887.5 893.0 L889.0 893.2 L890.4 893.5 L891.9 893.8 L893.4 894.1 L894.8 894.5 L896.3 894.9 L897.7 895.3 L899.1 895.7 L900.6 896.1 L902.0 896.6 L903.4 897.1 L904.8 897.6 L906.2 898.1 L907.6 898.6 L909.0 899.2 L910.4 899.7 L911.8 900.3 L913.1 900.9 L914.5 901.5 L915.9 902.1 L917.2 902.8 L918.6 903.4 L920.0 904.0 L921.3 904.7 L922.7 905.3 L924.0 906.0 L925.3 906.6 L926.7 907.3 L928.0 908.0 L929.3 908.7 L930.6 909.4 L932.0 910.1 L933.3 910.9 L934.6 911.6 L935.9 912.4 L937.2 913.1 L938.4 913.9 L939.7 914.7 L941.0 915.4 L942.3 916.2 L943.6 917.0 L944.8 917.8 L946.1 918.5 L947.4 919.3 L948.7 920.1 L950.0 920.8 L951.3 921.6 L952.6 922.3 L953.9 923.0 L955.2 923.8 L956.5 924.5 L957.9 925.2 L959.2 925.9 L960.5 926.6 L961.8 927.3 L963.2 928.0 L964.5 928.6 L965.8 929.3 L967.2 930.0 L968.5 930.6 L969.9 931.2 L971.3 931.9 L972.6 932.5 L974.0 933.1 L975.4 933.6 L976.8 934.2 L978.2 934.7 L979.6 935.3 L981.0 935.8 L982.4 936.3 L983.8 936.7 L985.2 937.2 L986.7 937.6 L988.1 938.0 L989.5 938.5 L991.0 938.9 L992.4 939.2 L993.9 939.6 L995.3 940.0 L996.8 940.3 L998.2 940.7 L999.7 941.0 L1001.2 941.3 L1002.6 941.6 L1004.1 941.9 L1005.6 942.2 L1007.1 942.4 L1008.5 942.7 L1010.0 942.9 L1011.5 943.1 L1013.0 943.3 L1014.5 943.5 L1016.0 943.7 L1017.4 943.8 L1018.9 944.0 L1020.4 944.1 L1021.9 944.2 L1023.4 944.3 L1024.9 944.4 L1026.4 944.5 L1027.9 944.6 L1029.4 944.7 L1030.9 944.8 L1032.4 944.8 L1033.9 944.9 L1035.4 944.9 L1036.9 945.0 L1038.4 945.1 L1039.9 945.1 L1041.4 945.1 L1042.9 945.2 L1044.4 945.2 L1045.8 945.3 L1047.3 945.3 L1048.8 945.3 L1050.3 945.4 L1051.8 945.4 L1053.3 945.4 L1054.8 945.4 L1056.3 945.5 L1057.8 945.5 L1059.3 945.5 L1060.8 945.5 L1062.3 945.5 L1063.8 945.5 L1065.3 945.5 L1067.3 945.5 L1069.3 945.5 L1071.3 945.5 L1073.3 945.5 L1075.3 945.5 L1077.3 945.5 L1079.3 945.5 L1081.3 945.5 L1083.3 945.5 L1085.3 945.5 L1087.3 945.5 L1089.3 945.5 L1091.3 945.5 L1093.3 945.5 L1095.3 945.5 L1097.3 945.5 L1099.3 945.5 L1101.3 945.5 L1103.3 945.5 L1105.3 945.5 L1107.3 945.5 L1109.3 945.5 L1111.2 945.5 L1113.2 945.5 L1115.2 945.5 L1117.2 945.5 L1119.2 945.5 L1121.2 945.5 L1123.2 945.5"/>
<path class="cv" stroke="#0808e0" d="M825.4 892.5 L826.7 891.7 L828.0 891.0 L829.3 890.2 L830.6 889.5 L831.9 888.8 L833.3 888.2 L834.6 887.5 L836.0 886.9 L837.4 886.3 L838.7 885.7 L840.1 885.1 L841.5 884.6 L843.0 884.1 L844.4 883.7 L845.8 883.2 L847.2 882.8 L848.7 882.5 L850.2 882.1 L851.6 881.8 L853.1 881.6 L854.6 881.4 L856.1 881.2 L857.5 881.0 L859.0 880.9 L860.5 880.8 L862.0 880.8 L863.5 880.8 L865.0 880.8 L866.5 880.8 L868.0 880.9 L869.5 881.0 L871.0 881.1 L872.5 881.3 L874.0 881.4 L875.4 881.7 L876.9 881.9 L878.4 882.2 L879.8 882.5 L881.3 882.9 L882.7 883.3 L884.2 883.7 L885.6 884.1 L887.0 884.6 L888.4 885.1 L889.8 885.6 L891.2 886.1 L892.6 886.7 L894.0 887.3 L895.4 887.8 L896.8 888.5 L898.1 889.1 L899.5 889.7 L900.8 890.4 L902.2 891.1 L903.5 891.8 L904.8 892.5 L906.1 893.2 L907.5 893.9 L908.8 894.6 L910.1 895.3 L911.4 896.0 L912.8 896.7 L914.1 897.4 L915.4 898.1 L916.7 898.9 L918.0 899.6 L919.3 900.3 L920.6 901.1 L921.9 901.8 L923.2 902.5 L924.5 903.3 L925.8 904.0 L927.1 904.8 L928.4 905.6 L929.7 906.3 L931.0 907.1 L932.3 907.9 L933.6 908.6 L934.8 909.4 L936.1 910.2 L937.4 911.0 L938.7 911.8 L940.0 912.5 L941.3 913.3 L942.5 914.1 L943.8 914.9 L945.1 915.7 L946.4 916.4 L947.7 917.2 L948.9 918.0 L950.2 918.8 L951.5 919.5 L952.8 920.3 L954.1 921.0 L955.4 921.7 L956.7 922.5 L958.1 923.2 L959.4 923.9 L960.7 924.6 L962.0 925.3 L963.4 926.0 L964.7 926.6 L966.1 927.3 L967.4 927.9 L968.8 928.5 L970.2 929.1 L971.5 929.7 L972.9 930.3 L974.3 930.8 L975.7 931.4 L977.1 931.9 L978.5 932.4 L980.0 932.9 L981.4 933.4 L982.8 933.9 L984.2 934.3 L985.7 934.8 L987.1 935.3 L988.5 935.7 L989.9 936.2 L991.4 936.7 L992.8 937.1 L994.2 937.5 L995.7 938.0 L997.1 938.4 L998.5 938.8 L1000.0 939.1 L1001.5 939.5 L1002.9 939.8 L1004.4 940.1 L1005.9 940.4 L1007.3 940.7 L1008.8 940.9 L1010.3 941.1 L1011.8 941.4 L1013.3 941.6 L1014.7 941.8 L1016.2 942.0 L1017.7 942.1 L1019.2 942.3 L1020.7 942.5 L1022.2 942.7 L1023.7 942.8 L1025.2 943.0 L1026.7 943.1 L1028.2 943.3 L1029.6 943.4 L1031.1 943.5 L1032.6 943.6 L1034.1 943.8 L1035.6 943.9 L1037.1 944.0 L1038.6 944.1 L1040.1 944.2 L1041.6 944.2 L1043.1 944.3 L1044.6 944.4 L1046.1 944.5 L1047.6 944.6 L1049.1 944.7 L1050.6 944.7 L1052.1 944.8 L1053.6 944.9 L1055.1 944.9 L1056.6 945.0 L1058.1 945.1 L1059.6 945.1 L1061.1 945.2 L1062.6 945.2 L1064.1 945.3 L1065.6 945.3 L1067.1 945.4 L1068.6 945.4 L1070.1 945.5 L1071.6 945.5 L1073.1 945.6 L1074.6 945.6 L1076.1 945.7 L1077.6 945.7 L1079.1 945.8 L1080.6 945.8 L1082.1 945.8 L1083.6 945.9 L1085.1 945.9 L1086.6 945.9 L1088.1 946.0 L1089.6 946.0 L1091.1 946.0 L1092.6 946.0 L1094.1 946.0 L1095.6 946.1 L1097.1 946.1 L1098.6 946.1 L1100.1 946.1 L1101.6 946.1 L1103.1 946.1 L1104.6 946.1 L1106.1 946.1 L1107.6 946.1 L1109.1 946.1 L1110.6 946.1 L1112.1 946.2 L1113.6 946.2 L1115.1 946.2 L1116.6 946.2 L1118.1 946.2 L1119.6 946.2 L1121.1 946.2 L1122.6 946.2 L1124.1 946.2 L1125.6 946.2 L1127.1 946.2 L1128.6 946.2 L1130.1 946.2 L1131.6 946.2 L1133.1 946.2 L1134.6 946.2 L1136.1 946.2 L1137.6 946.2 L1139.1 946.2 L1140.6 946.2 L1142.1 946.2 L1143.6 946.2 L1145.1 946.2 L1146.6 946.2 L1148.1 946.2 L1149.6 946.1 L1151.1 946.1 L1152.6 946.1 L1154.1 946.1 L1155.6 946.1 L1157.1 946.1 L1158.6 946.1 L1160.1 946.1 L1161.6 946.1 L1163.1 946.1 L1164.6 946.1 L1166.1 946.1 L1167.6 946.1 L1169.1 946.1 L1170.6 946.1 L1172.1 946.1 L1173.6 946.0 L1175.1 946.0 L1176.6 946.0 L1178.1 946.0 L1179.6 946.0 L1181.1 946.0 L1182.6 946.0 L1184.1 946.0 L1185.6 946.0 L1187.1 946.0 L1188.6 946.0 L1190.1 946.0 L1191.6 946.0 L1193.1 946.0"/>
<path class="cv" stroke="#1ee61e" d="M825.4 876.3 L825.8 874.9 L826.3 873.4 L826.7 872.0 L827.2 870.6 L827.8 869.2 L828.4 867.9 L829.0 866.5 L829.7 865.2 L830.5 864.0 L831.4 862.9 L832.3 861.8 L833.4 860.8 L834.5 859.9 L835.7 859.0 L836.9 858.3 L838.2 857.8 L839.6 857.3 L841.0 856.9 L842.4 856.6 L843.9 856.4 L845.4 856.3 L846.8 856.2 L848.8 856.2 L850.3 856.3 L851.8 856.5 L853.2 856.7 L854.7 857.0 L856.1 857.3 L857.5 857.7 L859.0 858.2 L860.4 858.7 L861.8 859.2 L863.2 859.8 L864.5 860.4 L865.9 861.0 L867.3 861.6 L868.6 862.3 L870.0 862.9 L871.3 863.6 L872.6 864.3 L873.9 865.0 L875.3 865.7 L876.6 866.4 L877.9 867.2 L879.2 867.9 L880.5 868.6 L881.8 869.3 L883.1 870.1 L884.4 870.8 L885.7 871.6 L887.0 872.4 L888.3 873.1 L889.6 873.9 L890.8 874.7 L892.1 875.5 L893.3 876.3 L894.6 877.2 L895.8 878.0 L897.1 878.9 L898.3 879.7 L899.5 880.6 L900.7 881.5 L901.9 882.4 L903.1 883.3 L904.3 884.2 L905.6 885.0 L906.8 885.9 L908.0 886.8 L909.2 887.7 L910.4 888.6 L911.6 889.4 L912.9 890.3 L914.1 891.2 L915.3 892.0 L916.5 892.9 L917.7 893.8 L919.0 894.6 L920.2 895.5 L921.4 896.4 L922.6 897.3 L923.8 898.1 L925.0 899.0 L926.3 899.9 L927.5 900.8 L928.7 901.7 L929.9 902.6 L931.1 903.5 L932.2 904.4 L933.4 905.3 L934.6 906.2 L935.9 907.1 L937.1 908.0 L938.3 908.9 L939.5 909.8 L940.7 910.6 L941.9 911.5 L943.2 912.3 L944.4 913.2 L945.7 914.0 L946.9 914.8 L948.2 915.6 L949.4 916.5 L950.7 917.3 L952.0 918.1 L953.2 918.9 L954.5 919.6 L955.8 920.4 L957.1 921.2 L958.4 921.9 L959.7 922.7 L961.0 923.4 L962.3 924.2 L963.6 924.9 L964.9 925.6 L966.2 926.3 L967.6 927.0 L968.9 927.7 L970.2 928.4 L971.6 929.0 L973.0 929.6 L974.3 930.2 L975.7 930.8 L977.1 931.4 L978.5 932.0 L979.9 932.5 L981.3 933.1 L982.7 933.6 L984.1 934.1 L985.5 934.6 L986.9 935.1 L988.3 935.6 L989.7 936.1 L991.2 936.6 L992.6 937.0 L994.0 937.5 L995.5 937.9 L996.9 938.3 L998.3 938.7 L999.8 939.1 L1001.2 939.5 L1002.7 939.8 L1004.2 940.2 L1005.6 940.5 L1007.1 940.8 L1008.5 941.2 L1010.0 941.5 L1011.5 941.7 L1013.0 942.0 L1014.4 942.3 L1015.9 942.6 L1017.4 942.8 L1018.9 943.1 L1020.3 943.3 L1021.8 943.6 L1023.3 943.8 L1024.8 944.0 L1026.3 944.3 L1027.7 944.5 L1029.2 944.7 L1030.7 944.9 L1032.2 945.1 L1033.7 945.3 L1035.2 945.5 L1036.7 945.7 L1038.2 945.9 L1039.6 946.1 L1041.1 946.2 L1042.6 946.4 L1044.1 946.6 L1045.6 946.8 L1047.1 946.9 L1048.6 947.1 L1050.1 947.3 L1051.6 947.4 L1053.0 947.6 L1054.5 947.7 L1056.0 947.8 L1057.5 947.9 L1059.0 948.1 L1060.5 948.2 L1062.0 948.3 L1063.5 948.3 L1065.0 948.4 L1066.5 948.5 L1068.0 948.6 L1069.5 948.6 L1071.0 948.7 L1072.5 948.7 L1074.0 948.8 L1075.5 948.8 L1077.0 948.9 L1078.5 948.9 L1080.0 949.0 L1081.5 949.0 L1083.0 949.1 L1084.5 949.1 L1086.0 949.1 L1087.5 949.1 L1089.0 949.2 L1090.5 949.2 L1092.0 949.2 L1093.5 949.2 L1095.0 949.2 L1096.5 949.2 L1098.0 949.2 L1099.5 949.2 L1101.0 949.2 L1102.5 949.2 L1104.0 949.2 L1105.5 949.2 L1107.0 949.1 L1108.5 949.1 L1110.0 949.1 L1111.5 949.1 L1113.0 949.0 L1114.5 949.0 L1116.0 949.0 L1117.5 948.9 L1119.0 948.9 L1120.5 948.9 L1122.0 948.9 L1123.5 948.8 L1125.0 948.8 L1126.5 948.8 L1128.0 948.7 L1129.5 948.7 L1131.0 948.7 L1132.5 948.6 L1134.0 948.6 L1135.5 948.6 L1137.0 948.5 L1138.5 948.5 L1140.0 948.5 L1141.5 948.5 L1143.0 948.4 L1144.5 948.4 L1146.0 948.4 L1147.5 948.4 L1149.0 948.3 L1150.5 948.3 L1152.0 948.3 L1153.5 948.2 L1155.0 948.2 L1156.5 948.2 L1158.0 948.2 L1159.5 948.1 L1161.0 948.1 L1162.5 948.1 L1164.0 948.1 L1165.5 948.0 L1167.0 948.0 L1168.5 948.0 L1170.0 948.0 L1171.5 947.9 L1173.0 947.9 L1174.5 947.9 L1176.0 947.9 L1177.5 947.8 L1179.0 947.8 L1180.5 947.8 L1182.0 947.8 L1183.5 947.7 L1185.0 947.7 L1186.4 947.7 L1187.9 947.7 L1189.4 947.6 L1190.9 947.6 L1192.4 947.6 L1193.9 947.6 L1195.4 947.5 L1196.9 947.5 L1198.4 947.5 L1199.9 947.5 L1201.4 947.4 L1202.9 947.4 L1204.4 947.4 L1205.9 947.4 L1207.4 947.3 L1208.9 947.3 L1210.4 947.3 L1211.9 947.3 L1213.4 947.2 L1214.9 947.2 L1216.4 947.2 L1217.9 947.2 L1219.4 947.2 L1220.9 947.1 L1222.4 947.1 L1223.9 947.1 L1225.4 947.1 L1226.9 947.1 L1228.4 947.0 L1229.9 947.0 L1231.4 947.0 L1232.9 947.0 L1234.4 947.0 L1235.9 947.0 L1237.4 946.9 L1238.9 946.9 L1240.4 946.9 L1241.9 946.9 L1243.4 946.9 L1244.9 946.9 L1246.4 946.9 L1247.9 946.8 L1249.4 946.8 L1250.9 946.8 L1252.4 946.8 L1253.9 946.8 L1255.4 946.8 L1256.9 946.8 L1258.4 946.8 L1259.9 946.7 L1261.4 946.7 L1262.9 946.7 L1264.4 946.7 L1265.9 946.7 L1267.4 946.7 L1268.9 946.7 L1270.4 946.7 L1271.9 946.6 L1273.4 946.6 L1274.9 946.6 L1276.4 946.6 L1277.9 946.6 L1279.4 946.6 L1280.9 946.6 L1282.4 946.6 L1283.9 946.5 L1285.4 946.5 L1286.9 946.5 L1288.4 946.5 L1289.9 946.5 L1291.4 946.5 L1292.9 946.5 L1294.4 946.5 L1295.9 946.5 L1297.4 946.5 L1298.9 946.5 L1300.4 946.4 L1301.9 946.4 L1303.4 946.4 L1304.9 946.4 L1306.4 946.4 L1307.9 946.4 L1309.4 946.4 L1310.9 946.4 L1312.4 946.4 L1313.9 946.4 L1315.4 946.4 L1316.9 946.4 L1318.4 946.4 L1319.9 946.4 L1321.4 946.3 L1322.9 946.3 L1324.4 946.3 L1325.9 946.3 L1327.4 946.3 L1328.9 946.3 L1330.4 946.3 L1331.9 946.3 L1333.4 946.3 L1334.9 946.3 L1336.4 946.3 L1337.9 946.3 L1338.9 946.3"/>
<path class="cv" stroke="#8c2428" stroke-width="2.6" d="M825.4 740.4 L825.8 741.8 L826.2 743.3 L826.7 744.7 L827.1 746.1 L827.5 747.6 L827.9 749.0 L828.4 750.4 L828.8 751.9 L829.3 753.3 L829.7 754.7 L830.2 756.2 L830.7 757.6 L831.2 759.0 L831.7 760.4 L832.2 761.8 L832.7 763.2 L833.2 764.6 L833.8 766.0 L834.3 767.4 L834.8 768.8 L835.4 770.2 L835.9 771.6 L836.5 773.0 L837.0 774.4 L837.6 775.8 L838.2 777.2 L838.7 778.6 L839.3 780.0 L839.8 781.4 L840.4 782.8 L841.0 784.1 L841.5 785.5 L842.1 786.9 L842.7 788.3 L843.3 789.7 L843.9 791.1 L844.5 792.4 L845.1 793.8 L845.7 795.2 L846.3 796.5 L846.9 797.9 L847.5 799.3 L848.2 800.6 L848.8 802.0 L849.5 803.3 L850.2 804.7 L850.8 806.0 L851.5 807.3 L852.2 808.7 L852.9 810.0 L853.6 811.3 L854.3 812.6 L855.0 814.0 L855.7 815.3 L856.5 816.6 L857.2 817.9 L857.9 819.2 L858.6 820.5 L859.4 821.9 L860.1 823.2 L860.8 824.5 L861.5 825.8 L862.3 827.1 L863.0 828.4 L863.7 829.7 L864.5 831.0 L865.2 832.3 L865.9 833.7 L866.6 835.0 L867.4 836.3 L868.1 837.6 L868.9 838.9 L869.6 840.2 L870.4 841.5 L871.1 842.7 L871.9 844.0 L872.7 845.3 L873.5 846.6 L874.3 847.9 L875.1 849.1 L875.9 850.4 L876.7 851.6 L877.5 852.9 L878.4 854.1 L879.2 855.4 L880.0 856.6 L880.9 857.9 L881.8 859.1 L882.6 860.3 L883.5 861.5 L884.4 862.7 L885.3 863.9 L886.3 865.1 L887.2 866.2 L888.1 867.4 L889.1 868.6 L890.1 869.7 L891.0 870.8 L892.0 872.0 L893.0 873.1 L893.9 874.3 L894.9 875.4 L895.8 876.6 L896.8 877.8 L897.7 878.9 L898.7 880.1 L899.7 881.2 L900.6 882.4 L901.6 883.5 L902.6 884.6 L903.6 885.7 L904.7 886.8 L905.7 887.9 L906.7 889.0 L907.8 890.0 L908.9 891.1 L909.9 892.1 L911.0 893.2 L912.1 894.2 L913.2 895.3 L914.3 896.3 L915.4 897.3 L916.5 898.3 L917.6 899.3 L918.7 900.3 L919.8 901.3 L920.9 902.3 L922.1 903.3 L923.2 904.3 L924.3 905.3 L925.5 906.2 L926.6 907.2 L927.8 908.1 L928.9 909.1 L930.1 910.0 L931.3 911.0 L932.4 911.9 L933.6 912.9 L934.8 913.8 L936.0 914.7 L937.2 915.6 L938.4 916.5 L939.6 917.4 L940.8 918.3 L942.0 919.2 L943.2 920.1 L944.4 921.0 L945.6 921.9 L946.8 922.7 L948.0 923.6 L949.3 924.5 L950.5 925.3 L951.8 926.1 L953.0 927.0 L954.3 927.8 L955.5 928.6 L956.8 929.4 L958.0 930.2 L959.3 931.0 L960.6 931.8 L961.8 932.6 L963.1 933.4 L964.4 934.2 L965.7 934.9 L967.0 935.7 L968.3 936.4 L969.6 937.2 L970.9 937.9 L972.2 938.6 L973.5 939.3 L974.9 940.0 L976.2 940.7 L977.5 941.4 L978.9 942.0 L980.2 942.7 L981.6 943.3 L983.0 943.9 L984.4 944.5 L985.7 945.1 L987.1 945.7 L988.5 946.2 L989.9 946.7 L991.3 947.2 L992.8 947.7 L994.2 948.2 L995.6 948.6 L997.0 949.1 L998.5 949.5 L999.9 949.9 L1001.4 950.3 L1002.8 950.6 L1004.3 951.0 L1005.7 951.3 L1007.2 951.7 L1008.7 952.0 L1010.1 952.3 L1011.6 952.6 L1013.1 952.9 L1014.5 953.2 L1016.0 953.4 L1017.5 953.7 L1019.0 954.0 L1020.4 954.2 L1021.9 954.5 L1023.4 954.7 L1024.9 955.0 L1026.4 955.2 L1027.8 955.4 L1029.3 955.6 L1030.8 955.9 L1032.3 956.1 L1033.8 956.3 L1035.3 956.4 L1036.8 956.6 L1038.3 956.8 L1039.7 957.0 L1041.2 957.2 L1042.7 957.3 L1044.2 957.5 L1045.7 957.7 L1047.2 957.8 L1048.7 958.0 L1050.2 958.1 L1051.7 958.3 L1053.2 958.4 L1054.7 958.5 L1056.2 958.7 L1057.6 958.8 L1059.1 958.9 L1060.6 959.0 L1062.1 959.2 L1063.6 959.3 L1065.1 959.4 L1066.6 959.5 L1068.1 959.6 L1069.6 959.7 L1071.1 959.8 L1072.6 959.9 L1074.1 960.0 L1075.6 960.1 L1077.1 960.2 L1078.6 960.2 L1080.1 960.3 L1081.6 960.4 L1083.1 960.5 L1084.6 960.6 L1086.1 960.6 L1087.6 960.7 L1089.1 960.7 L1090.6 960.8 L1092.1 960.8 L1093.6 960.9 L1095.1 960.9 L1096.6 960.9 L1098.1 961.0 L1099.6 961.0 L1101.1 961.0 L1102.6 961.0 L1104.1 961.0 L1105.6 961.0 L1107.1 961.1 L1108.6 961.1 L1110.1 961.1 L1111.6 961.1 L1113.1 961.1 L1114.6 961.1 L1116.1 961.1 L1117.6 961.1 L1119.1 961.1 L1120.6 961.1 L1122.1 961.2 L1123.6 961.2 L1125.1 961.2 L1126.6 961.2 L1128.1 961.2 L1129.6 961.2 L1131.1 961.2 L1133.1 961.2 L1134.6 961.2 L1136.1 961.2 L1137.6 961.2 L1139.1 961.2 L1140.6 961.1 L1142.1 961.1 L1143.6 961.1 L1145.1 961.1 L1146.6 961.1 L1148.1 961.1 L1149.6 961.0 L1151.0 961.0 L1152.5 961.0 L1154.0 961.0 L1155.5 960.9 L1157.0 960.9 L1158.5 960.9 L1160.0 960.8 L1161.5 960.8 L1163.0 960.8 L1164.5 960.7 L1166.0 960.7 L1167.5 960.6 L1169.0 960.6 L1170.5 960.6 L1172.0 960.5 L1173.5 960.5 L1175.0 960.4 L1176.5 960.4 L1178.0 960.4 L1179.5 960.3 L1181.0 960.3 L1182.5 960.2 L1184.0 960.2 L1185.5 960.1 L1187.0 960.1 L1188.5 960.1 L1190.0 960.0 L1191.5 960.0 L1193.0 959.9 L1194.5 959.9 L1196.0 959.8 L1197.5 959.8 L1199.0 959.7 L1200.5 959.7 L1202.0 959.6 L1203.5 959.6 L1205.0 959.5 L1206.5 959.4 L1208.0 959.4 L1209.5 959.3 L1211.0 959.3 L1212.5 959.2 L1214.0 959.1 L1215.5 959.1 L1217.0 959.0 L1218.5 959.0 L1220.0 958.9 L1221.5 958.8 L1223.0 958.8 L1224.5 958.7 L1226.0 958.7 L1227.5 958.6 L1229.0 958.6 L1230.5 958.5 L1232.0 958.4 L1233.5 958.4 L1235.0 958.3 L1236.5 958.3 L1238.0 958.2 L1239.5 958.2 L1241.0 958.1 L1242.5 958.1 L1244.0 958.0 L1245.5 958.0 L1247.0 957.9 L1248.5 957.8 L1250.0 957.8 L1251.5 957.7 L1253.0 957.7 L1254.5 957.6 L1256.0 957.6 L1257.5 957.5 L1259.0 957.5 L1260.5 957.4 L1262.0 957.4 L1263.5 957.3 L1265.0 957.3 L1266.5 957.2 L1268.0 957.2 L1269.5 957.1 L1270.9 957.1 L1272.4 957.0 L1273.9 957.0 L1275.4 956.9 L1276.9 956.9 L1278.4 956.8 L1279.9 956.8 L1281.4 956.7 L1282.9 956.7 L1284.4 956.6 L1285.9 956.6 L1287.4 956.5 L1288.9 956.5 L1290.4 956.4 L1291.9 956.4 L1293.4 956.4 L1294.9 956.3 L1296.4 956.3 L1297.9 956.2 L1299.4 956.2 L1300.9 956.1 L1302.4 956.1 L1303.9 956.0 L1305.4 956.0 L1306.9 955.9 L1308.4 955.9 L1309.9 955.9 L1311.4 955.8 L1312.9 955.8 L1314.4 955.7 L1315.9 955.7 L1317.4 955.6 L1318.9 955.6 L1320.4 955.5 L1321.9 955.5 L1323.4 955.5 L1324.9 955.4 L1326.4 955.4 L1327.9 955.3 L1329.4 955.3 L1330.9 955.2 L1332.4 955.2 L1333.9 955.2 L1335.4 955.1 L1336.9 955.1 L1338.4 955.0 L1338.9 955.0"/>
<path class="cv" stroke="#bcbcbc" stroke-width="2.05" d="M829.7 594.1 L829.8 595.6 L829.8 597.1 L829.9 598.6 L830.0 600.0 L830.0 601.5 L830.1 603.0 L830.2 604.5 L830.2 606.0 L830.3 607.5 L830.4 609.0 L830.4 610.5 L830.5 612.0 L830.6 613.5 L830.6 615.0 L830.7 616.5 L830.8 618.0 L830.9 619.5 L830.9 621.0 L831.0 622.5 L831.1 624.0 L831.1 625.5 L831.2 627.0 L831.3 628.5 L831.4 630.0 L831.4 631.5 L831.5 633.0 L831.6 634.5 L831.7 636.0 L831.7 637.5 L831.8 639.0 L831.9 640.5 L832.0 642.0 L832.0 643.5 L832.1 645.0 L832.2 646.5 L832.3 648.0 L832.3 649.5 L832.4 651.0 L832.5 652.5 L832.5 654.0 L832.6 655.5 L832.7 657.0 L832.7 658.5 L832.8 660.0 L832.9 661.5 L832.9 663.0 L833.0 664.5 L833.0 666.0 L833.1 667.5 L833.2 669.0 L833.2 670.5 L833.3 672.0 L833.3 673.5 L833.4 675.0 L833.4 676.5 L833.5 678.0 L833.5 679.5 L833.6 681.0 L833.7 682.5 L833.7 684.0 L833.8 685.5 L833.8 687.0 L833.9 688.5 L833.9 690.0 L834.0 691.5 L834.0 693.0 L834.1 694.5 L834.1 696.0 L834.2 697.5 L834.2 699.0 L834.3 700.5 L834.3 702.0 L834.4 703.5 L834.4 705.0 L834.5 706.5 L834.5 708.0 L834.6 709.4 L834.7 710.9 L834.7 712.4 L834.8 713.9 L834.9 715.4 L835.0 716.9 L835.0 718.4 L835.1 719.9 L835.2 721.4 L835.3 722.9 L835.4 724.4 L835.5 725.9 L835.6 727.4 L835.7 728.9 L835.8 730.4 L835.9 731.9 L836.1 733.4 L836.2 734.9 L836.3 736.4 L836.4 737.9 L836.5 739.4 L836.7 740.9 L836.8 742.4 L836.9 743.9 L837.0 745.4 L837.2 746.9 L837.3 748.4 L837.5 749.8 L837.6 751.3 L837.7 752.8 L837.9 754.3 L838.0 755.8 L838.2 757.3 L838.3 758.8 L838.5 760.3 L838.7 761.8 L838.8 763.3 L839.0 764.8 L839.2 766.3 L839.3 767.7 L839.5 769.2 L839.7 770.7 L839.9 772.2 L840.1 773.7 L840.2 775.2 L840.4 776.7 L840.6 778.2 L840.8 779.6 L841.0 781.1 L841.2 782.6 L841.5 784.1 L841.7 785.6 L841.9 787.1 L842.1 788.6 L842.3 790.0 L842.5 791.5 L842.8 793.0 L843.0 794.5 L843.2 796.0 L843.5 797.5 L843.7 798.9 L843.9 800.4 L844.2 801.9 L844.4 803.4 L844.7 804.9 L844.9 806.3 L845.2 807.8 L845.4 809.3 L845.7 810.8 L846.0 812.2 L846.3 813.7 L846.5 815.2 L846.8 816.7 L847.1 818.1 L847.4 819.6 L847.7 821.1 L848.0 822.5 L848.3 824.0 L848.6 825.5 L848.9 826.9 L849.3 828.4 L849.6 829.9 L849.9 831.3 L850.2 832.8 L850.5 834.3 L850.9 835.7 L851.2 837.2 L851.5 838.7 L851.8 840.1 L852.2 841.6 L852.5 843.0 L852.9 844.5 L853.3 845.9 L853.7 847.4 L854.2 848.8 L854.6 850.2 L855.1 851.7 L855.6 853.1 L856.2 854.5 L856.7 855.8 L857.3 857.2 L857.9 858.6 L858.5 860.0 L859.1 861.3 L859.7 862.7 L860.4 864.1 L861.0 865.4 L861.7 866.8 L862.4 868.1 L863.0 869.4 L863.7 870.8 L864.4 872.1 L865.1 873.4 L865.9 874.7 L866.6 876.0 L867.4 877.3 L868.1 878.6 L868.9 879.9 L869.7 881.1 L870.5 882.4 L871.4 883.6 L872.2 884.9 L873.1 886.1 L874.0 887.3 L874.9 888.5 L875.9 889.7 L876.8 890.8 L877.8 892.0 L878.8 893.1 L879.8 894.2 L880.8 895.3 L881.8 896.4 L882.9 897.4 L883.9 898.5 L885.0 899.5 L886.1 900.5 L887.3 901.5 L888.4 902.5 L889.6 903.4 L890.7 904.3 L891.9 905.3 L893.1 906.1 L894.4 907.0 L895.6 907.9 L896.8 908.7 L898.1 909.5 L899.4 910.3 L900.6 911.1 L901.9 911.8 L903.2 912.6 L904.5 913.3 L905.9 914.1 L907.2 914.8 L908.5 915.5 L909.8 916.1 L911.2 916.8 L912.5 917.5 L913.9 918.1 L915.2 918.8 L916.6 919.4 L918.0 920.0 L919.3 920.6 L920.7 921.2 L922.1 921.7 L923.5 922.3 L924.9 922.8 L926.3 923.3 L927.8 923.8 L929.2 924.2 L930.6 924.7 L932.0 925.1 L933.5 925.6 L934.9 926.0 L936.4 926.4 L937.8 926.7 L939.3 927.1 L940.7 927.5 L942.2 927.8 L943.6 928.1 L945.1 928.5 L946.6 928.8 L948.0 929.1 L949.5 929.4 L951.0 929.6 L952.5 929.9 L953.9 930.2 L955.4 930.4 L956.9 930.7 L958.4 930.9 L959.9 931.2 L961.3 931.4 L962.8 931.6 L964.3 931.9 L965.8 932.1 L967.3 932.3 L968.8 932.5 L970.2 932.7 L971.7 932.9 L973.2 933.1 L974.7 933.2 L976.2 933.4 L977.7 933.6 L979.2 933.7 L980.7 933.9 L982.2 934.1 L983.7 934.2 L985.1 934.4 L986.6 934.5 L988.1 934.7 L989.6 934.8 L991.1 935.0 L992.6 935.1 L994.1 935.2 L995.6 935.4 L997.1 935.5 L998.6 935.6 L1000.1 935.8 L1001.6 935.9 L1003.1 936.0 L1004.6 936.1 L1006.1 936.2 L1007.6 936.3 L1009.1 936.5 L1010.6 936.6 L1012.1 936.7 L1013.5 936.8 L1015.0 936.9 L1016.5 937.0 L1018.0 937.1 L1019.5 937.2 L1021.0 937.3 L1022.5 937.3 L1024.0 937.4 L1025.5 937.5 L1027.0 937.6 L1028.5 937.7 L1030.0 937.8 L1031.5 937.9 L1033.0 938.0 L1034.5 938.0 L1036.0 938.1 L1037.5 938.2 L1039.0 938.3 L1040.5 938.4 L1042.0 938.5 L1043.5 938.5 L1045.0 938.6 L1046.5 938.7 L1048.0 938.8 L1049.5 938.9 L1051.0 938.9 L1052.5 939.0 L1054.0 939.1 L1055.5 939.2 L1057.0 939.3 L1058.5 939.3 L1060.0 939.4 L1061.5 939.5 L1063.0 939.5 L1064.5 939.6 L1066.0 939.7 L1067.5 939.8 L1069.0 939.8 L1070.5 939.9 L1072.0 940.0 L1073.5 940.0 L1075.0 940.1 L1076.5 940.2 L1078.0 940.2 L1079.5 940.3 L1080.9 940.4 L1082.4 940.4 L1083.9 940.5 L1085.4 940.5 L1086.9 940.6 L1088.4 940.7 L1089.9 940.7 L1091.4 940.8 L1092.9 940.8 L1094.4 940.9 L1095.9 941.0 L1097.4 941.0 L1098.9 941.1 L1100.4 941.1 L1101.9 941.2 L1103.4 941.2 L1104.9 941.3 L1106.4 941.4 L1107.9 941.4 L1109.4 941.5 L1110.9 941.5 L1112.4 941.6 L1113.9 941.6 L1115.4 941.7 L1116.9 941.7 L1118.4 941.8 L1119.9 941.8 L1121.4 941.9 L1122.9 941.9 L1124.4 941.9 L1125.9 942.0 L1127.4 942.0 L1128.9 942.1 L1130.4 942.1 L1131.9 942.1 L1133.4 942.2 L1134.9 942.2 L1136.4 942.2 L1137.9 942.3 L1139.4 942.3 L1140.9 942.3 L1142.4 942.4 L1143.9 942.4 L1145.4 942.4 L1146.9 942.5 L1148.4 942.5 L1149.9 942.5 L1151.4 942.6 L1152.9 942.6 L1154.4 942.6 L1155.9 942.6 L1157.4 942.7 L1158.9 942.7 L1160.4 942.7 L1161.9 942.7 L1163.4 942.8 L1164.9 942.8 L1166.4 942.8 L1167.9 942.9 L1169.4 942.9 L1170.9 942.9 L1172.4 942.9 L1173.9 942.9 L1175.4 943.0 L1176.9 943.0 L1178.4 943.0 L1179.9 943.0 L1181.4 943.1 L1182.9 943.1 L1184.4 943.1 L1185.9 943.1 L1187.4 943.2 L1188.9 943.2 L1190.4 943.2 L1191.9 943.2 L1193.4 943.2 L1194.9 943.3 L1196.4 943.3 L1197.9 943.3 L1199.4 943.3 L1200.9 943.3 L1202.4 943.4 L1203.9 943.4 L1205.4 943.4 L1206.9 943.4 L1208.4 943.4 L1209.9 943.5 L1211.4 943.5 L1212.9 943.5 L1214.4 943.5 L1215.9 943.5 L1217.4 943.5 L1218.9 943.6 L1220.4 943.6 L1221.9 943.6 L1223.4 943.6 L1224.9 943.6 L1226.4 943.6 L1227.9 943.7 L1229.4 943.7 L1230.9 943.7 L1232.4 943.7 L1233.9 943.7 L1235.4 943.7 L1236.9 943.8 L1238.4 943.8 L1239.9 943.8 L1241.4 943.8 L1242.9 943.8 L1244.4 943.8 L1245.9 943.9 L1247.4 943.9 L1248.9 943.9 L1250.4 943.9 L1251.9 943.9 L1253.4 943.9 L1254.9 944.0 L1256.4 944.0 L1257.9 944.0 L1259.4 944.0 L1260.9 944.0 L1262.4 944.0 L1263.9 944.0 L1265.4 944.1 L1266.9 944.1 L1268.4 944.1 L1269.9 944.1 L1271.4 944.1 L1272.9 944.1 L1274.4 944.1 L1275.9 944.2 L1277.4 944.2 L1278.9 944.2 L1280.4 944.2 L1281.9 944.2 L1283.4 944.2 L1284.9 944.2 L1286.4 944.3 L1287.9 944.3 L1289.4 944.3 L1290.9 944.3 L1292.4 944.3 L1293.9 944.3 L1295.4 944.3 L1296.9 944.3 L1298.4 944.4 L1299.9 944.4 L1301.4 944.4 L1302.9 944.4 L1304.4 944.4 L1305.9 944.4 L1307.4 944.4 L1308.9 944.4 L1310.4 944.4 L1311.9 944.5 L1313.4 944.5 L1314.9 944.5 L1316.4 944.5 L1317.9 944.5 L1319.4 944.5 L1320.9 944.5 L1322.4 944.5 L1323.9 944.5 L1325.4 944.6 L1326.9 944.6 L1328.4 944.6 L1329.9 944.6 L1331.4 944.6 L1332.9 944.6 L1334.4 944.6 L1335.9 944.6 L1337.4 944.6 L1338.9 944.6"/>
<path class="cv" stroke="#f8f824" d="M825.4 945.5 L826.4 944.6 L827.3 943.6 L828.2 942.6 L829.0 941.5 L829.7 940.3 L830.3 939.0 L830.8 937.6 L831.3 936.3 L831.7 934.8 L832.1 933.4 L832.4 931.9 L832.7 930.5 L833.0 929.0 L833.3 927.5 L833.6 926.1 L833.8 924.6 L834.1 923.1 L834.3 921.6 L834.6 920.1 L834.8 918.7 L835.0 917.2 L835.2 915.7 L835.5 914.2 L835.7 912.7 L835.9 911.2 L836.1 909.8 L836.3 908.3 L836.5 906.8 L836.7 905.3 L836.9 903.8 L837.0 902.3 L837.2 900.8 L837.4 899.4 L837.6 897.9 L837.8 896.4 L838.0 894.9 L838.2 893.4 L838.5 891.9 L838.7 890.4 L838.9 889.0 L839.1 887.5 L839.3 886.0 L839.6 884.5 L839.8 883.0 L840.0 881.6 L840.3 880.1 L840.5 878.6 L840.8 877.1 L841.0 875.6 L841.3 874.2 L841.6 872.7 L841.9 871.2 L842.2 869.7 L842.5 868.3 L842.8 866.8 L843.1 865.3 L843.4 863.9 L843.8 862.4 L844.1 861.0 L844.5 859.5 L844.9 858.1 L845.2 856.6 L845.6 855.2 L846.0 853.7 L846.4 852.3 L846.8 850.8 L847.2 849.4 L847.6 847.9 L848.0 846.5 L848.4 845.1 L848.9 843.6 L849.3 842.2 L849.8 840.8 L850.3 839.4 L850.9 838.0 L851.4 836.6 L852.0 835.2 L852.7 833.9 L853.4 832.6 L854.1 831.3 L854.9 830.1 L855.8 828.9 L856.7 827.8 L857.7 826.7 L858.8 825.8 L859.9 825.0 L861.1 824.3 L862.4 823.7 L863.7 823.3 L865.1 823.1 L866.9 823.0 L868.3 823.2 L869.7 823.5 L871.1 823.9 L872.5 824.4 L873.8 825.0 L875.1 825.7 L876.3 826.4 L877.6 827.3 L878.8 828.2 L879.9 829.1 L881.0 830.1 L882.2 831.1 L883.3 832.1 L884.4 833.1 L885.5 834.1 L886.6 835.1 L887.6 836.2 L888.7 837.2 L889.8 838.2 L890.9 839.3 L892.0 840.3 L893.1 841.4 L894.1 842.4 L895.2 843.4 L896.3 844.5 L897.4 845.5 L898.4 846.6 L899.5 847.6 L900.6 848.6 L901.7 849.6 L902.8 850.7 L903.9 851.7 L905.0 852.7 L906.1 853.7 L907.2 854.7 L908.3 855.7 L909.5 856.7 L910.6 857.7 L911.7 858.7 L912.8 859.7 L914.0 860.7 L915.1 861.6 L916.3 862.6 L917.4 863.6 L918.6 864.5 L919.8 865.4 L920.9 866.4 L922.1 867.3 L923.3 868.2 L924.5 869.1 L925.7 870.0 L926.9 870.9 L928.1 871.8 L929.3 872.7 L930.5 873.6 L931.7 874.5 L932.9 875.4 L934.2 876.2 L935.4 877.1 L936.6 877.9 L937.9 878.8 L939.1 879.6 L940.3 880.5 L941.6 881.3 L942.8 882.1 L944.1 882.9 L945.4 883.8 L946.6 884.6 L947.9 885.4 L949.2 886.2 L950.4 887.0 L951.7 887.7 L953.0 888.5 L954.3 889.3 L955.6 890.1 L956.8 890.8 L958.1 891.6 L959.4 892.4 L960.7 893.1 L962.0 893.9 L963.3 894.6 L964.6 895.4 L965.9 896.2 L967.2 896.9 L968.5 897.7 L969.8 898.4 L971.1 899.2 L972.4 899.9 L973.7 900.7 L975.0 901.4 L976.3 902.1 L977.6 902.9 L978.9 903.6 L980.2 904.3 L981.5 905.0 L982.9 905.7 L984.2 906.4 L985.5 907.1 L986.9 907.8 L988.2 908.5 L989.5 909.2 L990.9 909.8 L992.2 910.5 L993.6 911.2 L994.9 911.8 L996.3 912.5 L997.6 913.1 L999.0 913.8 L1000.3 914.4 L1001.7 915.0 L1003.1 915.6 L1004.4 916.2 L1005.8 916.8 L1007.2 917.4 L1008.6 918.0 L1009.9 918.6 L1011.3 919.2 L1012.7 919.7 L1014.1 920.3 L1015.5 920.8 L1016.9 921.4 L1018.3 921.9 L1019.7 922.4 L1021.1 923.0 L1022.5 923.5 L1023.9 924.0 L1025.3 924.5 L1026.8 925.0 L1028.2 925.5 L1029.6 926.0 L1031.0 926.4 L1032.4 926.9 L1033.9 927.4 L1035.3 927.9 L1036.7 928.3 L1038.1 928.8 L1039.6 929.3 L1041.0 929.7 L1042.4 930.2 L1043.8 930.6 L1045.3 931.1 L1046.7 931.5 L1048.2 931.9 L1049.6 932.3 L1051.0 932.7 L1052.5 933.1 L1053.9 933.5 L1055.4 933.9 L1056.8 934.3 L1058.3 934.6 L1059.8 934.9 L1061.2 935.3 L1062.7 935.6 L1064.1 935.9 L1065.6 936.2 L1067.1 936.5 L1068.5 936.8 L1070.0 937.1 L1071.5 937.4 L1073.0 937.7 L1074.4 938.0 L1075.9 938.2 L1077.4 938.5 L1078.9 938.8 L1080.3 939.0 L1081.8 939.3 L1083.3 939.6 L1084.8 939.8 L1086.2 940.1 L1087.7 940.3 L1089.2 940.6 L1090.7 940.8 L1092.2 941.1 L1093.6 941.3 L1095.1 941.5 L1096.6 941.8 L1098.1 942.0 L1099.6 942.3 L1101.0 942.5 L1102.5 942.8 L1104.0 943.0 L1105.5 943.3 L1107.0 943.5 L1108.4 943.8 L1109.9 944.0 L1111.4 944.3 L1112.9 944.5 L1114.3 944.8 L1115.8 945.0 L1117.3 945.3 L1118.8 945.5 L1120.3 945.8 L1121.7 946.0 L1123.2 946.3 L1124.7 946.5 L1126.2 946.8 L1127.7 947.0 L1129.1 947.2 L1130.6 947.5 L1132.1 947.7 L1133.6 947.9 L1135.1 948.1 L1136.6 948.3 L1138.0 948.5 L1139.5 948.7 L1141.0 948.9 L1142.5 949.1 L1144.0 949.3 L1145.5 949.5 L1147.0 949.7 L1148.4 949.9 L1149.9 950.1 L1151.4 950.3 L1152.9 950.4 L1154.4 950.6 L1155.9 950.8 L1157.4 951.0 L1158.9 951.1 L1160.4 951.3 L1161.8 951.5 L1163.3 951.6 L1164.8 951.8 L1166.3 952.0 L1167.8 952.1 L1169.3 952.3 L1170.8 952.5 L1172.3 952.6 L1173.8 952.8 L1175.3 952.9 L1176.8 953.1 L1178.3 953.2 L1179.7 953.4 L1181.2 953.5 L1182.7 953.7 L1184.2 953.8 L1185.7 953.9 L1187.2 954.1 L1188.7 954.2 L1190.2 954.4 L1191.7 954.5 L1193.2 954.6 L1194.7 954.8 L1196.2 954.9 L1197.7 955.0 L1199.2 955.2 L1200.6 955.3 L1202.1 955.4 L1203.6 955.6 L1205.1 955.7 L1206.6 955.8 L1208.1 955.9 L1209.6 956.1 L1211.1 956.2 L1212.6 956.3 L1214.1 956.4 L1215.6 956.5 L1217.1 956.7 L1218.6 956.8 L1220.1 956.9 L1221.6 957.0 L1223.1 957.1 L1224.6 957.2 L1226.1 957.3 L1227.6 957.4 L1229.0 957.5 L1230.5 957.6 L1232.0 957.7 L1233.5 957.8 L1235.0 957.9 L1236.5 958.0 L1238.0 958.1 L1239.5 958.2 L1241.0 958.3 L1242.5 958.3 L1244.0 958.4 L1245.5 958.5 L1247.0 958.6 L1248.5 958.7 L1250.0 958.8 L1251.5 958.8 L1253.0 958.9 L1254.5 959.0 L1256.0 959.1 L1257.5 959.1 L1259.0 959.2 L1260.5 959.3 L1262.0 959.3 L1263.5 959.4 L1265.0 959.5 L1266.5 959.6 L1268.0 959.6 L1269.5 959.7 L1271.0 959.8 L1272.5 959.8 L1274.0 959.9 L1275.5 960.0 L1277.0 960.0 L1278.5 960.1 L1280.0 960.1 L1281.5 960.2 L1283.0 960.3 L1284.5 960.3 L1286.0 960.4 L1287.5 960.5 L1289.0 960.5 L1290.4 960.6 L1291.9 960.6 L1293.4 960.7 L1294.9 960.8 L1296.4 960.8 L1297.9 960.9 L1299.4 960.9 L1300.9 961.0 L1302.4 961.1 L1303.9 961.1 L1305.4 961.2 L1306.9 961.2 L1308.4 961.3 L1309.9 961.3 L1311.4 961.4 L1312.9 961.5 L1314.4 961.5 L1315.9 961.6 L1317.4 961.6 L1318.9 961.7 L1320.4 961.7 L1321.9 961.8 L1323.4 961.8 L1324.9 961.9 L1326.4 961.9 L1327.9 962.0 L1329.4 962.0 L1330.9 962.1 L1332.4 962.1 L1333.9 962.2 L1335.4 962.2 L1336.9 962.3 L1338.4 962.3 L1338.9 962.3"/>
<path class="ax" stroke="#9a9a9a" stroke-width="2.2" stroke-opacity="0.75" d="M818.40 945.50 H1339.50"/>
<path class="ax" stroke="#8a8a8a" stroke-width="1.5" d="M825.40 596.36 V1120.37"/>
<path class="ax tick" d="M825.40 1119.77 h-7.0 M825.40 1090.72 h-4.0 M825.40 1061.68 h-7.0 M825.40 1032.63 h-4.0 M825.40 1003.59 h-7.0 M825.40 974.54 h-4.0 M825.40 916.46 h-4.0 M825.40 887.41 h-7.0 M825.40 858.37 h-4.0 M825.40 829.32 h-7.0 M825.40 800.27 h-4.0 M825.40 771.23 h-7.0 M825.40 742.18 h-4.0 M825.40 713.14 h-7.0 M825.40 684.10 h-4.0 M825.40 655.05 h-7.0 M825.40 626.00 h-4.0 M825.40 596.96 h-7.0 M876.75 945.50 v4.0 M928.10 945.50 v7.5 M979.45 945.50 v4.0 M1030.80 945.50 v7.5 M1082.15 945.50 v4.0 M1133.50 945.50 v7.5 M1184.85 945.50 v4.0 M1236.20 945.50 v7.5 M1287.55 945.50 v4.0 M1338.90 945.50 v7.5"/>
<text class="tk" text-anchor="end" x="813.5" y="1130.1">3</text>
<text class="mn" x="783.1" y="1128.5">−</text>
<text class="tk" text-anchor="end" x="813.5" y="1072.0">2</text>
<text class="mn" x="783.1" y="1070.4">−</text>
<text class="tk" text-anchor="end" x="813.5" y="1014.0">1</text>
<text class="mn" x="783.1" y="1012.4">−</text>
<text class="tk" text-anchor="end" x="813.5" y="956.0">0</text>
<text class="tk" text-anchor="end" x="813.5" y="898.0">1</text>
<text class="tk" text-anchor="end" x="813.5" y="840.0">2</text>
<text class="tk" text-anchor="end" x="813.5" y="781.9">3</text>
<text class="tk" text-anchor="end" x="813.5" y="723.9">4</text>
<text class="tk" text-anchor="end" x="813.5" y="665.9">5</text>
<text class="tk" text-anchor="end" x="813.5" y="607.9">6</text>
<text class="tk" text-anchor="middle" x="927.6" y="982.8">1</text>
<text class="tk" text-anchor="middle" x="1030.3" y="982.8">2</text>
<text class="tk" text-anchor="middle" x="1133.0" y="982.8">3</text>
<text class="tk" text-anchor="middle" x="1235.7" y="982.8">4</text>
<text class="tk" text-anchor="middle" x="1338.4" y="982.8">5</text>
<text class="lt" x="723" y="644.8">E)</text>
<text class="fl it" transform="translate(705.90 782.80) skewX(-10.4)">f</text>
<text class="fl pr" transform="translate(724.50 782.80) scale(0.765 1)">(</text>
<text class="fl gk" transform="translate(737.00 782.20) scale(1.055 1)">η</text>
<text class="fl pr" transform="translate(758.60 782.80) scale(0.78 1)">)</text>
<text class="et" transform="translate(1073.70 1021.80) scale(1.07 1)">η</text>
</g>
<g class="panel" id="panel-F">
<path class="cv" stroke="#000000" d="M1503.5 924.3 L1505.0 924.1 L1506.5 923.9 L1508.0 923.8 L1509.5 923.6 L1510.9 923.5 L1512.4 923.3 L1513.9 923.2 L1515.4 923.0 L1516.9 922.9 L1518.4 922.8 L1519.9 922.7 L1521.4 922.6 L1522.9 922.5 L1524.4 922.4 L1525.9 922.3 L1527.4 922.2 L1528.9 922.1 L1530.4 922.0 L1531.8 921.9 L1533.3 921.9 L1534.8 921.8 L1536.3 921.7 L1537.8 921.7 L1539.3 921.6 L1540.8 921.6 L1542.3 921.6 L1543.8 921.6 L1545.3 921.6 L1546.8 921.6 L1548.3 921.6 L1549.8 921.6 L1551.3 921.6 L1552.8 921.7 L1554.3 921.7 L1555.8 921.8 L1557.3 921.8 L1558.8 921.9 L1560.3 922.0 L1561.8 922.1 L1563.3 922.1 L1564.8 922.3 L1566.3 922.4 L1567.7 922.5 L1569.2 922.7 L1570.7 922.9 L1572.2 923.1 L1573.7 923.3 L1575.1 923.6 L1576.6 923.8 L1578.1 924.1 L1579.6 924.3 L1581.0 924.6 L1582.5 924.9 L1584.0 925.2 L1585.4 925.5 L1586.9 925.8 L1588.4 926.1 L1589.8 926.4 L1591.3 926.7 L1592.8 927.1 L1594.2 927.4 L1595.7 927.7 L1597.2 928.1 L1598.6 928.4 L1600.1 928.7 L1601.5 929.1 L1603.0 929.4 L1604.4 929.7 L1605.9 930.1 L1607.4 930.4 L1608.8 930.8 L1610.3 931.1 L1611.7 931.4 L1613.2 931.8 L1614.6 932.1 L1616.1 932.5 L1617.6 932.9 L1619.0 933.2 L1620.5 933.6 L1621.9 934.0 L1623.4 934.3 L1624.8 934.7 L1626.2 935.1 L1627.7 935.5 L1629.1 935.9 L1630.6 936.4 L1632.0 936.8 L1633.4 937.2 L1634.9 937.6 L1636.3 938.1 L1637.8 938.5 L1639.2 938.8 L1640.6 939.2 L1642.1 939.6 L1643.5 940.0 L1645.0 940.3 L1646.5 940.6 L1647.9 941.0 L1649.4 941.3 L1650.9 941.6 L1652.3 941.9 L1653.8 942.1 L1655.3 942.4 L1656.7 942.6 L1658.2 942.8 L1659.7 943.0 L1661.2 943.2 L1662.7 943.4 L1664.2 943.5 L1665.7 943.6 L1667.2 943.8 L1668.7 943.9 L1670.1 944.0 L1671.6 944.1 L1673.1 944.2 L1674.6 944.2 L1676.1 944.3 L1677.6 944.4 L1679.1 944.4 L1680.6 944.5 L1682.1 944.5 L1683.6 944.6 L1685.1 944.6"/>
<path class="cv" stroke="#e01216" d="M1503.5 921.2 L1505.0 921.0 L1506.5 920.8 L1508.0 920.7 L1509.4 920.5 L1510.9 920.3 L1512.4 920.1 L1513.9 920.0 L1515.4 919.8 L1516.9 919.6 L1518.4 919.5 L1519.9 919.3 L1521.4 919.2 L1522.8 919.0 L1524.3 918.9 L1525.8 918.7 L1527.3 918.6 L1528.8 918.5 L1530.3 918.3 L1531.8 918.2 L1533.3 918.1 L1534.8 918.0 L1536.3 917.9 L1537.8 917.8 L1539.3 917.7 L1540.8 917.7 L1542.3 917.7 L1543.8 917.7 L1545.3 917.7 L1546.8 917.7 L1548.3 917.7 L1549.7 917.8 L1551.2 917.8 L1552.7 917.9 L1554.2 918.0 L1555.7 918.1 L1557.2 918.2 L1558.7 918.3 L1560.2 918.4 L1561.7 918.6 L1563.2 918.7 L1564.7 918.9 L1566.1 919.1 L1567.6 919.4 L1569.1 919.7 L1570.5 920.0 L1572.0 920.3 L1573.5 920.7 L1574.9 921.0 L1576.3 921.4 L1577.8 921.8 L1579.2 922.2 L1580.7 922.6 L1582.1 923.0 L1583.6 923.3 L1585.0 923.7 L1586.5 924.1 L1587.9 924.5 L1589.4 924.8 L1590.8 925.2 L1592.3 925.6 L1593.7 926.0 L1595.2 926.4 L1596.6 926.7 L1598.1 927.1 L1599.5 927.5 L1601.0 927.9 L1602.4 928.3 L1603.9 928.7 L1605.3 929.0 L1606.8 929.4 L1608.2 929.7 L1609.7 930.1 L1611.1 930.4 L1612.6 930.8 L1614.1 931.1 L1615.5 931.5 L1617.0 931.8 L1618.4 932.1 L1619.9 932.5 L1621.4 932.8 L1622.8 933.2 L1624.3 933.6 L1625.7 934.0 L1627.1 934.4 L1628.6 934.8 L1630.0 935.2 L1631.5 935.6 L1632.9 936.0 L1634.3 936.5 L1635.8 936.9 L1637.2 937.3 L1638.6 937.7 L1640.1 938.1 L1641.5 938.5 L1643.0 938.8 L1644.5 939.2 L1645.9 939.5 L1647.4 939.8 L1648.8 940.1 L1650.3 940.4 L1651.8 940.7 L1653.3 941.0 L1654.7 941.2 L1656.2 941.5 L1657.7 941.7 L1659.2 942.0 L1660.6 942.2 L1662.1 942.4 L1663.6 942.6 L1665.1 942.8 L1666.6 943.0 L1668.1 943.1 L1669.6 943.3 L1671.0 943.5 L1672.5 943.6 L1674.0 943.8 L1675.5 943.9 L1677.0 944.0 L1678.5 944.1 L1680.0 944.3 L1681.5 944.4 L1683.0 944.4 L1684.5 944.5 L1686.0 944.6 L1687.5 944.7 L1689.0 944.7 L1690.5 944.8 L1692.0 944.8 L1693.5 944.9 L1695.0 944.9 L1696.5 945.0 L1698.0 945.0 L1699.5 945.0 L1701.0 945.1 L1702.4 945.1 L1703.9 945.1 L1705.4 945.1 L1706.9 945.1 L1708.4 945.1 L1710.4 945.1 L1711.9 945.1 L1713.4 945.1 L1714.9 945.1 L1716.4 945.1 L1717.9 945.1 L1719.4 945.1 L1720.9 945.0 L1722.4 945.0 L1723.9 945.0 L1725.4 945.0 L1726.9 944.9 L1728.4 944.9 L1729.9 944.9 L1731.4 944.8 L1732.9 944.8 L1734.4 944.8 L1735.9 944.8 L1737.4 944.7 L1738.9 944.7 L1740.4 944.7 L1741.9 944.7 L1743.4 944.7 L1744.9 944.6 L1746.4 944.6 L1747.9 944.6 L1749.4 944.6 L1750.9 944.6 L1752.4 944.6 L1753.9 944.6 L1755.9 944.6 L1757.9 944.6 L1759.9 944.6 L1761.9 944.6 L1763.9 944.6 L1765.9 944.6 L1767.9 944.6 L1769.9 944.6 L1771.9 944.6 L1773.8 944.6 L1775.8 944.6 L1777.8 944.6 L1779.8 944.6 L1781.8 944.6 L1783.8 944.6 L1785.8 944.6 L1787.8 944.6 L1789.8 944.6 L1791.8 944.6 L1793.8 944.6 L1795.8 944.6 L1797.8 944.6 L1799.8 944.6 L1801.8 944.6 L1803.8 944.6 L1805.8 944.6 L1807.8 944.6 L1809.8 944.6 L1811.3 944.6"/>
<path class="cv" stroke="#0808e0" d="M1503.5 917.9 L1504.9 917.5 L1506.4 917.0 L1507.8 916.6 L1509.2 916.2 L1510.7 915.8 L1512.1 915.4 L1513.6 915.0 L1515.0 914.7 L1516.5 914.3 L1518.0 914.0 L1519.4 913.6 L1520.9 913.3 L1522.4 913.0 L1523.8 912.7 L1525.3 912.5 L1526.8 912.2 L1528.3 912.0 L1529.7 911.8 L1531.2 911.7 L1532.7 911.6 L1534.2 911.5 L1535.7 911.5 L1537.2 911.4 L1538.7 911.5 L1540.2 911.5 L1541.7 911.5 L1543.2 911.6 L1544.7 911.7 L1546.2 911.8 L1547.7 911.9 L1549.2 912.1 L1550.6 912.3 L1552.1 912.5 L1553.6 912.8 L1555.1 913.0 L1556.5 913.3 L1558.0 913.7 L1559.4 914.0 L1560.9 914.4 L1562.3 914.8 L1563.8 915.2 L1565.2 915.6 L1566.7 916.0 L1568.1 916.4 L1569.6 916.8 L1571.0 917.3 L1572.4 917.7 L1573.9 918.1 L1575.3 918.6 L1576.7 919.0 L1578.2 919.5 L1579.6 919.9 L1581.0 920.4 L1582.4 920.9 L1583.9 921.3 L1585.3 921.8 L1586.7 922.3 L1588.1 922.8 L1589.5 923.3 L1591.0 923.8 L1592.4 924.3 L1593.8 924.7 L1595.2 925.2 L1596.6 925.7 L1598.0 926.2 L1599.4 926.7 L1600.9 927.2 L1602.3 927.7 L1603.7 928.2 L1605.1 928.7 L1606.5 929.2 L1607.9 929.7 L1609.3 930.3 L1610.8 930.8 L1612.2 931.3 L1613.6 931.8 L1615.0 932.3 L1616.4 932.8 L1617.8 933.3 L1619.2 933.8 L1620.6 934.3 L1622.1 934.8 L1623.5 935.3 L1624.9 935.7 L1626.3 936.2 L1627.8 936.6 L1629.2 937.0 L1630.6 937.5 L1632.1 937.8 L1633.5 938.2 L1635.0 938.6 L1636.4 939.0 L1637.9 939.3 L1639.4 939.7 L1640.8 940.0 L1642.3 940.3 L1643.7 940.7 L1645.2 941.0 L1646.7 941.3 L1648.1 941.6 L1649.6 941.9 L1651.1 942.2 L1652.6 942.5 L1654.0 942.8 L1655.5 943.1 L1657.0 943.3 L1658.5 943.6 L1659.9 943.9 L1661.4 944.1 L1662.9 944.4 L1664.4 944.6 L1665.8 944.8 L1667.3 945.1 L1668.8 945.3 L1670.3 945.5 L1671.8 945.7 L1673.3 945.8 L1674.8 946.0 L1676.3 946.1 L1677.8 946.2 L1679.2 946.3 L1680.7 946.4 L1682.2 946.5 L1683.7 946.6 L1685.2 946.6 L1686.7 946.7 L1688.2 946.7 L1689.7 946.8 L1691.2 946.8 L1692.7 946.9 L1694.2 946.9 L1695.7 946.9 L1697.2 947.0 L1698.7 947.0 L1700.2 947.0 L1701.7 947.1 L1703.2 947.1 L1704.7 947.1 L1706.2 947.1 L1707.7 947.2 L1709.2 947.2 L1710.7 947.2 L1712.2 947.2 L1713.7 947.2 L1715.2 947.2 L1716.7 947.2 L1718.2 947.2 L1719.7 947.1 L1721.2 947.1 L1722.7 947.1 L1724.2 947.1 L1725.7 947.0 L1727.2 947.0 L1728.7 947.0 L1730.2 947.0 L1731.7 946.9 L1733.2 946.9 L1734.7 946.8 L1736.2 946.8 L1737.7 946.8 L1739.2 946.7 L1740.7 946.7 L1742.2 946.6 L1743.7 946.6 L1745.2 946.5 L1746.7 946.5 L1748.2 946.4 L1749.7 946.4 L1751.2 946.3 L1752.7 946.3 L1754.2 946.2 L1755.7 946.1 L1757.2 946.1 L1758.7 946.0 L1760.2 945.9 L1761.7 945.9 L1763.2 945.8 L1764.7 945.7 L1766.2 945.7 L1767.7 945.6 L1769.2 945.6 L1770.7 945.5 L1772.2 945.4 L1773.7 945.4 L1775.2 945.3 L1776.7 945.3 L1778.2 945.3 L1779.7 945.2 L1781.2 945.2 L1782.7 945.1 L1784.2 945.1 L1785.7 945.1 L1787.2 945.0 L1788.7 945.0 L1790.2 945.0 L1791.7 944.9 L1793.2 944.9 L1794.7 944.9 L1796.2 944.8 L1797.7 944.8 L1799.2 944.8 L1800.7 944.7 L1802.2 944.7 L1803.7 944.7 L1805.2 944.7 L1806.7 944.7 L1808.2 944.6 L1809.7 944.6 L1811.2 944.6 L1812.7 944.6 L1814.2 944.6 L1815.7 944.6 L1817.2 944.6 L1818.7 944.5 L1820.2 944.5 L1821.7 944.5 L1823.2 944.5 L1824.7 944.5 L1826.2 944.5 L1827.7 944.5 L1829.2 944.5 L1830.7 944.5 L1832.2 944.5 L1833.7 944.5 L1835.2 944.4 L1836.7 944.4 L1838.2 944.4 L1839.7 944.4 L1841.2 944.4 L1842.7 944.4 L1844.2 944.4 L1845.7 944.4 L1847.2 944.4 L1848.7 944.4 L1850.2 944.4 L1851.7 944.4 L1853.2 944.4 L1854.7 944.4 L1856.2 944.4 L1857.7 944.4 L1859.2 944.4 L1860.7 944.4 L1862.2 944.4 L1863.7 944.4 L1865.2 944.4 L1866.7 944.4 L1868.7 944.4 L1870.7 944.4 L1872.7 944.4 L1874.7 944.4 L1876.7 944.4 L1878.7 944.4 L1880.7 944.4 L1882.7 944.4 L1884.7 944.4 L1886.7 944.4 L1888.7 944.4 L1890.7 944.4 L1892.7 944.4 L1894.7 944.4 L1896.7 944.4 L1898.7 944.4 L1900.7 944.4 L1902.7 944.4 L1904.7 944.4 L1906.7 944.4 L1908.7 944.4 L1910.7 944.4 L1912.7 944.4 L1914.7 944.4 L1916.7 944.4 L1918.7 944.4 L1920.7 944.4 L1922.7 944.4 L1924.2 944.4"/>
<path class="cv" stroke="#1ee61e" d="M1503.5 906.2 L1504.4 905.0 L1505.2 903.8 L1506.2 902.6 L1507.1 901.5 L1508.1 900.5 L1509.2 899.6 L1510.4 898.7 L1511.6 897.9 L1512.9 897.2 L1514.2 896.6 L1515.6 896.1 L1517.0 895.7 L1518.4 895.4 L1519.9 895.2 L1521.3 895.1 L1523.3 895.1 L1524.8 895.2 L1526.2 895.3 L1527.7 895.6 L1529.2 895.8 L1530.6 896.2 L1532.1 896.5 L1533.5 896.9 L1534.9 897.4 L1536.3 897.9 L1537.7 898.4 L1539.1 898.9 L1540.5 899.5 L1541.9 900.1 L1543.2 900.7 L1544.6 901.4 L1545.9 902.0 L1547.3 902.7 L1548.6 903.4 L1549.9 904.1 L1551.3 904.8 L1552.6 905.5 L1553.9 906.2 L1555.2 906.9 L1556.5 907.6 L1557.9 908.3 L1559.2 909.0 L1560.5 909.8 L1561.8 910.5 L1563.1 911.2 L1564.4 912.0 L1565.7 912.7 L1567.0 913.4 L1568.3 914.1 L1569.6 914.9 L1571.0 915.6 L1572.3 916.3 L1573.6 917.0 L1574.9 917.8 L1576.2 918.5 L1577.5 919.2 L1578.8 919.9 L1580.1 920.7 L1581.5 921.4 L1582.8 922.1 L1584.1 922.8 L1585.4 923.6 L1586.7 924.3 L1588.0 925.0 L1589.3 925.8 L1590.6 926.5 L1592.0 927.2 L1593.3 927.9 L1594.6 928.6 L1595.9 929.3 L1597.2 930.0 L1598.6 930.7 L1599.9 931.4 L1601.2 932.1 L1602.6 932.8 L1603.9 933.5 L1605.2 934.1 L1606.6 934.8 L1607.9 935.4 L1609.3 936.1 L1610.6 936.7 L1612.0 937.4 L1613.4 938.0 L1614.7 938.6 L1616.1 939.2 L1617.5 939.8 L1618.9 940.3 L1620.3 940.9 L1621.7 941.4 L1623.1 942.0 L1624.5 942.5 L1625.9 943.0 L1627.3 943.4 L1628.7 943.9 L1630.2 944.3 L1631.6 944.8 L1633.0 945.2 L1634.5 945.5 L1635.9 945.9 L1637.4 946.3 L1638.9 946.6 L1640.3 946.9 L1641.8 947.2 L1643.3 947.5 L1644.7 947.8 L1646.2 948.1 L1647.7 948.4 L1649.2 948.6 L1650.6 948.8 L1652.1 949.1 L1653.6 949.3 L1655.1 949.5 L1656.6 949.7 L1658.1 949.9 L1659.5 950.1 L1661.0 950.3 L1662.5 950.5 L1664.0 950.6 L1665.5 950.8 L1667.0 951.0 L1668.5 951.2 L1670.0 951.3 L1671.5 951.5 L1672.9 951.6 L1674.4 951.8 L1675.9 951.9 L1677.4 952.0 L1678.9 952.1 L1680.4 952.2 L1681.9 952.3 L1683.4 952.3 L1684.9 952.4 L1686.4 952.4 L1687.9 952.5 L1689.4 952.5 L1690.9 952.5 L1692.4 952.6 L1693.9 952.6 L1695.4 952.6 L1696.9 952.6 L1698.4 952.7 L1699.9 952.7 L1701.4 952.7 L1702.9 952.7 L1704.4 952.7 L1705.9 952.8 L1707.4 952.8 L1708.9 952.8 L1710.4 952.8 L1712.4 952.8 L1713.9 952.8 L1715.4 952.8 L1716.9 952.7 L1718.4 952.7 L1719.9 952.7 L1721.4 952.6 L1722.9 952.6 L1724.4 952.5 L1725.9 952.5 L1727.4 952.4 L1728.9 952.4 L1730.4 952.3 L1731.9 952.2 L1733.4 952.1 L1734.9 952.1 L1736.3 952.0 L1737.8 951.9 L1739.3 951.8 L1740.8 951.7 L1742.3 951.7 L1743.8 951.6 L1745.3 951.5 L1746.8 951.4 L1748.3 951.4 L1749.8 951.3 L1751.3 951.2 L1752.8 951.1 L1754.3 951.0 L1755.8 950.9 L1757.3 950.8 L1758.8 950.7 L1760.3 950.7 L1761.8 950.6 L1763.3 950.5 L1764.8 950.4 L1766.3 950.3 L1767.8 950.2 L1769.3 950.1 L1770.8 950.0 L1772.3 949.9 L1773.8 949.8 L1775.3 949.8 L1776.8 949.7 L1778.3 949.6 L1779.7 949.5 L1781.2 949.4 L1782.7 949.3 L1784.2 949.2 L1785.7 949.2 L1787.2 949.1 L1788.7 949.0 L1790.2 948.9 L1791.7 948.8 L1793.2 948.7 L1794.7 948.7 L1796.2 948.6 L1797.7 948.5 L1799.2 948.4 L1800.7 948.3 L1802.2 948.3 L1803.7 948.2 L1805.2 948.1 L1806.7 948.0 L1808.2 948.0 L1809.7 947.9 L1811.2 947.8 L1812.7 947.8 L1814.2 947.7 L1815.7 947.6 L1817.2 947.6 L1818.7 947.5 L1820.2 947.4 L1821.7 947.4 L1823.2 947.3 L1824.7 947.3 L1826.2 947.2 L1827.7 947.2 L1829.2 947.1 L1830.7 947.0 L1832.2 947.0 L1833.6 946.9 L1835.1 946.9 L1836.6 946.8 L1838.1 946.8 L1839.6 946.7 L1841.1 946.7 L1842.6 946.6 L1844.1 946.6 L1845.6 946.5 L1847.1 946.5 L1848.6 946.4 L1850.1 946.4 L1851.6 946.3 L1853.1 946.3 L1854.6 946.3 L1856.1 946.2 L1857.6 946.2 L1859.1 946.1 L1860.6 946.1 L1862.1 946.1 L1863.6 946.0 L1865.1 946.0 L1866.6 945.9 L1868.1 945.9 L1869.6 945.9 L1871.1 945.8 L1872.6 945.8 L1874.1 945.8 L1875.6 945.7 L1877.1 945.7 L1878.6 945.7 L1880.1 945.6 L1881.6 945.6 L1883.1 945.6 L1884.6 945.6 L1886.1 945.5 L1887.6 945.5 L1889.1 945.5 L1890.6 945.4 L1892.1 945.4 L1893.6 945.4 L1895.1 945.4 L1896.6 945.3 L1898.1 945.3 L1899.6 945.3 L1901.1 945.3 L1902.6 945.2 L1904.1 945.2 L1905.6 945.2 L1907.1 945.2 L1908.6 945.1 L1910.1 945.1 L1911.6 945.1 L1913.1 945.1 L1914.6 945.1 L1916.1 945.0 L1917.6 945.0 L1919.1 945.0 L1920.6 945.0 L1922.1 945.0 L1923.6 944.9 L1925.1 944.9 L1926.6 944.9 L1928.1 944.9 L1929.6 944.9 L1931.1 944.8 L1932.6 944.8 L1934.1 944.8 L1935.6 944.8 L1937.1 944.8 L1938.6 944.8 L1940.1 944.7 L1941.6 944.7 L1943.1 944.7 L1944.6 944.7 L1946.0 944.7 L1947.5 944.7 L1949.0 944.6 L1950.5 944.6 L1952.0 944.6 L1953.5 944.6 L1955.0 944.6 L1956.5 944.6 L1958.0 944.5 L1959.5 944.5 L1961.0 944.5 L1962.5 944.5 L1964.0 944.5 L1965.5 944.5 L1967.0 944.4 L1968.5 944.4 L1970.0 944.4 L1971.5 944.4 L1973.0 944.4 L1974.5 944.4 L1976.0 944.4 L1977.5 944.4 L1979.0 944.3 L1980.5 944.3 L1982.0 944.3 L1983.5 944.3 L1985.0 944.3 L1986.5 944.3 L1988.0 944.3 L1989.5 944.3 L1991.0 944.3 L1992.5 944.2 L1994.0 944.2 L1995.5 944.2 L1997.0 944.2 L1998.5 944.2 L2000.0 944.2 L2001.5 944.2 L2003.0 944.2 L2004.5 944.2 L2006.0 944.2 L2007.5 944.2 L2009.0 944.2 L2010.5 944.2 L2012.0 944.2 L2013.5 944.1 L2015.0 944.1 L2016.5 944.1"/>
<path class="cv" stroke="#8c2428" stroke-width="2.6" d="M1503.5 809.4 L1504.0 810.8 L1504.4 812.2 L1504.9 813.7 L1505.3 815.1 L1505.8 816.5 L1506.3 817.9 L1506.7 819.4 L1507.2 820.8 L1507.7 822.2 L1508.1 823.6 L1508.6 825.1 L1509.1 826.5 L1509.5 827.9 L1510.0 829.3 L1510.5 830.8 L1510.9 832.2 L1511.4 833.6 L1511.9 835.0 L1512.3 836.5 L1512.8 837.9 L1513.3 839.3 L1513.7 840.7 L1514.2 842.2 L1514.7 843.6 L1515.1 845.0 L1515.6 846.4 L1516.1 847.8 L1516.6 849.3 L1517.1 850.7 L1517.6 852.1 L1518.1 853.5 L1518.5 854.9 L1519.1 856.3 L1519.6 857.7 L1520.1 859.2 L1520.6 860.6 L1521.1 862.0 L1521.6 863.4 L1522.2 864.8 L1522.7 866.2 L1523.2 867.6 L1523.8 869.0 L1524.4 870.4 L1524.9 871.7 L1525.5 873.1 L1526.1 874.5 L1526.7 875.9 L1527.3 877.2 L1528.0 878.6 L1528.6 879.9 L1529.3 881.3 L1529.9 882.6 L1530.6 884.0 L1531.3 885.3 L1532.0 886.6 L1532.7 888.0 L1533.4 889.3 L1534.1 890.6 L1534.8 891.9 L1535.5 893.3 L1536.2 894.6 L1536.9 895.9 L1537.7 897.2 L1538.4 898.5 L1539.1 899.8 L1539.8 901.1 L1540.6 902.4 L1541.3 903.7 L1542.1 905.0 L1542.9 906.3 L1543.6 907.6 L1544.4 908.9 L1545.2 910.2 L1546.0 911.4 L1546.8 912.7 L1547.6 913.9 L1548.4 915.2 L1549.3 916.4 L1550.2 917.6 L1551.1 918.8 L1552.0 920.0 L1552.9 921.2 L1553.9 922.3 L1554.9 923.5 L1555.8 924.6 L1556.8 925.7 L1557.8 926.8 L1558.9 927.9 L1559.9 929.0 L1561.0 930.1 L1562.0 931.1 L1563.1 932.2 L1564.2 933.2 L1565.3 934.2 L1566.4 935.2 L1567.6 936.1 L1568.7 937.1 L1569.9 938.0 L1571.1 939.0 L1572.3 939.9 L1573.4 940.8 L1574.7 941.7 L1575.9 942.5 L1577.1 943.4 L1578.3 944.3 L1579.6 945.1 L1580.8 945.9 L1582.1 946.7 L1583.4 947.5 L1584.7 948.3 L1585.9 949.0 L1587.2 949.8 L1588.5 950.5 L1589.9 951.2 L1591.2 951.9 L1592.5 952.6 L1593.9 953.3 L1595.2 953.9 L1596.6 954.6 L1597.9 955.2 L1599.3 955.8 L1600.7 956.4 L1602.0 957.0 L1603.4 957.6 L1604.8 958.1 L1606.2 958.7 L1607.6 959.2 L1609.0 959.7 L1610.4 960.3 L1611.8 960.8 L1613.2 961.3 L1614.7 961.7 L1616.1 962.2 L1617.5 962.7 L1618.9 963.1 L1620.4 963.6 L1621.8 964.0 L1623.3 964.4 L1624.7 964.8 L1626.2 965.1 L1627.6 965.5 L1629.1 965.8 L1630.5 966.1 L1632.0 966.3 L1633.5 966.6 L1635.0 966.8 L1636.5 967.1 L1637.9 967.3 L1639.4 967.5 L1640.9 967.6 L1642.4 967.8 L1643.9 967.9 L1645.4 968.1 L1646.9 968.2 L1648.4 968.3 L1649.9 968.4 L1651.4 968.5 L1652.9 968.5 L1654.4 968.6 L1655.9 968.6 L1657.4 968.7 L1658.9 968.7 L1660.4 968.7 L1662.4 968.7 L1663.9 968.7 L1665.3 968.7 L1666.8 968.6 L1668.3 968.6 L1669.8 968.6 L1671.3 968.5 L1672.8 968.5 L1674.3 968.4 L1675.8 968.3 L1677.3 968.3 L1678.8 968.2 L1680.3 968.1 L1681.8 968.0 L1683.3 967.9 L1684.8 967.7 L1686.3 967.6 L1687.8 967.5 L1689.3 967.3 L1690.8 967.2 L1692.3 967.0 L1693.8 966.9 L1695.2 966.7 L1696.7 966.6 L1698.2 966.4 L1699.7 966.2 L1701.2 966.1 L1702.7 965.9 L1704.2 965.7 L1705.7 965.5 L1707.2 965.4 L1708.7 965.2 L1710.1 965.0 L1711.6 964.8 L1713.1 964.6 L1714.6 964.4 L1716.1 964.2 L1717.6 964.0 L1719.1 963.8 L1720.5 963.7 L1722.0 963.5 L1723.5 963.3 L1725.0 963.1 L1726.5 962.9 L1728.0 962.7 L1729.5 962.5 L1731.0 962.3 L1732.4 962.1 L1733.9 961.9 L1735.4 961.7 L1736.9 961.5 L1738.4 961.3 L1739.9 961.2 L1741.4 961.0 L1742.9 960.8 L1744.3 960.6 L1745.8 960.4 L1747.3 960.2 L1748.8 960.0 L1750.3 959.8 L1751.8 959.7 L1753.3 959.5 L1754.8 959.3 L1756.2 959.1 L1757.7 958.9 L1759.2 958.8 L1760.7 958.6 L1762.2 958.4 L1763.7 958.3 L1765.2 958.1 L1766.7 957.9 L1768.2 957.8 L1769.6 957.6 L1771.1 957.5 L1772.6 957.3 L1774.1 957.1 L1775.6 957.0 L1777.1 956.8 L1778.6 956.7 L1780.1 956.5 L1781.6 956.4 L1783.1 956.3 L1784.6 956.1 L1786.1 956.0 L1787.5 955.9 L1789.0 955.7 L1790.5 955.6 L1792.0 955.5 L1793.5 955.4 L1795.0 955.3 L1796.5 955.1 L1798.0 955.0 L1799.5 954.9 L1801.0 954.8 L1802.5 954.7 L1804.0 954.6 L1805.5 954.5 L1807.0 954.4 L1808.5 954.3 L1810.0 954.2 L1811.5 954.1 L1813.0 954.0 L1814.5 953.9 L1816.0 953.8 L1817.5 953.7 L1818.9 953.6 L1820.4 953.4 L1821.9 953.3 L1823.4 953.2 L1824.9 953.1 L1826.4 952.9 L1827.9 952.8 L1829.4 952.6 L1830.9 952.5 L1832.4 952.4 L1833.9 952.2 L1835.4 952.1 L1836.9 951.9 L1838.4 951.8 L1839.8 951.6 L1841.3 951.5 L1842.8 951.3 L1844.3 951.2 L1845.8 951.1 L1847.3 950.9 L1848.8 950.8 L1850.3 950.6 L1851.8 950.5 L1853.3 950.4 L1854.8 950.3 L1856.3 950.1 L1857.8 950.0 L1859.3 949.9 L1860.7 949.8 L1862.2 949.7 L1863.7 949.6 L1865.2 949.4 L1866.7 949.3 L1868.2 949.2 L1869.7 949.1 L1871.2 949.0 L1872.7 948.9 L1874.2 948.8 L1875.7 948.7 L1877.2 948.6 L1878.7 948.6 L1880.2 948.5 L1881.7 948.4 L1883.2 948.3 L1884.7 948.2 L1886.2 948.1 L1887.7 948.0 L1889.2 947.9 L1890.7 947.8 L1892.2 947.8 L1893.7 947.7 L1895.2 947.6 L1896.7 947.5 L1898.2 947.4 L1899.6 947.3 L1901.1 947.3 L1902.6 947.2 L1904.1 947.1 L1905.6 947.0 L1907.1 947.0 L1908.6 946.9 L1910.1 946.8 L1911.6 946.7 L1913.1 946.7 L1914.6 946.6 L1916.1 946.5 L1917.6 946.5 L1919.1 946.4 L1920.6 946.3 L1922.1 946.3 L1923.6 946.2 L1925.1 946.1 L1926.6 946.1 L1928.1 946.0 L1929.6 945.9 L1931.1 945.9 L1932.6 945.8 L1934.1 945.7 L1935.6 945.7 L1937.1 945.6 L1938.6 945.6 L1940.1 945.5 L1941.6 945.4 L1943.1 945.4 L1944.6 945.3 L1946.1 945.3 L1947.6 945.2 L1949.1 945.2 L1950.6 945.1 L1952.1 945.1 L1953.6 945.0 L1955.1 944.9 L1956.6 944.9 L1958.1 944.8 L1959.6 944.8 L1961.1 944.7 L1962.6 944.7 L1964.1 944.6 L1965.6 944.6 L1967.0 944.5 L1968.5 944.5 L1970.0 944.4 L1971.5 944.4 L1973.0 944.3 L1974.5 944.3 L1976.0 944.3 L1977.5 944.2 L1979.0 944.2 L1980.5 944.1 L1982.0 944.1 L1983.5 944.0 L1985.0 944.0 L1986.5 943.9 L1988.0 943.9 L1989.5 943.9 L1991.0 943.8 L1992.5 943.8 L1994.0 943.7 L1995.5 943.7 L1997.0 943.6 L1998.5 943.6 L2000.0 943.6 L2001.5 943.5 L2003.0 943.5 L2004.5 943.4 L2006.0 943.4 L2007.5 943.4 L2009.0 943.3 L2010.5 943.3 L2012.0 943.3 L2013.5 943.2 L2015.0 943.2 L2016.5 943.2"/>
<path class="cv" stroke="#bcbcbc" stroke-width="2.05" d="M1505.1 702.0 L1505.1 703.5 L1505.1 705.0 L1505.1 706.5 L1505.1 708.0 L1505.2 709.5 L1505.2 711.0 L1505.2 712.5 L1505.2 714.0 L1505.2 715.5 L1505.2 717.0 L1505.2 718.5 L1505.2 720.0 L1505.2 721.5 L1505.2 723.0 L1505.2 724.5 L1505.2 726.0 L1505.2 727.5 L1505.2 729.0 L1505.2 730.5 L1505.2 732.0 L1505.2 733.5 L1505.2 735.0 L1505.2 736.5 L1505.2 738.0 L1505.2 739.5 L1505.2 741.0 L1505.2 742.5 L1505.2 744.0 L1505.2 745.5 L1505.2 747.0 L1505.2 748.5 L1505.2 750.0 L1505.2 751.5 L1505.2 753.0 L1505.2 754.5 L1505.2 756.0 L1505.2 757.5 L1505.2 759.0 L1505.2 760.5 L1505.2 762.0 L1505.2 763.5 L1505.2 765.0 L1505.2 766.5 L1505.2 768.0 L1505.2 769.5 L1505.2 771.0 L1505.2 772.5 L1505.2 774.0 L1505.3 775.5 L1505.3 777.0 L1505.3 778.5 L1505.3 780.0 L1505.3 781.5 L1505.3 783.0 L1505.3 784.5 L1505.3 786.0 L1505.3 787.5 L1505.3 789.0 L1505.3 790.5 L1505.3 792.0 L1505.3 793.5 L1505.3 795.0 L1505.3 796.5 L1505.3 798.0 L1505.3 799.5 L1505.3 801.0 L1505.3 802.5 L1505.3 804.0 L1505.3 805.5 L1505.3 807.0 L1505.3 808.5 L1505.3 810.0 L1505.3 811.5 L1505.3 813.0 L1505.4 814.5 L1505.4 816.0 L1505.4 817.5 L1505.4 819.0 L1505.4 820.5 L1505.4 822.0 L1505.4 823.5 L1505.4 825.0 L1505.4 826.5 L1505.4 828.0 L1505.4 829.5 L1505.4 831.0 L1505.4 832.5 L1505.4 834.0 L1505.4 835.5 L1505.4 837.0 L1505.4 838.5 L1505.4 840.0 L1505.4 841.5 L1505.4 843.0 L1505.5 844.5 L1505.5 846.0 L1505.5 847.5 L1505.5 849.0 L1505.5 850.5 L1505.5 852.0 L1505.5 853.5 L1505.5 855.0 L1505.5 856.5 L1505.5 858.0 L1505.5 859.5 L1505.5 861.0 L1505.5 862.5 L1505.5 864.0 L1505.5 865.5 L1505.5 867.0 L1505.5 868.5 L1505.6 870.0 L1505.6 871.5 L1505.6 873.0 L1505.6 874.5 L1505.6 876.0 L1505.6 877.5 L1505.6 879.0 L1505.6 880.5 L1505.6 882.0 L1505.6 883.5 L1505.6 885.0 L1505.7 886.5 L1505.7 888.0 L1505.7 889.5 L1505.7 891.0 L1505.7 892.5 L1505.7 894.0 L1505.7 895.5 L1505.8 897.0 L1505.8 898.5 L1505.8 900.0 L1505.8 901.5 L1505.8 903.0 L1505.8 904.5 L1505.8 906.0 L1505.9 907.5 L1505.9 909.0 L1505.9 910.5 L1505.9 912.0 L1505.9 913.5 L1506.0 915.0 L1506.0 916.5 L1506.0 918.0 L1506.0 919.5 L1506.0 921.0 L1506.1 922.5 L1506.1 924.0 L1506.1 925.5 L1506.1 927.0 L1506.1 928.5 L1506.2 930.0 L1506.2 931.5 L1506.2 933.0 L1506.3 934.5 L1506.3 936.0 L1506.3 937.5 L1506.4 939.0 L1506.4 940.5 L1506.5 942.0 L1506.6 943.5 L1506.7 945.0 L1506.8 946.5 L1507.0 948.0 L1507.2 949.5 L1507.4 951.0 L1507.5 952.5 L1507.7 953.9 L1507.8 955.4 L1507.8 956.9 L1507.9 958.4 L1508.0 959.9 L1508.0 961.4 L1508.1 962.9 L1508.2 964.4 L1508.2 965.9 L1508.3 967.4 L1508.3 968.9 L1508.4 970.4 L1508.5 971.9 L1508.5 973.4 L1508.6 974.9 L1508.6 976.4 L1508.7 977.9 L1508.7 979.4 L1508.8 980.9 L1508.9 982.4 L1508.9 983.9 L1509.0 985.4 L1509.0 986.9 L1509.1 988.4 L1509.1 989.9 L1509.2 991.4 L1509.2 992.9 L1509.3 994.4 L1509.4 995.9 L1509.4 997.4 L1509.5 998.9 L1509.6 1000.4 L1509.6 1001.9 L1509.7 1003.4 L1509.7 1004.9 L1509.8 1006.4 L1509.9 1007.9 L1510.0 1009.4 L1510.0 1010.9 L1510.1 1012.4 L1510.2 1013.9 L1510.3 1015.4 L1510.3 1016.9 L1510.4 1018.4 L1510.5 1019.9 L1510.6 1021.4 L1510.7 1022.9 L1510.8 1024.4 L1510.8 1025.9 L1510.9 1027.4 L1511.0 1028.9 L1511.1 1030.4 L1511.2 1031.9 L1511.3 1033.4 L1511.4 1034.9 L1511.5 1036.3 L1511.6 1037.8 L1511.7 1039.3 L1511.8 1040.8 L1511.9 1042.3 L1512.0 1043.8 L1512.1 1045.3 L1512.3 1046.8 L1512.4 1048.3 L1512.5 1049.8 L1512.7 1051.3 L1512.8 1052.8 L1513.0 1054.3 L1513.1 1055.8 L1513.3 1057.3 L1513.4 1058.8 L1513.6 1060.3 L1513.8 1061.7 L1513.9 1063.2 L1514.1 1064.7 L1514.3 1066.2 L1514.5 1067.7 L1514.7 1069.2 L1515.0 1070.7 L1515.3 1072.1 L1515.6 1073.6 L1515.9 1075.1 L1516.2 1076.5 L1516.6 1078.0 L1516.9 1079.4 L1517.3 1080.9 L1517.8 1082.3 L1518.3 1083.7 L1518.8 1085.1 L1519.4 1086.5 L1520.0 1087.9 L1520.7 1089.2 L1521.5 1090.4 L1522.4 1091.6 L1523.4 1092.7 L1524.5 1093.5 L1525.8 1094.2 L1527.2 1094.5 L1529.0 1094.5 L1530.4 1094.2 L1531.7 1093.6 L1533.0 1092.9 L1534.3 1092.1 L1535.5 1091.2 L1536.6 1090.3 L1537.7 1089.3 L1538.8 1088.2 L1539.8 1087.1 L1540.8 1086.0 L1541.7 1084.8 L1542.6 1083.6 L1543.6 1082.5 L1544.5 1081.3 L1545.5 1080.1 L1546.4 1079.0 L1547.4 1077.8 L1548.4 1076.7 L1549.3 1075.5 L1550.3 1074.4 L1551.3 1073.3 L1552.3 1072.1 L1553.3 1071.0 L1554.2 1069.9 L1555.2 1068.8 L1556.3 1067.6 L1557.3 1066.5 L1558.3 1065.4 L1559.3 1064.4 L1560.4 1063.3 L1561.4 1062.2 L1562.4 1061.1 L1563.5 1060.1 L1564.5 1059.0 L1565.6 1057.9 L1566.7 1056.9 L1567.7 1055.8 L1568.8 1054.8 L1569.9 1053.7 L1571.0 1052.7 L1572.1 1051.7 L1573.2 1050.6 L1574.2 1049.6 L1575.3 1048.6 L1576.4 1047.5 L1577.5 1046.5 L1578.6 1045.5 L1579.7 1044.5 L1580.9 1043.5 L1582.0 1042.5 L1583.1 1041.5 L1584.2 1040.5 L1585.4 1039.5 L1586.5 1038.5 L1587.6 1037.6 L1588.8 1036.6 L1589.9 1035.6 L1591.1 1034.6 L1592.2 1033.7 L1593.3 1032.7 L1594.5 1031.8 L1595.7 1030.8 L1596.8 1029.9 L1598.0 1028.9 L1599.2 1028.0 L1600.4 1027.1 L1601.5 1026.2 L1602.8 1025.3 L1604.0 1024.4 L1605.2 1023.5 L1606.4 1022.6 L1607.6 1021.8 L1608.9 1020.9 L1610.1 1020.1 L1611.4 1019.3 L1612.6 1018.5 L1613.9 1017.7 L1615.2 1016.9 L1616.4 1016.1 L1617.7 1015.3 L1619.0 1014.5 L1620.3 1013.7 L1621.6 1013.0 L1622.9 1012.2 L1624.2 1011.5 L1625.5 1010.7 L1626.8 1010.0 L1628.1 1009.3 L1629.4 1008.6 L1630.7 1007.9 L1632.1 1007.2 L1633.4 1006.5 L1634.7 1005.8 L1636.1 1005.1 L1637.4 1004.5 L1638.8 1003.8 L1640.1 1003.2 L1641.5 1002.5 L1642.8 1001.9 L1644.2 1001.3 L1645.6 1000.7 L1647.0 1000.1 L1648.3 999.5 L1649.7 998.9 L1651.1 998.4 L1652.5 997.8 L1653.9 997.3 L1655.3 996.8 L1656.8 996.3 L1658.2 995.8 L1659.6 995.3 L1661.0 994.8 L1662.4 994.3 L1663.9 993.9 L1665.3 993.4 L1666.7 992.9 L1668.1 992.5 L1669.6 992.0 L1671.0 991.6 L1672.4 991.2 L1673.9 990.7 L1675.3 990.3 L1676.7 989.9 L1678.2 989.4 L1679.6 989.0 L1681.1 988.6 L1682.5 988.1 L1683.9 987.7 L1685.4 987.3 L1686.8 986.9 L1688.2 986.4 L1689.7 986.0 L1691.1 985.6 L1692.6 985.2 L1694.0 984.8 L1695.4 984.3 L1696.9 983.9 L1698.3 983.5 L1699.8 983.1 L1701.2 982.7 L1702.7 982.3 L1704.1 981.9 L1705.6 981.6 L1707.0 981.2 L1708.5 980.8 L1709.9 980.5 L1711.4 980.1 L1712.9 979.8 L1714.3 979.4 L1715.8 979.1 L1717.2 978.8 L1718.7 978.5 L1720.2 978.2 L1721.6 977.8 L1723.1 977.5 L1724.6 977.2 L1726.0 976.9 L1727.5 976.6 L1729.0 976.4 L1730.5 976.1 L1731.9 975.8 L1733.4 975.5 L1734.9 975.3 L1736.4 975.0 L1737.8 974.7 L1739.3 974.5 L1740.8 974.2 L1742.3 973.9 L1743.8 973.7 L1745.2 973.4 L1746.7 973.2 L1748.2 973.0 L1749.7 972.7 L1751.2 972.5 L1752.6 972.3 L1754.1 972.0 L1755.6 971.8 L1757.1 971.6 L1758.6 971.4 L1760.1 971.2 L1761.5 970.9 L1763.0 970.7 L1764.5 970.5 L1766.0 970.3 L1767.5 970.1 L1769.0 969.9 L1770.4 969.7 L1771.9 969.5 L1773.4 969.3 L1774.9 969.1 L1776.4 968.9 L1777.9 968.6 L1779.4 968.4 L1780.8 968.2 L1782.3 968.0 L1783.8 967.8 L1785.3 967.6 L1786.8 967.4 L1788.3 967.2 L1789.8 967.0 L1791.2 966.8 L1792.7 966.6 L1794.2 966.4 L1795.7 966.2 L1797.2 965.9 L1798.7 965.7 L1800.2 965.5 L1801.6 965.3 L1803.1 965.2 L1804.6 965.0 L1806.1 964.8 L1807.6 964.6 L1809.1 964.4 L1810.6 964.2 L1812.1 964.0 L1813.5 963.8 L1815.0 963.6 L1816.5 963.5 L1818.0 963.3 L1819.5 963.1 L1821.0 962.9 L1822.5 962.7 L1824.0 962.6 L1825.5 962.4 L1827.0 962.2 L1828.4 962.0 L1829.9 961.9 L1831.4 961.7 L1832.9 961.5 L1834.4 961.4 L1835.9 961.2 L1837.4 961.0 L1838.9 960.9 L1840.4 960.7 L1841.9 960.5 L1843.3 960.4 L1844.8 960.2 L1846.3 960.0 L1847.8 959.9 L1849.3 959.7 L1850.8 959.6 L1852.3 959.4 L1853.8 959.3 L1855.3 959.1 L1856.8 959.0 L1858.3 958.9 L1859.8 958.7 L1861.3 958.6 L1862.7 958.4 L1864.2 958.3 L1865.7 958.2 L1867.2 958.1 L1868.7 957.9 L1870.2 957.8 L1871.7 957.7 L1873.2 957.6 L1874.7 957.4 L1876.2 957.3 L1877.7 957.2 L1879.2 957.1 L1880.7 956.9 L1882.2 956.8 L1883.7 956.7 L1885.2 956.6 L1886.7 956.5 L1888.2 956.4 L1889.7 956.3 L1891.2 956.2 L1892.6 956.0 L1894.1 955.9 L1895.6 955.8 L1897.1 955.7 L1898.6 955.6 L1900.1 955.5 L1901.6 955.4 L1903.1 955.3 L1904.6 955.2 L1906.1 955.1 L1907.6 955.0 L1909.1 954.9 L1910.6 954.8 L1912.1 954.8 L1913.6 954.7 L1915.1 954.6 L1916.6 954.5 L1918.1 954.4 L1919.6 954.3 L1921.1 954.2 L1922.6 954.1 L1924.1 954.1 L1925.6 954.0 L1927.1 953.9 L1928.6 953.8 L1930.1 953.7 L1931.6 953.7 L1933.1 953.6 L1934.6 953.5 L1936.1 953.4 L1937.6 953.4 L1939.1 953.3 L1940.6 953.2 L1942.1 953.1 L1943.6 953.1 L1945.1 953.0 L1946.6 952.9 L1948.1 952.8 L1949.5 952.8 L1951.0 952.7 L1952.5 952.6 L1954.0 952.6 L1955.5 952.5 L1957.0 952.4 L1958.5 952.4 L1960.0 952.3 L1961.5 952.3 L1963.0 952.2 L1964.5 952.1 L1966.0 952.1 L1967.5 952.0 L1969.0 952.0 L1970.5 951.9 L1972.0 951.8 L1973.5 951.8 L1975.0 951.7 L1976.5 951.7 L1978.0 951.6 L1979.5 951.6 L1981.0 951.5 L1982.5 951.4 L1984.0 951.4 L1985.5 951.3 L1987.0 951.3 L1988.5 951.2 L1990.0 951.2 L1991.5 951.1 L1993.0 951.1 L1994.5 951.0 L1996.0 951.0 L1997.5 950.9 L1999.0 950.9 L2000.5 950.8 L2002.0 950.8 L2003.5 950.7 L2005.0 950.7 L2006.5 950.7 L2008.0 950.6 L2009.5 950.6 L2011.0 950.5 L2012.5 950.5 L2014.0 950.4 L2015.5 950.4 L2016.5 950.4"/>
<path class="cv" stroke="#f8f824" d="M1503.5 944.6 L1503.9 943.2 L1504.2 941.7 L1504.5 940.3 L1504.7 938.8 L1504.8 937.3 L1505.0 935.8 L1505.1 934.3 L1505.1 932.8 L1505.2 931.3 L1505.3 929.8 L1505.4 928.3 L1505.4 926.8 L1505.5 925.3 L1505.6 923.8 L1505.6 922.3 L1505.7 920.8 L1505.7 919.3 L1505.8 917.8 L1505.9 916.3 L1505.9 914.8 L1506.0 913.3 L1506.1 911.8 L1506.1 910.3 L1506.2 908.8 L1506.3 907.3 L1506.3 905.9 L1506.4 904.4 L1506.5 902.9 L1506.5 901.4 L1506.6 899.9 L1506.6 898.4 L1506.7 896.9 L1506.8 895.4 L1506.8 893.9 L1506.9 892.4 L1506.9 890.9 L1507.0 889.4 L1507.1 887.9 L1507.1 886.4 L1507.2 884.9 L1507.2 883.4 L1507.3 881.9 L1507.3 880.4 L1507.4 878.9 L1507.4 877.4 L1507.5 875.9 L1507.5 874.4 L1507.6 872.9 L1507.6 871.4 L1507.7 869.9 L1507.7 868.4 L1507.8 866.9 L1507.8 865.4 L1507.9 863.9 L1507.9 862.4 L1508.0 860.9 L1508.0 859.4 L1508.1 857.9 L1508.1 856.4 L1508.2 854.9 L1508.2 853.4 L1508.3 851.9 L1508.3 850.4 L1508.4 848.9 L1508.4 847.4 L1508.5 845.9 L1508.6 844.4 L1508.6 842.9 L1508.7 841.4 L1508.8 839.9 L1508.8 838.4 L1508.9 836.9 L1509.0 835.4 L1509.1 833.9 L1509.2 832.4 L1509.3 830.9 L1509.3 829.4 L1509.4 827.9 L1509.5 826.4 L1509.6 824.9 L1509.6 823.4 L1509.7 821.9 L1509.8 820.4 L1509.8 818.9 L1509.9 817.4 L1509.9 815.9 L1509.9 814.4 L1510.0 812.9 L1510.0 811.4 L1510.1 809.9 L1510.1 808.4 L1510.1 806.9 L1510.2 805.4 L1510.2 803.9 L1510.2 802.4 L1510.2 800.9 L1510.3 799.4 L1510.3 797.9 L1510.3 796.5 L1510.4 795.0 L1510.4 793.5 L1510.4 792.0 L1510.4 790.5 L1510.5 789.0 L1510.5 787.5 L1510.5 786.0 L1510.6 784.5 L1510.6 783.0 L1510.6 781.5 L1510.6 780.0 L1510.7 778.5 L1510.7 777.0 L1510.7 775.5 L1510.7 774.0 L1510.8 772.5 L1510.8 771.0 L1510.8 769.5 L1510.9 768.0 L1510.9 766.5 L1510.9 765.0 L1511.0 763.5 L1511.0 762.0 L1511.0 760.5 L1511.1 759.0 L1511.1 757.5 L1511.1 756.0 L1511.2 754.5 L1511.2 753.0 L1511.2 751.5 L1511.3 750.0 L1511.3 748.5 L1511.4 747.0 L1511.4 745.5 L1511.4 744.0 L1511.5 742.5 L1511.5 741.0 L1511.5 739.5 L1511.6 738.0 L1511.6 736.5 L1511.7 735.0 L1511.7 733.5 L1511.7 732.0 L1511.8 730.5 L1511.8 729.0 L1511.9 727.5 L1511.9 726.0 L1512.0 724.5 L1512.0 723.0 L1512.0 721.5 L1512.1 720.0 L1512.1 718.5 L1512.2 717.0 L1512.2 715.5 L1512.3 714.0 L1512.3 712.5 L1512.4 711.0 L1512.5 709.5 L1512.5 708.0 L1512.6 706.5 L1512.6 705.0 L1512.7 703.5 L1512.8 702.0 L1512.8 700.5 L1512.9 699.0 L1512.9 697.5 L1513.0 696.0 L1513.1 694.5 L1513.1 693.0 L1513.2 691.5 L1513.3 690.0 L1513.3 688.5 L1513.4 687.0 L1513.5 685.5 L1513.6 684.0 L1513.6 682.5 L1513.7 681.0 L1513.8 679.5 L1513.9 678.0 L1513.9 676.5 L1514.0 675.0 L1514.1 673.5 L1514.2 672.0 L1514.2 670.5 L1514.3 669.0 L1514.4 667.5 L1514.5 666.1 L1514.6 664.6 L1514.7 663.1 L1514.7 661.6 L1514.8 660.1 L1514.9 658.6 L1515.0 657.1 L1515.1 655.6 L1515.1 654.1 L1515.2 652.6 L1515.3 651.1 L1515.4 649.6 L1515.5 648.1 L1515.5 646.6 L1515.6 645.1 L1515.7 643.6 L1515.8 642.1 L1515.9 640.6 L1516.0 639.1 L1516.1 637.6 L1516.1 636.1 L1516.2 634.6 L1516.3 633.1 L1516.4 631.6 L1516.5 630.1 L1516.7 628.6 L1516.8 627.1 L1516.9 625.6 L1517.0 624.1 L1517.2 622.6 L1517.3 621.1 L1517.4 619.7 L1517.6 618.2 L1517.7 616.7 L1517.9 615.2 L1518.1 613.7 L1518.3 612.2 L1518.5 610.7 L1518.7 609.2 L1519.0 607.8 L1519.3 606.3 L1519.6 605.0 L1520.2 603.7 L1521.6 604.2 L1522.0 605.3 L1522.4 606.7 L1522.7 608.1 L1523.0 609.6 L1523.2 611.1 L1523.4 612.6 L1523.6 614.0 L1523.8 615.5 L1524.0 617.0 L1524.2 618.5 L1524.4 620.0 L1524.5 621.5 L1524.7 623.0 L1524.9 624.5 L1525.0 626.0 L1525.2 627.4 L1525.4 628.9 L1525.5 630.4 L1525.7 631.9 L1525.9 633.4 L1526.0 634.9 L1526.2 636.4 L1526.3 637.9 L1526.5 639.4 L1526.6 640.9 L1526.8 642.4 L1526.9 643.8 L1527.1 645.3 L1527.2 646.8 L1527.4 648.3 L1527.5 649.8 L1527.7 651.3 L1527.8 652.8 L1527.9 654.3 L1528.1 655.8 L1528.2 657.3 L1528.4 658.8 L1528.5 660.3 L1528.6 661.8 L1528.8 663.3 L1528.9 664.8 L1529.0 666.2 L1529.1 667.7 L1529.3 669.2 L1529.4 670.7 L1529.5 672.2 L1529.6 673.7 L1529.8 675.2 L1529.9 676.7 L1530.0 678.2 L1530.1 679.7 L1530.3 681.2 L1530.4 682.7 L1530.5 684.2 L1530.6 685.7 L1530.7 687.2 L1530.9 688.7 L1531.0 690.2 L1531.1 691.7 L1531.2 693.2 L1531.4 694.6 L1531.5 696.1 L1531.6 697.6 L1531.7 699.1 L1531.8 700.6 L1532.0 702.1 L1532.1 703.6 L1532.2 705.1 L1532.3 706.6 L1532.4 708.1 L1532.6 709.6 L1532.7 711.1 L1532.8 712.6 L1532.9 714.1 L1533.1 715.6 L1533.2 717.1 L1533.3 718.6 L1533.5 720.1 L1533.6 721.5 L1533.7 723.0 L1533.8 724.5 L1534.0 726.0 L1534.1 727.5 L1534.2 729.0 L1534.4 730.5 L1534.5 732.0 L1534.6 733.5 L1534.7 735.0 L1534.9 736.5 L1535.0 738.0 L1535.1 739.5 L1535.3 741.0 L1535.4 742.5 L1535.5 744.0 L1535.6 745.5 L1535.8 746.9 L1535.9 748.4 L1536.0 749.9 L1536.2 751.4 L1536.3 752.9 L1536.4 754.4 L1536.5 755.9 L1536.7 757.4 L1536.8 758.9 L1536.9 760.4 L1537.1 761.9 L1537.2 763.4 L1537.3 764.9 L1537.4 766.4 L1537.6 767.9 L1537.7 769.4 L1537.8 770.9 L1537.9 772.4 L1538.1 773.8 L1538.2 775.3 L1538.3 776.8 L1538.4 778.3 L1538.6 779.8 L1538.7 781.3 L1538.8 782.8 L1538.9 784.3 L1539.1 785.8 L1539.2 787.3 L1539.3 788.8 L1539.4 790.3 L1539.6 791.8 L1539.7 793.3 L1539.8 794.8 L1540.0 796.3 L1540.1 797.8 L1540.2 799.2 L1540.4 800.7 L1540.5 802.2 L1540.7 803.7 L1540.8 805.2 L1540.9 806.7 L1541.1 808.2 L1541.2 809.7 L1541.4 811.2 L1541.5 812.7 L1541.7 814.2 L1541.8 815.7 L1542.0 817.2 L1542.1 818.7 L1542.3 820.1 L1542.4 821.6 L1542.6 823.1 L1542.7 824.6 L1542.9 826.1 L1543.0 827.6 L1543.2 829.1 L1543.3 830.6 L1543.5 832.1 L1543.6 833.6 L1543.8 835.1 L1544.0 836.6 L1544.1 838.0 L1544.3 839.5 L1544.4 841.0 L1544.6 842.5 L1544.7 844.0 L1544.9 845.5 L1545.0 847.0 L1545.2 848.5 L1545.3 850.0 L1545.5 851.5 L1545.6 853.0 L1545.8 854.5 L1545.9 856.0 L1546.1 857.4 L1546.2 858.9 L1546.4 860.4 L1546.5 861.9 L1546.6 863.4 L1546.8 864.9 L1546.9 866.4 L1547.1 867.9 L1547.2 869.4 L1547.4 870.9 L1547.5 872.4 L1547.7 873.9 L1547.8 875.4 L1548.0 876.8 L1548.1 878.3 L1548.3 879.8 L1548.4 881.3 L1548.6 882.8 L1548.7 884.3 L1548.9 885.8 L1549.0 887.3 L1549.2 888.8 L1549.3 890.3 L1549.5 891.8 L1549.6 893.3 L1549.8 894.8 L1549.9 896.2 L1550.1 897.7 L1550.2 899.2 L1550.3 900.7 L1550.5 902.2 L1550.6 903.7 L1550.8 905.2 L1550.9 906.7 L1551.1 908.2 L1551.2 909.7 L1551.3 911.2 L1551.5 912.7 L1551.6 914.2 L1551.8 915.7 L1551.9 917.2 L1552.0 918.6 L1552.2 920.1 L1552.3 921.6 L1552.5 923.1 L1552.6 924.6 L1552.8 926.1 L1552.9 927.6 L1553.1 929.1 L1553.2 930.6 L1553.4 932.1 L1553.6 933.6 L1553.7 935.1 L1553.9 936.5 L1554.1 938.0 L1554.3 939.5 L1554.4 941.0 L1554.6 942.5 L1554.8 944.0 L1555.0 945.5 L1555.3 947.0 L1555.5 948.4 L1555.7 949.9 L1555.9 951.4 L1556.2 952.9 L1556.4 954.4 L1556.6 955.8 L1556.9 957.3 L1557.1 958.8 L1557.4 960.3 L1557.6 961.8 L1557.9 963.2 L1558.1 964.7 L1558.4 966.2 L1558.7 967.7 L1558.9 969.2 L1559.2 970.6 L1559.4 972.1 L1559.7 973.6 L1559.9 975.1 L1560.1 976.5 L1560.4 978.0 L1560.6 979.5 L1560.8 981.0 L1561.0 982.5 L1561.2 984.0 L1561.5 985.4 L1561.7 986.9 L1561.9 988.4 L1562.1 989.9 L1562.3 991.4 L1562.5 992.9 L1562.7 994.4 L1562.9 995.8 L1563.1 997.3 L1563.3 998.8 L1563.5 1000.3 L1563.7 1001.8 L1564.0 1003.3 L1564.2 1004.7 L1564.4 1006.2 L1564.7 1007.7 L1565.0 1009.2 L1565.2 1010.7 L1565.5 1012.1 L1565.8 1013.6 L1566.0 1015.1 L1566.3 1016.6 L1566.6 1018.0 L1566.9 1019.5 L1567.2 1021.0 L1567.5 1022.4 L1567.9 1023.9 L1568.2 1025.4 L1568.5 1026.8 L1568.8 1028.3 L1569.2 1029.7 L1569.5 1031.2 L1569.9 1032.7 L1570.2 1034.1 L1570.6 1035.6 L1571.0 1037.0 L1571.3 1038.5 L1571.7 1039.9 L1572.1 1041.4 L1572.5 1042.8 L1572.9 1044.3 L1573.3 1045.7 L1573.7 1047.2 L1574.1 1048.6 L1574.5 1050.0 L1575.0 1051.5 L1575.4 1052.9 L1575.8 1054.4 L1576.3 1055.8 L1576.7 1057.2 L1577.2 1058.6 L1577.6 1060.1 L1578.1 1061.5 L1578.6 1062.9 L1579.1 1064.3 L1579.5 1065.8 L1580.0 1067.2 L1580.5 1068.6 L1581.0 1070.0 L1581.6 1071.4 L1582.1 1072.8 L1582.6 1074.2 L1583.1 1075.6 L1583.7 1077.0 L1584.2 1078.4 L1584.7 1079.8 L1585.3 1081.2 L1585.8 1082.6 L1586.3 1084.0 L1586.9 1085.4 L1587.5 1086.8 L1588.0 1088.2 L1588.6 1089.6 L1589.3 1090.9 L1589.9 1092.3 L1590.6 1093.6 L1591.3 1094.9 L1592.1 1096.2 L1592.9 1097.5 L1593.8 1098.7 L1594.6 1099.9 L1595.5 1101.1 L1596.4 1102.3 L1597.4 1103.5 L1598.4 1104.6 L1599.4 1105.7 L1600.4 1106.8 L1601.5 1107.8 L1602.7 1108.7 L1603.9 1109.6 L1605.2 1110.4 L1606.5 1111.1 L1607.8 1111.9 L1609.1 1112.5 L1610.5 1113.2 L1611.8 1113.8 L1613.2 1114.3 L1614.6 1114.8 L1616.1 1115.3 L1617.5 1115.6 L1619.0 1116.0 L1620.5 1116.2 L1621.9 1116.5 L1623.4 1116.7 L1624.9 1116.8 L1626.4 1116.9 L1627.9 1116.9 L1629.4 1116.9 L1630.9 1116.8 L1632.4 1116.7 L1633.9 1116.5 L1635.3 1116.3 L1636.8 1116.0 L1638.3 1115.7 L1639.8 1115.4 L1641.2 1115.1 L1642.7 1114.8 L1644.2 1114.5 L1645.6 1114.1 L1647.1 1113.7 L1648.5 1113.2 L1649.9 1112.8 L1651.3 1112.2 L1652.7 1111.7 L1654.1 1111.1 L1655.5 1110.6 L1656.9 1110.0 L1658.2 1109.3 L1659.6 1108.7 L1660.9 1108.1 L1662.3 1107.5 L1663.7 1106.8 L1665.0 1106.2 L1666.4 1105.6 L1667.7 1104.9 L1669.1 1104.3 L1670.4 1103.6 L1671.8 1102.9 L1673.1 1102.3 L1674.4 1101.6 L1675.8 1100.9 L1677.1 1100.2 L1678.4 1099.4 L1679.7 1098.7 L1681.0 1098.0 L1682.3 1097.3 L1683.6 1096.5 L1685.0 1095.8 L1686.3 1095.0 L1687.5 1094.3 L1688.8 1093.5 L1690.1 1092.8 L1691.4 1092.0 L1692.7 1091.3 L1694.0 1090.5 L1695.3 1089.8 L1696.6 1089.0 L1697.9 1088.3 L1699.2 1087.5 L1700.5 1086.7 L1701.8 1086.0 L1703.1 1085.2 L1704.4 1084.5 L1705.7 1083.7 L1707.0 1082.9 L1708.2 1082.1 L1709.5 1081.4 L1710.8 1080.6 L1712.1 1079.8 L1713.4 1079.0 L1714.6 1078.2 L1715.9 1077.4 L1717.2 1076.7 L1718.5 1075.9 L1719.8 1075.1 L1721.1 1074.3 L1722.3 1073.6 L1723.6 1072.8 L1724.9 1072.0 L1726.2 1071.3 L1727.5 1070.5 L1728.8 1069.7 L1730.1 1069.0 L1731.4 1068.3 L1732.7 1067.5 L1734.0 1066.8 L1735.3 1066.0 L1736.6 1065.3 L1737.9 1064.6 L1739.2 1063.8 L1740.5 1063.1 L1741.9 1062.4 L1743.2 1061.7 L1744.5 1060.9 L1745.8 1060.2 L1747.1 1059.5 L1748.4 1058.8 L1749.8 1058.1 L1751.1 1057.3 L1752.4 1056.6 L1753.7 1055.9 L1755.0 1055.2 L1756.3 1054.5 L1757.7 1053.8 L1759.0 1053.1 L1760.3 1052.4 L1761.6 1051.6 L1762.9 1050.9 L1764.3 1050.2 L1765.6 1049.5 L1766.9 1048.8 L1768.2 1048.1 L1769.6 1047.4 L1770.9 1046.7 L1772.2 1046.0 L1773.5 1045.3 L1774.9 1044.6 L1776.2 1043.9 L1777.5 1043.2 L1778.8 1042.5 L1780.2 1041.8 L1781.5 1041.1 L1782.8 1040.4 L1784.2 1039.7 L1785.5 1039.0 L1786.8 1038.3 L1788.2 1037.6 L1789.5 1037.0 L1790.8 1036.3 L1792.2 1035.6 L1793.5 1034.9 L1794.8 1034.2 L1796.2 1033.6 L1797.5 1032.9 L1798.8 1032.2 L1800.2 1031.5 L1801.5 1030.9 L1802.9 1030.2 L1804.2 1029.5 L1805.6 1028.9 L1806.9 1028.2 L1808.3 1027.6 L1809.6 1026.9 L1811.0 1026.3 L1812.4 1025.7 L1813.7 1025.1 L1815.1 1024.5 L1816.5 1023.9 L1817.9 1023.4 L1819.3 1022.8 L1820.7 1022.2 L1822.1 1021.7 L1823.5 1021.1 L1824.9 1020.6 L1826.3 1020.1 L1827.7 1019.5 L1829.1 1019.0 L1830.5 1018.5 L1831.9 1018.0 L1833.3 1017.5 L1834.7 1017.0 L1836.1 1016.5 L1837.5 1016.0 L1839.0 1015.5 L1840.4 1015.0 L1841.8 1014.5 L1843.2 1014.0 L1844.6 1013.6 L1846.0 1013.1 L1847.5 1012.6 L1848.9 1012.1 L1850.3 1011.6 L1851.7 1011.2 L1853.2 1010.7 L1854.6 1010.2 L1856.0 1009.7 L1857.4 1009.3 L1858.8 1008.8 L1860.3 1008.3 L1861.7 1007.8 L1863.1 1007.4 L1864.5 1006.9 L1866.0 1006.4 L1867.4 1005.9 L1868.8 1005.5 L1870.2 1005.0 L1871.7 1004.5 L1873.1 1004.1 L1874.5 1003.6 L1875.9 1003.1 L1877.4 1002.7 L1878.8 1002.2 L1880.2 1001.7 L1881.6 1001.3 L1883.1 1000.8 L1884.5 1000.3 L1885.9 999.9 L1887.3 999.4 L1888.8 999.0 L1890.2 998.5 L1891.6 998.1 L1893.1 997.6 L1894.5 997.2 L1895.9 996.7 L1897.4 996.3 L1898.8 995.8 L1900.2 995.4 L1901.7 995.0 L1903.1 994.5 L1904.5 994.1 L1906.0 993.7 L1907.4 993.2 L1908.8 992.8 L1910.3 992.4 L1911.7 992.0 L1913.2 991.6 L1914.6 991.2 L1916.1 990.8 L1917.5 990.4 L1918.9 990.0 L1920.4 989.6 L1921.8 989.2 L1923.3 988.8 L1924.7 988.4 L1926.2 988.0 L1927.6 987.6 L1929.1 987.2 L1930.5 986.8 L1932.0 986.4 L1933.4 986.1 L1934.9 985.7 L1936.3 985.3 L1937.8 984.9 L1939.2 984.6 L1940.7 984.2 L1942.1 983.8 L1943.6 983.4 L1945.0 983.1 L1946.5 982.7 L1948.0 982.4 L1949.4 982.0 L1950.9 981.7 L1952.3 981.3 L1953.8 981.0 L1955.3 980.6 L1956.7 980.3 L1958.2 979.9 L1959.6 979.6 L1961.1 979.3 L1962.6 978.9 L1964.0 978.6 L1965.5 978.3 L1966.9 977.9 L1968.4 977.6 L1969.9 977.3 L1971.3 977.0 L1972.8 976.7 L1974.3 976.4 L1975.7 976.0 L1977.2 975.7 L1978.7 975.4 L1980.1 975.1 L1981.6 974.8 L1983.1 974.5 L1984.6 974.2 L1986.0 973.9 L1987.5 973.6 L1989.0 973.3 L1990.4 973.0 L1991.9 972.7 L1993.4 972.5 L1994.9 972.2 L1996.3 971.9 L1997.8 971.6 L1999.3 971.3 L2000.7 971.1 L2002.2 970.8 L2003.7 970.5 L2005.2 970.2 L2006.6 970.0 L2008.1 969.7 L2009.6 969.5 L2011.1 969.2 L2012.6 968.9 L2014.0 968.7 L2015.5 968.4 L2016.5 968.3"/>
<path class="ax" stroke="#303030" stroke-width="1.4" stroke-opacity="0.62" d="M1496.50 944.60 H2017.10"/>
<path class="ax" stroke="#6c6c6c" stroke-width="1.3" d="M1503.50 597.50 V1118.45"/>
<path class="ax tick" d="M1503.50 1117.85 h-7.0 M1503.50 1088.97 h-4.0 M1503.50 1060.10 h-7.0 M1503.50 1031.22 h-4.0 M1503.50 1002.35 h-7.0 M1503.50 973.48 h-4.0 M1503.50 915.73 h-4.0 M1503.50 886.85 h-7.0 M1503.50 857.98 h-4.0 M1503.50 829.10 h-7.0 M1503.50 800.23 h-4.0 M1503.50 771.35 h-7.0 M1503.50 742.48 h-4.0 M1503.50 713.60 h-7.0 M1503.50 684.73 h-4.0 M1503.50 655.85 h-7.0 M1503.50 626.98 h-4.0 M1503.50 598.10 h-7.0 M1554.80 944.60 v4.0 M1606.10 944.60 v7.5 M1657.40 944.60 v4.0 M1708.70 944.60 v7.5 M1760.00 944.60 v4.0 M1811.30 944.60 v7.5 M1862.60 944.60 v4.0 M1913.90 944.60 v7.5 M1965.20 944.60 v4.0 M2016.50 944.60 v7.5"/>
<text class="tk" text-anchor="end" x="1491.6" y="1128.2">3</text>
<text class="mn" x="1461.2" y="1126.6">−</text>
<text class="tk" text-anchor="end" x="1491.6" y="1070.5">2</text>
<text class="mn" x="1461.2" y="1068.9">−</text>
<text class="tk" text-anchor="end" x="1491.6" y="1012.8">1</text>
<text class="mn" x="1461.2" y="1011.2">−</text>
<text class="tk" text-anchor="end" x="1491.6" y="955.1">0</text>
<text class="tk" text-anchor="end" x="1491.6" y="897.4">1</text>
<text class="tk" text-anchor="end" x="1491.6" y="839.7">2</text>
<text class="tk" text-anchor="end" x="1491.6" y="782.0">3</text>
<text class="tk" text-anchor="end" x="1491.6" y="724.4">4</text>
<text class="tk" text-anchor="end" x="1491.6" y="666.7">5</text>
<text class="tk" text-anchor="end" x="1491.6" y="609.0">6</text>
<text class="tk" text-anchor="middle" x="1605.6" y="982.6">1</text>
<text class="tk" text-anchor="middle" x="1708.2" y="982.6">2</text>
<text class="tk" text-anchor="middle" x="1810.8" y="982.6">3</text>
<text class="tk" text-anchor="middle" x="1913.4" y="982.6">4</text>
<text class="tk" text-anchor="middle" x="2016.0" y="982.6">5</text>
<text class="lt" x="1414" y="646.3">F)</text>
<text class="fl it" transform="translate(1383.90 782.80) skewX(-10.4)">f</text>
<text class="fl pr" transform="translate(1402.50 782.80) scale(0.765 1)">(</text>
<text class="fl gk" transform="translate(1415.00 782.20) scale(1.055 1)">η</text>
<text class="fl pr" transform="translate(1436.60 782.80) scale(0.78 1)">)</text>
<text class="et" transform="translate(1751.80 1020.90) scale(1.07 1)">η</text>
</g>
</svg>
</body>
</html>
